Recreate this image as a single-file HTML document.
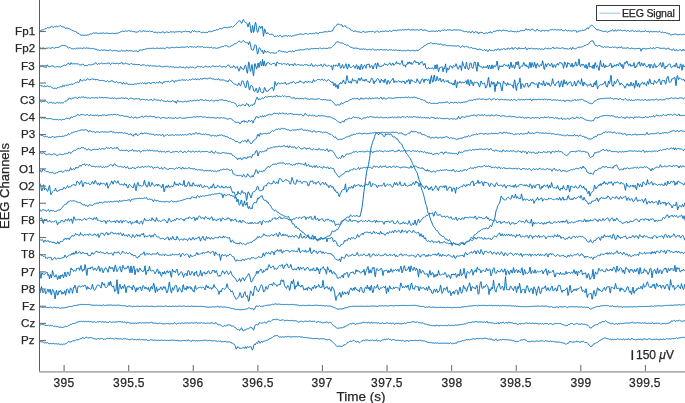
<!DOCTYPE html>
<html><head><meta charset="utf-8"><style>
html,body{margin:0;padding:0;background:#fff;}
body{width:685px;height:403px;overflow:hidden;position:relative;font-family:"Liberation Sans",sans-serif;color:#262626;}
div{will-change:transform;-webkit-text-stroke:0.25px #262626;}
svg{position:absolute;left:0;top:0;}
.yl{position:absolute;right:650.0px;font-size:11.6px;line-height:12px;margin-top:-6.3px;letter-spacing:0.05px;white-space:nowrap;text-align:right;}
.xl{position:absolute;top:376.5px;font-size:12px;line-height:12px;width:60px;margin-left:-30px;text-align:center;letter-spacing:0.35px;}
.xlab{position:absolute;left:311.3px;width:100px;text-align:center;top:390px;font-size:13.5px;line-height:14px;}
.ylab{position:absolute;left:-45px;top:179px;width:100px;text-align:center;font-size:13px;line-height:14px;transform:rotate(-90deg);}
.leg{position:absolute;left:596px;top:5px;width:84px;height:16px;border:1px solid #3a3a3a;background:#fff;box-sizing:border-box;}
.legt{position:absolute;left:622.4px;top:7.3px;font-size:10.6px;line-height:12px;letter-spacing:-0.22px;}
.sb{position:absolute;left:632px;top:350.2px;width:1.4px;height:9.8px;background:#262626;}
.sbt{position:absolute;left:636.3px;top:349px;font-size:12px;line-height:12px;}
</style></head><body>
<svg width="685" height="403" viewBox="0 0 685 403">
<g fill="none" stroke="#0a72bd" stroke-width="1.0" stroke-linejoin="round">
<path d="M39.5 31.3l.5-.2 .5-.4 .5-.3 .5-.2 .5-.3 .5-.1 .5 0 .5-.1 .5-.1 .5-.4 .5-.6 .5 0 .5 .4 .5-.5 .5-.7 .5-.3 .5 .1 .5 .2 .5 .2 .5 0 .5-.6 .5-.3 .5-.3 .5-.5 .5 .3 .5 .3 .5 .3 .5 .2 .5-.3 .5-.4 .5 0 .5 .1 .5-.4 .5-.2 .5 .3 .5 .3 .5-.2 .5-.5 .5 .2 .5-.2 .5-.6 .5 .2 .5 .3 .5 .5 .5 .4 .5 0 .5 0 .5-.1 .5 0 .5 .4 .5 .7 .5 .7 .5-.1 .5-.4 .5-.2 .5 .3 .5 .4 .5-.1 .5-.1 .5 .3 .5 .4 .5 .3 .5 .2 .5 .3 .5 .6 .5-.1 .5 0 .5 .2 .5 .4 .5 .5 .5 .1 .5-.1 .5 .1 .5 .4 .5 .8 .5 .5 .5 0 .5 0 .5 .2 .5 .6 .5 .6 .5 .2 .5 0 .5 .4 .5 .1 .5-.2 .5 0 .5 0 .5 0 .5 .1 .5-.1 .5-.1 .5 .2 .5 0 .5-.2 .5-.1 .5-.1 .5 0 .5-.2 .5-.4 .5-.1 .5-.2 .5 0 .5 .1 .5-.2 .5-.6 .5-.4 .5 0 .5 .2 .5 .1 .5-.2 .5 0 .5 0 .5 0 .5 .1 .5 .2 .5 .2 .5 0 .5-.2 .5-.1 .5 .4 .5-.3 .5-.2 .5 .1 .5 0 .5-.1 .5-.3 .5 .2 .5 .1 .5 .3 .5 .2 .5-.2 .5-.4 .5-.1 .5 .2 .5 .1 .5 .2 .5 .1 .5 0 .5 0 .5 0 .5 0 .5-.1 .5-.1 .5 0 .5-.1 .5-.1 .5 .4 .5 .2 .5-.3 .5-.1 .5 0 .5-.1 .5 .1 .5 .2 .5-.3 .5-.3 .5 0 .5-.1 .5-.3 .5-.3 .5-.3 .5-.2 .5-.5 .5-.1 .5 .1 .5 0 .5 .2 .5 .1 .5-.2 .5-.4 .5-.1 .5 .3 .5 .2 .5 0 .5-.2 .5-.3 .5-.2 .5 .1 .5 .2 .5 .4 .5-.1 .5-.1 .5-.1 .5 .2 .5 .4 .5 0 .5 .1 .5 0 .5-.1 .5 .2 .5 .3 .5 .1 .5 0 .5 .1 .5-.4 .5-.2 .5 0 .5-.4 .5-.7 .5 .1 .5 .4 .5 .4 .5 .3 .5-.3 .5-.4 .5-.2 .5 0 .5 .2 .5 .1 .5 0 .5-.2 .5 .2 .5 .5 .5 0 .5-.3 .5 .1 .5 0 .5-.6 .5-.1 .5 .5 .5 .4 .5-.1 .5-.2 .5-.3 .5 .2 .5 .5 .5 .5 .5 .1 .5 0 .5-.1 .5-.1 .5 0 .5 .1 .5 .3 .5 .3 .5-.4 .5-.5 .5-.2 .5 .6 .5 .7 .5-.4 .5-.3 .5-.1 .5-.4 .5 0 .5 .1 .5-.1 .5 .5 .5 .6 .5 .1 .5-.6 .5-.5 .5-.1 .5 0 .5 .2 .5 .1 .5 .3 .5 .2 .5-.5 .5-.4 .5 0 .5 .2 .5-.1 .5 0 .5 0 .5-.3 .5 .3 .5 .4 .5 0 .5-.2 .5-.3 .5 .1 .5 0 .5-.3 .5 0 .5 .2 .5 0 .5-.3 .5-.1 .5 .3 .5 .1 .5 .2 .5 .2 .5 0 .5-.3 .5-.2 .5-.2 .5 .2 .5 0 .5-.7 .5-.1 .5 .5 .5 .2 .5 0 .5 0 .5 .1 .5-.2 .5-.4 .5 .3 .5 .9 .5 .8 .5-.5 .5-1.1 .5-.5 .5-.4 .5 .3 .5 .6 .5-.3 .5-.2 .5 .3 .5 .1 .5 .2 .5 .2 .5 .1 .5 0 .5-.5 .5-.1 .5 .1 .5 .2 .5-.1 .5 .6 .5 .5 .5 0 .5-.2 .5-.1 .5 0 .5 0 .5 .1 .5 .1 .5 0 .5-.1 .5 .1 .5-.2 .5 0 .5 .2 .5-.2 .5-.6 .5-.7 .5 .1 .5 .4 .5 .2 .5-.1 .5 0 .5 0 .5-.3 .5-.3 .5-.3 .5-.2 .5 0 .5 0 .5-.1 .5-.7 .5 0 .5 .4 .5-.2 .5-.3 .5-.1 .5-.3 .5-.7 .5-.1 .5 .1 .5 .3 .5 .1 .5-.4 .5-.1 .5-.3 .5-.3 .5-.3 .5-.1 .5 0 .5 0 .5 0 .5 .2 .5 .2 .5-.1 .5-.2 .5-.2 .5-.2 .5 .1 .5 .1 .5-.1 .5-.3 .5-.4 .5 .3 .5 .5 .5-.3 .5-.5 .5-.5 .5-.4 .5-.4 .5-.5 .5-.6 .5-.6 .5-.6 .5-.7 .5-.6 .5-.4 .5-.3 .5-.1 .5 .1 .5 .3 .5 1 .5 1.1 .5-.3 .5-1.6 .5-1.5 .5-.3 .5 .8 .5 1.1 .5 .7 .5 .3 .5 .2 .5 .3 .5 .4 .5 2.2 .5 1.4 .5-1.8 .5-2 .5-.7 .5 2.2 .5 3.8 .5 3.4 .5 .9 .5-3.6 .5-3.7 .5 2.4 .5 4.6 .5-1 .5-3.5 .5-3.8 .5-1.8 .5 1.6 .5 3.4 .5 3.4 .5 1.6 .5-.9 .5-1.9 .5-2.1 .5-1.4 .5 .4 .5 1.7 .5 .1 .5-1.1 .5-1.1 .5 .6 .5 5.7 .5 3.9 .5-3.2 .5-4.1 .5 .4 .5 1.8 .5 1.9 .5 .9 .5-.6 .5-.7 .5 .3 .5 .6 .5 .5 .5 .2 .5 0 .5 .1 .5 .1 .5-.3 .5-.2 .5 .2 .5 .7 .5 .7 .5 .6 .5 .5 .5-.2 .5-.3 .5 .2 .5 0 .5-.5 .5-.5 .5 .6 .5 .5 .5-.4 .5-.4 .5-.3 .5 .1 .5 .3 .5 .7 .5 .8 .5-.7 .5-.6 .5 0 .5-.2 .5 .1 .5 .3 .5-.2 .5-.6 .5 0 .5 .8 .5 .2 .5-.6 .5-.3 .5 .5 .5 .2 .5-.3 .5-.2 .5 .3 .5 .4 .5-.3 .5-.3 .5 .2 .5 0 .5-.4 .5-.6 .5-.1 .5 .1 .5 0 .5-.1 .5-.1 .5-.1 .5 0 .5-.3 .5-.3 .5-.1 .5 0 .5 0 .5 .1 .5-.1 .5 .2 .5 .5 .5-.1 .5-.3 .5-.1 .5-.3 .5-.2 .5-.1 .5-.1 .5 0 .5 .2 .5 .5 .5 .3 .5-.2 .5-.5 .5-.5 .5-.1 .5 .3 .5 .2 .5 0 .5 .1 .5-.3 .5-.2 .5 0 .5 .2 .5 .1 .5-.4 .5-.4 .5 .2 .5-.1 .5 .1 .5 .3 .5 .5 .5-.3 .5-.7 .5-.3 .5-.1 .5 0 .5 .2 .5 0 .5-.3 .5 0 .5-.1 .5-.1 .5-.2 .5-.1 .5-.1 .5 0 .5-.1 .5 .1 .5 .3 .5 .1 .5-.6 .5-.3 .5 0 .5 .2 .5 .6 .5-.3 .5-.6 .5-.1 .5 .1 .5-.2 .5-1 .5-1.1 .5-.8 .5-.7 .5-.5 .5-.6 .5-.5 .5-.4 .5-.9 .5-.3 .5 .4 .5-.2 .5-.2 .5 .2 .5 .4 .5 .2 .5-.2 .5-.1 .5 .4 .5 1.3 .5 .3 .5-.2 .5 0 .5-.4 .5-.5 .5 .9 .5 .6 .5 .2 .5 .3 .5 .5 .5 0 .5-.1 .5 .5 .5 .3 .5 0 .5 .8 .5 .7 .5 .2 .5-.1 .5 .3 .5 .6 .5 .3 .5-.2 .5-.1 .5 .1 .5-.2 .5-.3 .5 .6 .5 .5 .5 0 .5-.1 .5-.1 .5 .1 .5 .2 .5 .1 .5 .2 .5 .1 .5 .1 .5-.6 .5-.2 .5 0 .5-.3 .5 0 .5 .8 .5 .5 .5-.6 .5-.4 .5 .2 .5 .2 .5-.1 .5-.2 .5-.2 .5 0 .5 0 .5-.2 .5 .2 .5 .3 .5-.2 .5-.2 .5-.2 .5-.1 .5 .4 .5 .5 .5 .2 .5-.1 .5-.2 .5-.3 .5-.5 .5-.3 .5 0 .5 .5 .5 .7 .5 .3 .5-.1 .5-.6 .5-.2 .5-.1 .5 0 .5-.1 .5-.2 .5 0 .5 .3 .5 .1 .5-.1 .5-.2 .5-.3 .5 0 .5 .2 .5 .1 .5 .1 .5 .2 .5 .1 .5-.5 .5-.5 .5 .1 .5 .3 .5 .2 .5 .2 .5-.1 .5-.6 .5-.4 .5-.1 .5 .1 .5 .1 .5 0 .5 .1 .5 .2 .5 .1 .5-.4 .5-.2 .5 0 .5-.1 .5 0 .5 0 .5-.3 .5 .1 .5 .3 .5-.1 .5-.4 .5-.2 .5 .2 .5 .3 .5-.1 .5-.1 .5-.2 .5 .1 .5 .1 .5 0 .5-.1 .5-.1 .5-.1 .5-.2 .5 0 .5 .3 .5 .6 .5 0 .5-.4 .5 0 .5-.1 .5 .2 .5 0 .5 0 .5 .1 .5 0 .5 0 .5 0 .5-.2 .5 0 .5-.1 .5 .1 .5 .2 .5 .2 .5 .1 .5-.3 .5-.3 .5 0 .5-.4 .5-.1 .5 .7 .5 .4 .5 0 .5-.1 .5 0 .5-.2 .5 0 .5 0 .5 0 .5 .4 .5 .1 .5 .3 .5 .2 .5 .4 .5 .2 .5 0 .5-.3 .5 0 .5 .1 .5-.2 .5-.2 .5 .3 .5 0 .5-.4 .5 .2 .5 .4 .5 .2 .5-.3 .5-.8 .5 .1 .5 .7 .5 .1 .5-.3 .5-.7 .5-.5 .5 .7 .5 .8 .5-.2 .5-.4 .5-.5 .5-.3 .5-.1 .5 .2 .5 .2 .5-.2 .5-.3 .5-.1 .5 .2 .5 .5 .5-.1 .5-.4 .5-.3 .5 .1 .5 .1 .5 .1 .5 0 .5 0 .5-.1 .5 .1 .5 .2 .5 .2 .5-.1 .5-.2 .5-.3 .5-.1 .5 .1 .5 .1 .5 .1 .5 0 .5 0 .5 .1 .5-.2 .5-.1 .5 .1 .5 .2 .5 .1 .5-.1 .5-.1 .5 0 .5 .4 .5 .4 .5 .1 .5 .2 .5 .2 .5 .2 .5 .2 .5 .1 .5-.3 .5-.4 .5 .3 .5 .5 .5 .2 .5 0 .5-.1 .5-.1 .5-.2 .5 .2 .5 .9 .5 .1 .5-1 .5-.6 .5 0 .5 .3 .5 .8 .5 .8 .5-.6 .5-.8 .5-.1 .5 .3 .5 .1 .5-.3 .5 .2 .5 1 .5 1 .5-.7 .5-.8 .5-.4 .5 .2 .5 .3 .5-.1 .5-.3 .5 .3 .5 .6 .5 .5 .5 .1 .5-.2 .5-.2 .5-.2 .5-.3 .5 0 .5 .4 .5 0 .5-.4 .5-.3 .5 .3 .5-.1 .5-1 .5 0 .5 .9 .5 .5 .5-.2 .5-.7 .5-.5 .5-.3 .5-.2 .5 .1 .5 .1 .5-.2 .5-.4 .5-.1 .5 0 .5-.1 .5 .2 .5 0 .5-.1 .5-.5 .5-.3 .5 .6 .5 .3 .5 .1 .5-.2 .5-.2 .5-.1 .5-.3 .5-.3 .5 .7 .5 .3 .5-.2 .5-.1 .5 .2 .5 .1 .5-.1 .5-.1 .5 .5 .5 .8 .5-.2 .5-.5 .5-.2 .5-.1 .5 .1 .5 .4 .5 .1 .5 .1 .5-.1 .5 0 .5 .1 .5-.1 .5 .1 .5 .4 .5 .2 .5-.7 .5-.2 .5 .4 .5 0 .5 0 .5-.3 .5-.7 .5 0 .5 0 .5 0 .5 0 .5-.1 .5 0 .5 0 .5 0 .5-.1 .5-.3 .5-.8 .5-.8 .5 .7 .5 .9 .5-.2 .5-.6 .5 .1 .5 .3 .5 .2 .5 .2 .5 .1 .5-.3 .5-.7 .5-.3 .5 .1 .5 .1 .5 .7 .5 .6 .5 .2 .5 .4 .5 .1 .5-.5 .5-.7 .5-.8 .5 .2 .5 .9 .5 .4 .5-.2 .5 0 .5 .3 .5 .4 .5 0 .5-.1 .5-.3 .5-.6 .5-.2 .5 .7 .5 .5 .5-.4 .5-.1 .5-.1 .5-.3 .5 .1 .5 .2 .5 .2 .5 0 .5 .1 .5-.3 .5-.5 .5-.3 .5-.2 .5 .2 .5 0 .5-.3 .5-.1 .5 .6 .5 .2 .5-.6 .5-.5 .5 .2 .5 .6 .5 .2 .5-.1 .5-.2 .5 .1 .5 .1 .5-.2 .5 .1 .5 .1 .5 0 .5-.2 .5-.4 .5 0 .5 .6 .5 .7 .5 .2 .5-.1 .5-.2 .5-.1 .5-.4 .5-.4 .5 .4 .5 .3 .5 .4 .5 .2 .5-.2 .5-.4 .5 .1 .5 .5 .5 0 .5-.2 .5 0 .5 .3 .5 0 .5-.2 .5-.2 .5-.1 .5 .4 .5 0 .5-.5 .5-.5 .5 .6 .5 1.2 .5 .7 .5-.5 .5-.8 .5-.2 .5 .1 .5-.1 .5-.2 .5 0 .5 .1 .5 .1 .5-.5 .5-.3 .5 .1 .5 .2 .5 0 .5-.3 .5-.4 .5-.1 .5-.2 .5-.9 .5-.8 .5 .1 .5 .7 .5 .2 .5-1.2 .5-.7 .5-.3 .5-.7 .5-.4 .5-.2 .5-.1 .5 .2 .5 .4 .5 .7 .5 .5 .5 .5 .5 .6 .5 .4 .5 .4 .5 .8 .5 .6 .5-.4 .5-.4 .5 .2 .5 .4 .5 .2 .5 .1 .5 .2 .5 .2 .5 0 .5 .1 .5 .2 .5 .2 .5 .2 .5-.1 .5 0 .5-.2 .5-.1 .5 .2 .5 .3 .5 .5 .5 .2 .5-.6 .5-.1 .5 .1 .5-.4 .5-.2 .5-.3 .5-.3 .5 .2 .5-.4 .5-.7 .5 .5 .5 .8 .5 .5 .5-.7 .5-.7 .5-.1 .5 .8 .5 .4 .5-.5 .5-.3 .5-.1 .5-.3 .5 0 .5 .5 .5-.1 .5-.2 .5 .2 .5 .1 .5 .3 .5 .1 .5-.2 .5-.1 .5 0 .5-.2 .5-.1 .5 .3 .5 .5 .5 .3 .5 0 .5-.7 .5-.6 .5 .5 .5 .7 .5 .3 .5-.2 .5-.4 .5-.1 .5 .1 .5-.4 .5-.2 .5 .5 .5 .4 .5 .2 .5 .2 .5-.4 .5-.4 .5 .1 .5 .6 .5 0 .5-.3 .5 0 .5 0 .5-.3 .5 0 .5 .3 .5 .5 .5 0 .5 0 .5-.2 .5-.1 .5 .1 .5-.1 .5 .3 .5-.3 .5-.7 .5 0 .5 .5 .5 .5 .5 .2 .5-.4 .5-.4 .5 .1 .5 .7 .5 .5 .5-1 .5-.2 .5 .6 .5-.1 .5-.1 .5 .2 .5 .2 .5-.3 .5-.2 .5 .1 .5 0 .5 0 .5-.1 .5 .1 .5 .1 .5 .3 .5 .1 .5-.3 .5-.3 .5-.3 .5 .2 .5 .6 .5 .6 .5-.1 .5-.4 .5-.1 .5 .2 .5 .4 .5 .2 .5-.3 .5-.2 .5 0 .5 .6 .5 .4 .5 0 .5-.1 .5 .3 .5 .2 .5-.1 .5 .2 .5 .3 .5 .7 .5 .5 .5-.5 .5-.4 .5 .1 .5 .1 .5-.1 .5-.3 .5-.1 .5-.2 .5 .2 .5-.1 .5 .3 .5 .4 .5 0 .5 0 .5 .1 .5-.3 .5 0 .5-.1 .5-.1 .5 .2 .5 .3 .5 .1 .5-.5 .5-.3 .5 0 .5 .1 .5 .3 .5 .2"/><path d="M39.5 48.3l.5-.5 .5 .3 .5 .4 .5-.3 .5-.1 .5 .1 .5-.3 .5-.1 .5 .1 .5 .4 .5 .7 .5-.3 .5-.5 .5-.1 .5-.1 .5 .2 .5 .1 .5-.5 .5-.2 .5 .4 .5 .5 .5-.3 .5-.4 .5 .2 .5-.2 .5-.3 .5-.1 .5 .5 .5 .6 .5-.3 .5-.4 .5-.2 .5-.2 .5 .1 .5-.1 .5-.1 .5 .1 .5 .1 .5-.2 .5-.4 .5-.3 .5-.4 .5-.4 .5-.1 .5-.1 .5-.2 .5 .1 .5 0 .5 0 .5 .1 .5 0 .5 .2 .5 .1 .5 .3 .5 .6 .5 .4 .5 .4 .5 .6 .5-.3 .5-.6 .5 .2 .5 .6 .5 .4 .5 .1 .5 .1 .5 .2 .5 .1 .5-.1 .5-.3 .5-.2 .5 .3 .5 .3 .5-.3 .5-.4 .5-.2 .5 0 .5 .1 .5 .1 .5-.1 .5 0 .5-.1 .5 0 .5 0 .5 .2 .5 .4 .5-.3 .5-.3 .5-.1 .5 0 .5-.1 .5 .3 .5 .2 .5-.2 .5-.4 .5 .3 .5 .1 .5-.3 .5 .3 .5 .3 .5-.2 .5-.1 .5 .2 .5 .2 .5 .2 .5 .1 .5-.4 .5-.3 .5 .1 .5 .6 .5 .2 .5 .1 .5 0 .5-.1 .5 .2 .5 .4 .5 .3 .5 0 .5-.1 .5 .3 .5 .2 .5 .2 .5-.3 .5-.4 .5-.1 .5 .2 .5 .2 .5 .2 .5-.3 .5-.3 .5 .1 .5 .2 .5 0 .5 .1 .5 .1 .5 .1 .5 .1 .5 .3 .5-.2 .5-.3 .5-.1 .5-.1 .5-.3 .5 .4 .5 .5 .5 .2 .5 0 .5-.3 .5 0 .5 0 .5-.2 .5 0 .5 .4 .5 .1 .5-.3 .5 .2 .5 .3 .5 .1 .5 .1 .5 0 .5-.2 .5-.1 .5 0 .5-.4 .5-.3 .5 .4 .5 .3 .5 .1 .5-.3 .5-.2 .5 .4 .5 .3 .5-.3 .5-.5 .5-.2 .5-.3 .5 .5 .5 .5 .5-.1 .5-.3 .5 .1 .5 .3 .5-.1 .5-.2 .5-.1 .5 .2 .5 .3 .5 .2 .5 .1 .5-.3 .5-.2 .5 .4 .5-.2 .5-.6 .5 .4 .5 .6 .5 .2 .5-.3 .5-.1 .5 0 .5-.8 .5-.9 .5 .5 .5 .3 .5-.3 .5-.1 .5-.2 .5-.2 .5-.1 .5 .1 .5-.1 .5-.3 .5-.3 .5-.2 .5 .2 .5 .2 .5-.3 .5-.5 .5 .1 .5 .2 .5 0 .5-.1 .5-.2 .5 0 .5 .1 .5 .1 .5-.2 .5-.3 .5 .1 .5 .3 .5 .5 .5 .1 .5-.5 .5-.4 .5 0 .5 0 .5 .1 .5 0 .5 .1 .5 .1 .5 0 .5-.1 .5-.2 .5-.1 .5 .3 .5 .1 .5-.2 .5-.1 .5 .2 .5 .3 .5 .2 .5 0 .5-.5 .5-.5 .5-.2 .5-.1 .5-.2 .5 .2 .5 .4 .5 .3 .5-.2 .5-.2 .5 .1 .5-.1 .5-.4 .5-.2 .5 .2 .5 .2 .5 0 .5 0 .5 .1 .5-.1 .5-.2 .5-.1 .5-.2 .5 0 .5 .4 .5 .2 .5-.1 .5-.1 .5-.1 .5 .1 .5 0 .5-.3 .5-.2 .5 0 .5 .1 .5 .1 .5 0 .5 .1 .5 0 .5-.1 .5-.1 .5-.1 .5-.3 .5-.1 .5 .1 .5 .5 .5 .3 .5-.3 .5-.5 .5-.1 .5 .1 .5-.2 .5 .4 .5 .3 .5-.5 .5 .1 .5 .6 .5-.3 .5-.5 .5 .1 .5 .6 .5 .3 .5-.4 .5-.4 .5-.3 .5 0 .5 .5 .5-.1 .5-.1 .5 .1 .5 .1 .5-.2 .5-.1 .5-.1 .5-.3 .5 .5 .5 .7 .5 0 .5-.5 .5 .2 .5 .5 .5-.3 .5-.3 .5-.1 .5 .4 .5 .1 .5-.2 .5 .1 .5 .4 .5 .2 .5-.5 .5-.4 .5 .1 .5 .4 .5 .6 .5-.1 .5-.3 .5 0 .5 .1 .5 0 .5 .1 .5 .1 .5 .3 .5-.1 .5-.4 .5-.1 .5 .2 .5-.4 .5-.1 .5 0 .5-.3 .5-.3 .5-.2 .5 0 .5-.3 .5 0 .5 .1 .5-.3 .5-.5 .5-.1 .5 .2 .5-.1 .5 0 .5 .2 .5 .4 .5 .3 .5 .3 .5 .1 .5 0 .5-.5 .5-.4 .5-.2 .5-.2 .5-.2 .5-.2 .5 .1 .5-.4 .5-.8 .5-.5 .5-.2 .5 .1 .5 0 .5-.2 .5-.5 .5-.5 .5-.5 .5-.4 .5-.2 .5-.1 .5 .4 .5 .6 .5 .3 .5-.2 .5-.6 .5-.6 .5-.5 .5 0 .5 .5 .5 .7 .5 .3 .5 .2 .5 .1 .5 0 .5 .1 .5 .2 .5 .5 .5 1.5 .5-1.9 .5-1.2 .5 1.3 .5 1.9 .5 2.6 .5 2.2 .5 .4 .5 .1 .5 .1 .5-.2 .5-2 .5-2.4 .5-.9 .5 .2 .5 .5 .5 1.7 .5 4.4 .5 2.6 .5-1.1 .5-2.4 .5-2.3 .5-.7 .5 .7 .5 1.1 .5 1.2 .5 .8 .5-.7 .5-.4 .5 2.5 .5 1.2 .5-1.8 .5-1.9 .5 .4 .5 1.3 .5 .5 .5-.4 .5-.5 .5 0 .5 .1 .5 .3 .5 .2 .5 .2 .5 .4 .5 .3 .5-.3 .5-.1 .5 0 .5 0 .5 .1 .5 .3 .5 .1 .5 0 .5 .1 .5-.1 .5-.1 .5-.2 .5-.4 .5-.5 .5-.5 .5-.4 .5-.4 .5-.2 .5 .3 .5 .3 .5-.1 .5 .1 .5 .5 .5 .2 .5-.2 .5 0 .5 .3 .5 .1 .5-.1 .5 0 .5 .1 .5 .2 .5 .2 .5 0 .5-.3 .5-.7 .5-.2 .5 .2 .5 0 .5-.1 .5 .3 .5 .1 .5-.4 .5-.4 .5 0 .5 .6 .5 .6 .5-.7 .5-.8 .5-.2 .5 0 .5 .1 .5 0 .5-.2 .5-.3 .5-.1 .5 .1 .5 .2 .5-.1 .5-.4 .5-.1 .5 .2 .5 .1 .5 0 .5-.1 .5-.1 .5-.1 .5-.1 .5-.2 .5-.1 .5 .2 .5-.4 .5-.6 .5 .4 .5 .6 .5 0 .5-.2 .5-.1 .5 .2 .5-.3 .5-.3 .5-.3 .5 .1 .5 .2 .5 .1 .5-.1 .5-.1 .5-.1 .5 .1 .5 0 .5 0 .5-.1 .5 0 .5 0 .5 .2 .5 .2 .5-.4 .5-.5 .5-.1 .5 .2 .5 .3 .5 .4 .5 .1 .5-.3 .5-.2 .5-.2 .5 .1 .5 0 .5 0 .5 .1 .5-.1 .5 .1 .5 .3 .5-.1 .5-.4 .5-.3 .5 0 .5 0 .5-.1 .5 .1 .5 0 .5-.3 .5-.5 .5-.5 .5-.5 .5-.6 .5-.6 .5-.2 .5-.4 .5-.8 .5-1 .5-.5 .5-.2 .5 .1 .5 0 .5 0 .5 .4 .5 .1 .5 .1 .5 .6 .5 .2 .5-.3 .5-.1 .5 .2 .5 .1 .5 .3 .5 .5 .5 .4 .5 0 .5-.1 .5 .6 .5 .5 .5-.1 .5-.4 .5 .2 .5 .4 .5 .4 .5 .6 .5 .6 .5 0 .5 .2 .5 0 .5 0 .5 .4 .5 .6 .5-.1 .5-.2 .5 .2 .5 0 .5-.2 .5 .1 .5 .2 .5 0 .5 0 .5 .1 .5 .1 .5 .3 .5 .3 .5 0 .5 .1 .5 .3 .5-.4 .5-.1 .5 .1 .5 0 .5-.2 .5 .1 .5 .3 .5 .1 .5-.3 .5 .1 .5 .3 .5 .3 .5 0 .5 0 .5-.2 .5-.3 .5-.1 .5 .1 .5 .4 .5 .3 .5-.1 .5-.4 .5-.8 .5 .2 .5 .4 .5 .5 .5 .3 .5-.1 .5-.1 .5-.1 .5 .2 .5 .1 .5-.4 .5-.3 .5 .3 .5 .3 .5 .1 .5-.1 .5-.5 .5-.4 .5 .4 .5 .4 .5 0 .5-.1 .5 .1 .5 .2 .5-.3 .5 0 .5 .2 .5-.2 .5-.4 .5 .2 .5 .7 .5 0 .5-.2 .5-.2 .5-.2 .5 .1 .5 .1 .5 0 .5-.2 .5 .2 .5 .5 .5-.1 .5-.3 .5 0 .5 .3 .5 0 .5-.3 .5-.1 .5 .1 .5 .1 .5 .4 .5 .2 .5-.2 .5-.3 .5 .4 .5 0 .5-.6 .5 .2 .5 .6 .5 .2 .5-.3 .5-.1 .5 .2 .5-.3 .5-.2 .5 .1 .5 .4 .5 .2 .5-.2 .5-.2 .5-.3 .5-.2 .5 .1 .5 .1 .5 .3 .5 .2 .5 .1 .5 0 .5-.3 .5 0 .5-.2 .5-.1 .5 .3 .5 .3 .5-.3 .5 .2 .5 0 .5-.3 .5-.2 .5 0 .5 .3 .5 .1 .5-.4 .5-.4 .5-.4 .5-.3 .5-.3 .5-.4 .5-.6 .5-.5 .5 0 .5-.1 .5-.8 .5-.8 .5 0 .5 0 .5-.4 .5-.5 .5-.4 .5-.4 .5-.2 .5-.2 .5-.2 .5-.1 .5 .2 .5-.3 .5-.4 .5-.2 .5 .3 .5 .5 .5 .3 .5-.2 .5-.1 .5-.2 .5 .3 .5 .2 .5-.5 .5 0 .5 .4 .5 .4 .5 .2 .5 0 .5-.1 .5 0 .5 .2 .5-.1 .5-.1 .5-.2 .5 .3 .5 .6 .5 .4 .5-.1 .5-.1 .5-.2 .5 0 .5 .3 .5-.1 .5 .1 .5 .4 .5 .4 .5-.1 .5-.1 .5 .1 .5-.2 .5-.2 .5 .2 .5 .1 .5 .1 .5-.2 .5 .1 .5 .2 .5 0 .5 0 .5-.1 .5 0 .5 .1 .5 .1 .5 .1 .5 .1 .5-.2 .5-.3 .5 .1 .5 .2 .5 .1 .5 .2 .5 1 .5 .4 .5-.5 .5-.7 .5-.5 .5-.2 .5 .3 .5 .6 .5 .4 .5-.1 .5-.1 .5 0 .5-.5 .5-.3 .5 .5 .5 .5 .5-.2 .5 .2 .5 .4 .5 .5 .5 .2 .5-.5 .5-.4 .5 .1 .5 .6 .5 .3 .5 0 .5 .1 .5-.1 .5 .1 .5 .1 .5 .1 .5 .3 .5 0 .5 .1 .5 .7 .5 .3 .5-.6 .5-.4 .5 0 .5 .2 .5 .2 .5 0 .5 .1 .5 .6 .5 .3 .5 .2 .5-.2 .5-.6 .5-.3 .5 .7 .5 .5 .5-.8 .5-.3 .5 .9 .5 .8 .5 .3 .5-.5 .5-1.1 .5-.7 .5 .6 .5 .6 .5 .1 .5-.2 .5-.2 .5 .3 .5 .3 .5 .1 .5-.5 .5-.4 .5-.2 .5-.1 .5 .1 .5 .3 .5-.2 .5-.8 .5-.2 .5 .1 .5 0 .5 .7 .5 .7 .5-.7 .5-.7 .5 .2 .5 0 .5 .1 .5 0 .5-.6 .5-.5 .5 1 .5 .5 .5-.1 .5-.8 .5 0 .5 .5 .5-.4 .5-.8 .5-.2 .5 .7 .5 .4 .5-.1 .5-.3 .5 .1 .5-.4 .5-.8 .5 .8 .5 1.2 .5-.3 .5-.7 .5-.6 .5-.4 .5 .1 .5 .4 .5 .5 .5 .4 .5 .3 .5-.3 .5-1.2 .5-.3 .5 .9 .5 .7 .5 0 .5-.6 .5 0 .5 .2 .5-.1 .5 0 .5 0 .5 0 .5-.1 .5-.7 .5-.3 .5 1 .5 1.1 .5 .3 .5-.6 .5-1 .5 0 .5 .5 .5-.1 .5-.1 .5 .1 .5-.1 .5-.3 .5 .3 .5 .3 .5 0 .5-.1 .5-.1 .5 0 .5 .2 .5 .1 .5 0 .5-.2 .5-.1 .5 .2 .5 .1 .5 .2 .5-.2 .5-.2 .5 .3 .5 .3 .5 0 .5-.2 .5-.3 .5 0 .5 .7 .5 0 .5-.6 .5-.1 .5-.3 .5-.6 .5 0 .5 .7 .5 .6 .5-.3 .5-.7 .5 0 .5 .3 .5 .3 .5-.1 .5 0 .5-.1 .5-.2 .5-.3 .5-.6 .5-.5 .5 1 .5 .7 .5-.4 .5-.2 .5 .2 .5-.1 .5-.4 .5-.1 .5 .3 .5 .1 .5 0 .5 0 .5 .2 .5-.2 .5 .3 .5 .1 .5-.4 .5-.3 .5-.1 .5 .4 .5 .1 .5-.1 .5 .7 .5 .2 .5-.4 .5-.2 .5 .2 .5 .2 .5 .1 .5 .4 .5-.1 .5-.5 .5-.1 .5-.4 .5-.5 .5 1 .5 .8 .5-.6 .5-1.3 .5-.2 .5 1 .5 .3 .5 0 .5 .2 .5 .1 .5-.1 .5-.5 .5-.6 .5-.5 .5-.4 .5 .3 .5-.1 .5 .1 .5 .4 .5-.3 .5-.4 .5 0 .5 .1 .5-.3 .5-.1 .5-.4 .5-.5 .5-.1 .5-.1 .5-.1 .5-.3 .5-.2 .5-.5 .5 0 .5 .1 .5-.4 .5-.6 .5-1.1 .5-.7 .5-.1 .5-.3 .5-.3 .5 .1 .5-.2 .5-.2 .5 1 .5 1.4 .5 .9 .5 .8 .5 .7 .5-.2 .5 .2 .5 .7 .5 .1 .5-.4 .5-.2 .5-.1 .5-.1 .5-.1 .5 .4 .5 .7 .5 .3 .5-.2 .5 .1 .5 .5 .5 .5 .5-.6 .5-.5 .5 .3 .5 .3 .5-.3 .5 0 .5 .2 .5-.2 .5-.2 .5 .2 .5 .2 .5 .5 .5-.1 .5-.2 .5 .3 .5-.1 .5-.5 .5-.2 .5 .5 .5 0 .5 0 .5-.2 .5-.2 .5 .1 .5 .6 .5 .1 .5-.1 .5 .4 .5 .1 .5-.7 .5-.1 .5 0 .5 .4 .5 0 .5-.8 .5-.3 .5 .8 .5 .8 .5 .4 .5-.4 .5-.1 .5 0 .5 .1 .5-.1 .5-.1 .5 .2 .5-.3 .5-.2 .5 0 .5 .2 .5 .4 .5 .5 .5 .3 .5-.1 .5-.8 .5-.2 .5 0 .5 .4 .5 .2 .5-.2 .5 .1 .5 .2 .5 .2 .5-.1 .5-.2 .5-.1 .5 0 .5 0 .5 0 .5 0 .5 0 .5-.2 .5-.1 .5 1.2 .5 1.8 .5-.8 .5-1.7 .5 .2 .5 0 .5-.7 .5 .2 .5 .1 .5 .1 .5 .3 .5 0 .5-.1 .5 0 .5-.1 .5 0 .5-.1 .5-.1 .5 0 .5-.2 .5-.4 .5-.1 .5 .5 .5 .5 .5-.3 .5-.8 .5-.1 .5 .7 .5 .6 .5-.4 .5-.4 .5-.2 .5-.4 .5 .3 .5-.1 .5-.5 .5 .4 .5 .5 .5 0 .5 0 .5 .2 .5 .2 .5-.1 .5-.1 .5-.1 .5 0 .5 .1 .5-.2 .5 .1 .5 .4 .5 .2 .5-.1 .5 .4 .5 0 .5-.8 .5-.5 .5 .7 .5 .8 .5-.2 .5-.2 .5 .5 .5 .4 .5 .1 .5 .4 .5 0 .5-.9 .5-.6 .5 .4 .5 1 .5 .7 .5-.7 .5-.6 .5 .2 .5 .1 .5 .4 .5 .6 .5-.2 .5-.5 .5-.4 .5-.5 .5 .4 .5 .6 .5 .6 .5 .1 .5-1.1 .5-.7 .5 .9 .5 .6 .5-.3 .5-.9"/><path d="M39.5 66.2l.5 .2 .5 .2 .5-.1 .5-.1 .5 0 .5-.3 .5 .1 .5 .4 .5 .3 .5 .1 .5-.3 .5 .3 .5 .6 .5-1 .5-1.5 .5-.1 .5 1.1 .5 .3 .5 0 .5 .3 .5 .3 .5-.5 .5-.7 .5 .1 .5 .3 .5-.2 .5 0 .5 .2 .5 .3 .5 .6 .5 .3 .5-.5 .5-.2 .5 0 .5-.2 .5 .1 .5 .4 .5-.1 .5-.2 .5 .1 .5 .1 .5 .3 .5-.2 .5-.4 .5-.3 .5-.2 .5 0 .5-.5 .5-.8 .5 .3 .5 .5 .5-.1 .5-.3 .5-.4 .5-.7 .5-.4 .5-.3 .5-.3 .5 .3 .5 .7 .5 .7 .5-.8 .5-1.4 .5 .7 .5 .8 .5-.2 .5-.2 .5-.1 .5-.1 .5 .4 .5 .1 .5-.2 .5-.2 .5 .2 .5 .3 .5-.2 .5 0 .5 .2 .5 .4 .5 .4 .5-.1 .5 0 .5 .1 .5 0 .5-.3 .5-.5 .5 .1 .5 .2 .5 .6 .5 .6 .5 0 .5-.1 .5-.1 .5 .1 .5 .4 .5-.3 .5-.5 .5-.5 .5-.1 .5 .5 .5 .3 .5-.4 .5-.2 .5 .2 .5-.2 .5-.3 .5-.2 .5 .1 .5 0 .5-.3 .5-.8 .5-.5 .5 .1 .5 .8 .5 .6 .5 .5 .5-.7 .5-.6 .5 .3 .5 .4 .5-.2 .5-.6 .5-.5 .5 .4 .5 .4 .5 .2 .5 .1 .5-.3 .5-.3 .5 .4 .5-.1 .5-.6 .5 .6 .5 .5 .5-.5 .5-.7 .5 0 .5 .2 .5 .2 .5 0 .5 .4 .5 .8 .5-.2 .5-.8 .5-.4 .5-.2 .5 .6 .5 .1 .5-.2 .5 0 .5 0 .5 .3 .5 .1 .5-.3 .5-.4 .5-.1 .5 .7 .5 .4 .5-.7 .5-.1 .5 .5 .5-.5 .5-.7 .5-.5 .5 .5 .5 1.4 .5 .2 .5-.4 .5 0 .5 0 .5-.3 .5-.4 .5 .2 .5 .5 .5-.2 .5 .2 .5 .3 .5 0 .5 .2 .5 .1 .5 0 .5-.5 .5-.6 .5 .2 .5 .5 .5 .3 .5 .4 .5-.3 .5-.6 .5 .6 .5 .6 .5-.5 .5-.2 .5 .2 .5 .1 .5-.1 .5-.1 .5 .1 .5 .1 .5-.1 .5 .1 .5 .6 .5 .7 .5-.6 .5-.5 .5 .1 .5 .2 .5-.2 .5-.3 .5 .2 .5 .6 .5 .3 .5 0 .5 0 .5-.3 .5-.3 .5 .1 .5 .4 .5 .3 .5 .2 .5-.4 .5-.5 .5 .3 .5 .5 .5 0 .5 0 .5 0 .5-.1 .5-.2 .5 .4 .5 .1 .5-.2 .5-.1 .5 .3 .5 .2 .5 0 .5 .2 .5-.4 .5-.5 .5 .3 .5 .2 .5 .1 .5-.1 .5 .5 .5 .5 .5-.4 .5-.2 .5 0 .5-.1 .5-.1 .5 0 .5 .1 .5 0 .5-.1 .5-.2 .5 .1 .5 .3 .5 .2 .5 .1 .5 .1 .5-.3 .5-.3 .5 .2 .5 .6 .5 0 .5-.3 .5-.2 .5 0 .5 .5 .5 .7 .5-.3 .5-.4 .5-.1 .5 0 .5 .2 .5 .2 .5 .2 .5 .2 .5-.6 .5-.7 .5 .2 .5 .1 .5 0 .5 .7 .5 .3 .5-.4 .5-.5 .5 .1 .5 .4 .5 .5 .5 .1 .5-.2 .5-.3 .5-.7 .5-.3 .5 .7 .5 .5 .5 .1 .5-.4 .5-.2 .5-.1 .5-.2 .5 .1 .5 .2 .5-.1 .5-.1 .5 0 .5 .2 .5 .4 .5 .5 .5-.4 .5 .1 .5 .1 .5-.6 .5-.9 .5-.3 .5 .4 .5 .1 .5-.4 .5 .1 .5 .5 .5 .1 .5-.3 .5-.3 .5 .1 .5 .8 .5 .5 .5-.4 .5-.3 .5-.1 .5-.6 .5-.3 .5-.1 .5 .4 .5 .4 .5 .1 .5 0 .5-.1 .5-.2 .5 0 .5 .2 .5 .5 .5-.1 .5-.5 .5-.4 .5-.3 .5 0 .5 .1 .5 .2 .5 .3 .5-.1 .5 .1 .5 0 .5-.6 .5 .1 .5 .4 .5 .1 .5-.1 .5-.5 .5-.1 .5 .2 .5 .2 .5 .4 .5 .2 .5-.2 .5 .2 .5-.2 .5-.3 .5-.1 .5 .2 .5 .8 .5-.2 .5-.3 .5-.3 .5-.3 .5-.8 .5-.6 .5 .2 .5 .5 .5 .6 .5 .8 .5 .5 .5-.1 .5-.2 .5 0 .5 .2 .5-.3 .5-1.1 .5-.1 .5 .5 .5 1 .5 .9 .5-.4 .5-.8 .5-.5 .5 .5 .5 1.6 .5 1.9 .5 .7 .5-1 .5-2.1 .5-1.6 .5 .5 .5 1.3 .5 .1 .5 .1 .5 .7 .5 .7 .5-.9 .5-2.2 .5-1.3 .5-.4 .5 1.6 .5 2.9 .5 2.6 .5 1.1 .5-4.9 .5-6.5 .5 .7 .5 3.2 .5 3.7 .5 1.9 .5-1.6 .5-3.7 .5-1.5 .5 3.5 .5 5 .5 2.7 .5-3.7 .5-7.2 .5-1.3 .5 1.4 .5 2 .5 1.9 .5-.3 .5-3.3 .5-2.4 .5 1.4 .5 3.3 .5-.9 .5-4.4 .5-.8 .5 2.1 .5 2.3 .5-1.2 .5-5.3 .5 4.4 .5 2.3 .5-4.7 .5-.2 .5 3.8 .5 1.1 .5-.9 .5-1.5 .5-.9 .5 .3 .5-.4 .5-.4 .5 .6 .5 1 .5 .4 .5-.1 .5 .1 .5 .2 .5-.4 .5-.5 .5-.2 .5 0 .5 0 .5-.2 .5 .6 .5 1.8 .5 .6 .5-2.3 .5-2 .5 .5 .5 .6 .5 .4 .5 .3 .5-.2 .5-.4 .5 .3 .5 .5 .5 .2 .5-.1 .5 .2 .5-.1 .5-.5 .5 .3 .5-.1 .5-.2 .5 .2 .5 .7 .5 .3 .5-.9 .5-.3 .5 .3 .5-.1 .5 .9 .5 1.1 .5-1.2 .5-.6 .5 .7 .5 .2 .5-.5 .5 .2 .5 1.1 .5 0 .5-1.6 .5-.9 .5 .5 .5 1.2 .5 .4 .5-.1 .5-.2 .5-.4 .5-.5 .5 .4 .5 .4 .5 .1 .5 .2 .5-.1 .5-.2 .5 .1 .5 .2 .5 0 .5 .1 .5 .1 .5-.2 .5-.6 .5-.1 .5 .5 .5-.3 .5-.5 .5 .6 .5 .4 .5 .2 .5 .1 .5-.3 .5 .1 .5 .5 .5-.2 .5-1 .5-1.1 .5 1 .5 1.5 .5 .5 .5-.7 .5-.2 .5 .4 .5-.4 .5-.7 .5-.2 .5 .5 .5 .7 .5 .4 .5-.6 .5-.5 .5-.1 .5 .3 .5 .3 .5-.7 .5-.8 .5 .9 .5 1.1 .5 .6 .5-.1 .5-1 .5-1.2 .5-.7 .5 .6 .5 1.2 .5 .4 .5-.2 .5 .1 .5 .2 .5-.4 .5-.4 .5-.1 .5 .4 .5 .5 .5 .2 .5-.4 .5-.2 .5 2 .5 2.4 .5-2.5 .5-2.8 .5 .6 .5 .4 .5 .5 .5-.3 .5-1.2 .5 .5 .5 .9 .5 .1 .5-.2 .5-1.3 .5-1.8 .5 1.1 .5 2.3 .5 1.8 .5 0 .5-1.3 .5-1.4 .5-1 .5 1.8 .5 1.9 .5 0 .5-.9 .5-.9 .5-1.9 .5-.8 .5 2.4 .5 2.3 .5 .7 .5-1.8 .5-3.1 .5-.1 .5 2.3 .5 1 .5-.1 .5 0 .5 0 .5-.2 .5-.5 .5-.5 .5-.7 .5 .8 .5 1.2 .5 1 .5-.9 .5-1.9 .5-.9 .5 1.2 .5 3.3 .5-.8 .5-2 .5 0 .5 1.7 .5 1.8 .5-1.7 .5-3.2 .5-.9 .5 2 .5 3.2 .5-1.5 .5-1.3 .5-.5 .5-.9 .5 .3 .5 2.3 .5 .7 .5-2.1 .5-2.2 .5 .2 .5 .5 .5-.7 .5-.3 .5 2.2 .5 1.7 .5-.9 .5-.9 .5-.3 .5 .1 .5 1.5 .5 1.9 .5-1.1 .5-2.4 .5-.8 .5-.6 .5-.9 .5 2.1 .5 3.4 .5-2.5 .5-3.6 .5 .6 .5 2.1 .5 1 .5-.5 .5 .2 .5 1 .5-.7 .5-.3 .5 .3 .5-.8 .5-.3 .5 .2 .5-.9 .5-1.1 .5 .2 .5 1 .5-.1 .5-.6 .5 .9 .5 .6 .5-.5 .5-.6 .5-.7 .5-.9 .5 .2 .5 1.4 .5 1 .5-.3 .5-.7 .5-1.1 .5-.4 .5 2.2 .5 .4 .5-.9 .5-.3 .5-.4 .5-1.2 .5-1.1 .5 1.7 .5 .8 .5-.5 .5-.6 .5 .2 .5 1 .5 .3 .5-.7 .5-.4 .5-.8 .5-2.3 .5 2.1 .5 2.8 .5 .4 .5 .2 .5-1 .5 .6 .5 1.8 .5-2.5 .5-.2 .5 .2 .5-1.9 .5-.8 .5 1.6 .5-.3 .5-1.5 .5 1.8 .5 .2 .5-1.4 .5 1.7 .5 .5 .5-.7 .5-.8 .5-.9 .5-.5 .5-1.1 .5 .1 .5 1.4 .5 .8 .5-.9 .5 .3 .5 .3 .5-.6 .5 1.2 .5 1.7 .5-.9 .5-1.2 .5 0 .5 .1 .5-.7 .5-.7 .5 1.2 .5 1 .5 1.5 .5-.1 .5-1.4 .5-.4 .5 2.7 .5 2.4 .5 .3 .5-.1 .5 .4 .5-.7 .5-.8 .5 .2 .5 .8 .5 .1 .5-.5 .5 .3 .5 0 .5-.4 .5-.3 .5 .6 .5 .9 .5-.2 .5-1.5 .5-2.6 .5 .7 .5 3.4 .5-2.3 .5-2.2 .5 2 .5 2.8 .5 2.3 .5-1.5 .5-2.4 .5-.4 .5 .1 .5 0 .5-.5 .5-.3 .5 2 .5 3.2 .5-1.7 .5-2.3 .5 1.1 .5-2.1 .5-2.9 .5 3.9 .5 4.8 .5-2.5 .5-2.2 .5 1.4 .5 .8 .5-1.2 .5-2 .5-1.1 .5 .1 .5 .3 .5 .1 .5 1.4 .5 .7 .5-2 .5-.9 .5 .2 .5 .5 .5 .3 .5-1.7 .5-1.1 .5 1.3 .5 1.7 .5 1.7 .5 .8 .5-1.2 .5-.5 .5-1.7 .5-.4 .5 .6 .5 2.4 .5 2.1 .5-4.2 .5-4.7 .5 1.6 .5 2.4 .5 .5 .5 1.1 .5 1.5 .5-.2 .5-4.1 .5-2.3 .5 3.6 .5 1.9 .5 1.3 .5 .9 .5-1.1 .5-2.3 .5-3 .5-.5 .5 .1 .5 2.5 .5 2.2 .5 .7 .5-.1 .5-2 .5-3 .5-1.3 .5 0 .5 1.2 .5 3 .5 3.4 .5 1.7 .5-5.2 .5-3.9 .5 3.2 .5 .8 .5-.6 .5 1.1 .5 .1 .5-.5 .5 .4 .5 1 .5 .3 .5 .2 .5-1.6 .5-.1 .5 .8 .5-.1 .5-.5 .5 1.2 .5-.4 .5-1.2 .5-1.1 .5 2.3 .5 1.6 .5-3 .5-1 .5 1.5 .5 1.7 .5 .7 .5-2 .5-2.2 .5 1.9 .5 1.9 .5-1.2 .5-1.9 .5 .2 .5 1.2 .5-.2 .5-.8 .5-2.2 .5-2.6 .5 1.9 .5 4.4 .5 2.8 .5-2.4 .5-2 .5-.1 .5 .7 .5 .4 .5-.8 .5-.2 .5 1.2 .5-.9 .5-1.3 .5-.5 .5 0 .5 .4 .5 .9 .5-.2 .5-.3 .5 .9 .5 .5 .5-.7 .5-1.4 .5 2 .5 2.6 .5-1.9 .5-2.9 .5-2.2 .5 3 .5 2.6 .5-.4 .5-1.8 .5-.4 .5 1.6 .5 2 .5-1.3 .5-2.7 .5-2.7 .5 1.3 .5 1.9 .5-.7 .5-3.1 .5 .5 .5 4.7 .5 2.5 .5-1.2 .5-.8 .5-.3 .5-.8 .5-.1 .5 .4 .5-1.3 .5-2.2 .5-.1 .5 1.6 .5 1.7 .5 .1 .5-1.4 .5 .8 .5 1.5 .5-1 .5 .7 .5 1.8 .5-1.6 .5-3.7 .5-.9 .5 2.8 .5 2.8 .5-2 .5-3.3 .5 .9 .5 2.2 .5 1.5 .5-1.9 .5-3 .5 1.7 .5 2.2 .5 2.2 .5-1.8 .5-2.9 .5-.3 .5 1.7 .5 .9 .5 .6 .5 .2 .5-1.2 .5-.7 .5 0 .5 1 .5-1.8 .5-3.3 .5 1.4 .5 3.5 .5 3.4 .5 .4 .5-3.1 .5-2.5 .5 1.3 .5 1.8 .5-1.7 .5-1.2 .5-.1 .5-.5 .5 .7 .5 1.3 .5 .4 .5 0 .5-1.2 .5-1.5 .5 .9 .5 2.9 .5 .7 .5-2.1 .5-1 .5 .4 .5 .9 .5 1.7 .5-1.7 .5-1 .5-1 .5-.3 .5 1.5 .5 0 .5-1.5 .5-1.1 .5 .2 .5 .1 .5-.3 .5 1.3 .5 .5 .5-.5 .5 1.9 .5 2.8 .5-2.3 .5-4.1 .5 .1 .5 1.8 .5 .7 .5 3 .5-.6 .5-4.2 .5-.2 .5 1.3 .5-.7 .5 .9 .5 .5 .5 1.2 .5 1.1 .5-2.2 .5-1.5 .5 1.7 .5 2.4 .5-1 .5-1.1 .5 .9 .5-1.6 .5-2.7 .5 .9 .5 3 .5 .4 .5-.7 .5-.3 .5-3.5 .5-2.7 .5 3.1 .5 4.1 .5 .4 .5-1 .5-1.2 .5-.2 .5 1 .5 .3 .5-1.1 .5 .7 .5 2 .5 .8 .5-.6 .5-2.8 .5 .7 .5 3.9 .5-1.5 .5-1.4 .5-1.6 .5-1.9 .5 2.8 .5 1.8 .5-.7 .5 0 .5 .2 .5 1.2 .5 .2 .5-3.2 .5 .2 .5 3.6 .5-2.5 .5-3.4 .5-.1 .5 3.1 .5 1.4 .5-1 .5-.6 .5 .9 .5 2.4 .5 1.6 .5-2.8 .5-4.8 .5-2.4 .5 3.5 .5 2 .5-.2 .5 1.2 .5-.7 .5-2.9 .5 1.8 .5 2.8 .5-.6 .5-2.1 .5 0 .5 1.4 .5 .4 .5-.6 .5-.5 .5-.1 .5 .3 .5-.5 .5-1.6 .5-1.1 .5 .7 .5 2.5 .5 1.7 .5-1 .5-1.3 .5 1 .5 0 .5-1.7 .5 0 .5 .8 .5 .6 .5-1.2 .5-1 .5 1 .5 .5 .5 0 .5-1.6 .5-1.3 .5 .6 .5 .1 .5 2.3 .5 1 .5-2.4 .5 1.1 .5 3.3 .5-.9 .5-3 .5-2 .5-.5 .5 1.1 .5-.4 .5-1.9 .5-.1 .5 1.9 .5 1.2 .5 1.2 .5 .4 .5-1.3 .5-.6 .5 1.2 .5 1.4 .5-.9 .5-.4 .5 .8 .5 .2 .5-1.4 .5-2.1 .5 2.9 .5 2.5 .5-1.3 .5-.1 .5 .5 .5-1.8 .5-2 .5 0 .5 0 .5-1.6 .5 .3 .5 3.6 .5 .7 .5-1.7 .5-1.8 .5 .8 .5 1.3 .5 1.1 .5-.4 .5-2.4 .5 .4 .5 1.3 .5 .5 .5 .7 .5 .9 .5 .3 .5-.8 .5 0 .5-1.1 .5-1.3 .5 2.1 .5 1.9 .5-1.8 .5-2.1 .5 .7 .5 .8 .5 .9 .5 1.6 .5-.5 .5-3.3 .5-.9 .5 1.3 .5 1.3 .5 1.5 .5-1.3 .5-.4 .5 .6 .5-.2 .5-.5 .5-.8 .5-1 .5-.7 .5-.7 .5 2.1 .5 2.4 .5-.3 .5-2.3 .5-2 .5 .9 .5 3.2 .5 2 .5 .5 .5-1.8 .5-1.3 .5 .8 .5 .1 .5-.9 .5-1.2 .5-.5 .5-.3 .5 0 .5 .1 .5 1.2 .5 2 .5 .5 .5-.3 .5-.9 .5-.4 .5 .1 .5-.8 .5-.6 .5 2.1 .5-.4 .5-3.2 .5-.5 .5 2.5 .5 2.4 .5-.4 .5-.3 .5 1.2 .5-.1 .5-2.5 .5-1.9 .5 .6 .5 2.8 .5 3.1 .5-2.4 .5-3.3 .5 1.2 .5 1 .5-.8 .5 1.1"/><path d="M39.5 84.5l.5 .3 .5 .5 .5 .5 .5 .2 .5 0 .5-.1 .5 .6 .5 .6 .5-.5 .5-.8 .5 0 .5 .6 .5 .3 .5-.6 .5-.4 .5 .3 .5 .3 .5 0 .5 .1 .5 .6 .5-.4 .5-.4 .5 .7 .5 .5 .5 .4 .5 .1 .5 .3 .5 .4 .5-.3 .5-.1 .5 .1 .5 0 .5 .3 .5 0 .5-.6 .5-.4 .5-.1 .5 .2 .5-.2 .5-.4 .5-.3 .5-.1 .5-.1 .5 .2 .5 .4 .5-.9 .5-.9 .5 .6 .5 .7 .5-.4 .5-1 .5-.5 .5 .5 .5 .1 .5-.4 .5 .1 .5-.3 .5 .3 .5-.2 .5-.3 .5 .1 .5-.1 .5-.3 .5-.3 .5 .1 .5 .3 .5 0 .5-.6 .5-.2 .5-.1 .5-.5 .5-.4 .5 .2 .5-.2 .5-.6 .5-.1 .5 .3 .5 .3 .5 .1 .5-.8 .5-1.8 .5-.9 .5 1.3 .5 .5 .5 0 .5-.1 .5-.4 .5-.5 .5-.1 .5 .2 .5 .1 .5 .2 .5 .1 .5-.4 .5-1 .5-.4 .5 .1 .5 .4 .5 .7 .5 .3 .5-.6 .5 0 .5 .1 .5-.6 .5-.4 .5 .4 .5 .2 .5 .2 .5 .3 .5-.5 .5-.2 .5 1 .5 .1 .5-.7 .5 0 .5 .2 .5 .2 .5 .1 .5 .2 .5 .6 .5 .1 .5-.3 .5-.1 .5 0 .5 .1 .5 .1 .5-.1 .5 .1 .5 .1 .5 .1 .5 .3 .5 .3 .5 0 .5 0 .5-.5 .5-.2 .5 .5 .5 .5 .5 .3 .5-.2 .5-.5 .5 0 .5 .1 .5-.4 .5-.7 .5 .8 .5 .6 .5-.1 .5 .2 .5 .4 .5 0 .5 .1 .5-.2 .5-.6 .5 .4 .5 .7 .5 .6 .5-.3 .5-.1 .5-.2 .5-.1 .5-.1 .5-.1 .5 .6 .5 1 .5 .2 .5-1.1 .5-.6 .5 .6 .5 .7 .5 .2 .5-.1 .5-.4 .5-.4 .5 .1 .5 .9 .5 .5 .5-.1 .5-.2 .5 0 .5 .1 .5 .1 .5-.1 .5 .1 .5 .1 .5-.2 .5 0 .5 .2 .5-.2 .5-.3 .5 0 .5-.1 .5 .2 .5 .1 .5-.4 .5-.4 .5 .2 .5 .2 .5-.3 .5-.1 .5-.2 .5-.3 .5 .5 .5 .2 .5-.5 .5-.4 .5 .4 .5 .4 .5-.2 .5-.2 .5 .1 .5 .4 .5 .6 .5-.9 .5-.6 .5 .4 .5 .2 .5-.5 .5-.6 .5 .4 .5 .9 .5 0 .5-.2 .5-.1 .5 0 .5-.5 .5-.6 .5 .5 .5 .1 .5-.4 .5 .7 .5 .3 .5-.5 .5-.4 .5-.1 .5 .5 .5 .4 .5-.1 .5-.9 .5-.9 .5 .6 .5 .9 .5-.1 .5 0 .5 .9 .5 .2 .5-.9 .5-1 .5-.4 .5 .4 .5 .1 .5-.4 .5-.4 .5 .4 .5 .2 .5-.2 .5-.1 .5-.2 .5 .3 .5 .7 .5-.4 .5-.4 .5 0 .5-.6 .5-.8 .5 0 .5 .5 .5 .7 .5 .9 .5 .1 .5-1.2 .5-.6 .5 .3 .5 .3 .5-.3 .5-.1 .5-.1 .5-.3 .5-.2 .5 .2 .5 .2 .5-.3 .5 0 .5-.1 .5-.5 .5 .2 .5 .3 .5 .1 .5-.2 .5-.1 .5 .3 .5 .3 .5-.5 .5-.5 .5 .2 .5 .5 .5 .5 .5-.4 .5-.5 .5-.4 .5 .3 .5 .3 .5-.4 .5-.1 .5-.3 .5-.3 .5 0 .5 .3 .5 .2 .5-.1 .5-.1 .5-.2 .5 0 .5 .7 .5 0 .5-.8 .5-.4 .5 .4 .5 .8 .5 .1 .5-.6 .5-.7 .5-.1 .5 .6 .5 .5 .5-.5 .5-.9 .5 .4 .5 .2 .5-.4 .5 .1 .5 .2 .5 .1 .5 0 .5 .2 .5 0 .5-.4 .5-.2 .5 0 .5-.1 .5 0 .5-.1 .5-.3 .5 .6 .5 .7 .5-.1 .5-.1 .5 0 .5 .1 .5 .4 .5 .4 .5-.2 .5-.4 .5-.1 .5 .5 .5 .2 .5-.7 .5-.4 .5 .4 .5 .9 .5 .4 .5-.3 .5-.3 .5 .1 .5 .2 .5-.1 .5-.2 .5 .2 .5 .3 .5 0 .5 .3 .5 .4 .5-.1 .5 0 .5 0 .5 .3 .5 .9 .5-.8 .5-1.2 .5-.5 .5 .3 .5 .8 .5 .3 .5 .2 .5 .4 .5 .7 .5 .7 .5 .3 .5 .3 .5 .4 .5 .3 .5 0 .5 .2 .5 .5 .5 .1 .5 .6 .5-.7 .5-1.8 .5 0 .5 1.2 .5 1.1 .5 .3 .5-1 .5-1.9 .5-1.6 .5-.7 .5 .5 .5 1.1 .5 1.7 .5 1.4 .5 1.4 .5 1.2 .5-.7 .5-2.8 .5-3.1 .5-.7 .5 1.5 .5 3.2 .5 3.1 .5 1.7 .5-1.3 .5-2.7 .5-.8 .5 .4 .5 .3 .5 .3 .5 1.5 .5 2.2 .5 1.2 .5 .2 .5-.1 .5-1.2 .5-1.8 .5 .3 .5 2.3 .5 2 .5-.6 .5-1.5 .5-1.9 .5-1.6 .5 1.3 .5 2.2 .5 1 .5 .5 .5 .5 .5 .1 .5 0 .5-.9 .5-2.4 .5-2.2 .5 .6 .5 1.9 .5 1 .5 .2 .5 0 .5 .6 .5-.5 .5-1.2 .5-.2 .5-.2 .5-.6 .5-.8 .5-.3 .5-.1 .5-.4 .5 .1 .5 1.3 .5 1.8 .5-.7 .5-5.4 .5-3 .5 1.2 .5 2.1 .5 .8 .5-1.1 .5-1.3 .5-.3 .5-.1 .5 .3 .5 .7 .5 .1 .5-.1 .5-.4 .5-.3 .5 .3 .5 0 .5-.3 .5 .2 .5 .3 .5-.4 .5-.9 .5 .2 .5 1.5 .5 .5 .5 0 .5-.7 .5-.5 .5 .6 .5 0 .5-.9 .5-.3 .5 .1 .5 .2 .5-.1 .5-.8 .5 .2 .5-.2 .5-.7 .5 .4 .5 .7 .5 .8 .5 .3 .5-.9 .5-.4 .5 .5 .5-.4 .5-.5 .5 .4 .5 .2 .5-1 .5-.8 .5 1 .5 .3 .5-.2 .5 .1 .5 .1 .5 .5 .5 .7 .5 .2 .5-1.2 .5-.5 .5-.5 .5 0 .5 1 .5 .3 .5-.3 .5-.4 .5-.3 .5 0 .5 .6 .5-.1 .5-.3 .5 .6 .5 .2 .5 .1 .5-.2 .5-1.5 .5-1.4 .5 .8 .5 1 .5 .2 .5-.6 .5-.4 .5-.1 .5-.5 .5-.5 .5-.3 .5 .5 .5 .3 .5-.4 .5 .4 .5 .3 .5-.6 .5-.3 .5 0 .5-.1 .5 1 .5 .5 .5-.6 .5-.6 .5 .2 .5 .5 .5 .7 .5 .5 .5-.6 .5-.4 .5-.8 .5 0 .5 .4 .5 .7 .5 .3 .5 .4 .5 0 .5 .5 .5 1 .5-1.1 .5 .5 .5 3.1 .5 .5 .5-1.2 .5-1.4 .5 2.1 .5 1.9 .5-1.7 .5-.9 .5 2.4 .5 1.7 .5-1.7 .5-3.1 .5-.5 .5 .3 .5-1.2 .5 .1 .5 1.2 .5-.9 .5-.9 .5-1.4 .5-.8 .5 2.1 .5 .4 .5 1 .5 .7 .5-2.4 .5-4.2 .5-1.9 .5 3.1 .5 1.5 .5 1.1 .5 1.6 .5-.5 .5-1 .5 .1 .5 1.9 .5-.4 .5-2.4 .5-2 .5 1.5 .5 1 .5-.7 .5-.1 .5 .2 .5-.5 .5 .8 .5 2.1 .5 .6 .5-1.5 .5-1.8 .5-1.7 .5-.4 .5 1.9 .5 .7 .5-.8 .5-1.7 .5-.7 .5 1.8 .5 1.1 .5 .5 .5-.4 .5-.9 .5 1.4 .5 .2 .5-1.7 .5-.6 .5 1.4 .5 .2 .5 .7 .5 .6 .5-.7 .5 .7 .5 1.1 .5-1.1 .5-1.1 .5-1 .5-1.8 .5 .6 .5 .9 .5 .3 .5 3.2 .5 1 .5-2.2 .5-.8 .5 .8 .5-.5 .5-1.5 .5-.8 .5-.4 .5 .7 .5 0 .5 1 .5 1.5 .5 1.3 .5-.7 .5-2.5 .5-.6 .5 1.5 .5 .4 .5-.9 .5 .9 .5 1.6 .5-1.9 .5-1.9 .5 1.3 .5 1.3 .5 2.1 .5 .9 .5-3 .5-1.3 .5 .4 .5 1.3 .5 1.7 .5-.9 .5-1.3 .5-.6 .5-.3 .5-.5 .5-1.4 .5-.4 .5 1.7 .5 2.8 .5-1 .5-1 .5 1 .5 .6 .5-.8 .5 0 .5 .4 .5-.5 .5-.8 .5 .5 .5 .2 .5 .8 .5-.8 .5 .5 .5 1 .5-1.2 .5-.8 .5 .6 .5 .5 .5-.9 .5 .7 .5 2.1 .5-.4 .5-1.2 .5-1.3 .5-.5 .5 1.4 .5-.4 .5-1.8 .5 0 .5 3.1 .5 1.5 .5-2.4 .5-2.3 .5 1.2 .5 .6 .5-.9 .5 .3 .5 .5 .5 .5 .5 .3 .5-.1 .5 .5 .5 .3 .5-1.3 .5-2.6 .5 .9 .5 1.5 .5-.1 .5 .7 .5 1.5 .5 .6 .5-1.1 .5-1.8 .5-1.1 .5-.8 .5-.3 .5 .4 .5 1.7 .5 1.5 .5-2.5 .5-.9 .5 1.3 .5-.7 .5-.2 .5 .8 .5 .4 .5-.8 .5-.7 .5 .4 .5 2.4 .5 2.1 .5-3 .5-4.1 .5-1.4 .5 4.1 .5 2.4 .5 .1 .5-2.2 .5-4.8 .5 .2 .5 4.7 .5 1.1 .5-.2 .5-1 .5-3.5 .5 1 .5 2.1 .5 1.4 .5-.8 .5-1.3 .5-.8 .5 .6 .5 2.7 .5 .8 .5-1.6 .5-.2 .5-1 .5 .4 .5 2 .5 .3 .5-.3 .5-.5 .5-.5 .5 .9 .5 .3 .5-1.1 .5-.5 .5 1.6 .5 1.3 .5-.4 .5 .3 .5 0 .5-.4 .5 .2 .5 1.1 .5 .7 .5-1.4 .5 0 .5 1.9 .5-1.4 .5-3.6 .5-.2 .5 4.6 .5 3.3 .5-2.6 .5-3.1 .5 .2 .5 .7 .5 .1 .5-1.1 .5-.9 .5 1 .5 .9 .5-.2 .5-.4 .5-.5 .5-.1 .5 .9 .5 .1 .5-.5 .5-.2 .5-.9 .5-.7 .5 2.7 .5 .9 .5-2.6 .5-2.1 .5 2.8 .5 2.7 .5 .7 .5-3 .5-2.9 .5 .6 .5 3 .5-.7 .5-.3 .5 2.7 .5 .9 .5-3.1 .5-.9 .5 .3 .5 .4 .5-.2 .5-.4 .5 .6 .5 .2 .5-.1 .5 1 .5 2 .5 1.3 .5-1.4 .5-3.3 .5-1.4 .5 .9 .5 1.1 .5 .9 .5-.2 .5 .1 .5-.5 .5-.4 .5 1.9 .5 3.2 .5-.1 .5-1.4 .5-.3 .5-2.5 .5-4 .5-2.3 .5 2.9 .5 5.6 .5 1.4 .5-.6 .5-2.6 .5-2.5 .5 .9 .5 1.5 .5 .4 .5-1.8 .5-.5 .5 5.3 .5 4.2 .5-4.5 .5-3.3 .5 2.3 .5-1.5 .5-3.3 .5 .8 .5 1.4 .5 .1 .5-.7 .5-.3 .5 2.3 .5 2.1 .5 2.8 .5 1.2 .5-3 .5-4.3 .5-2.7 .5 1.1 .5 1.2 .5-.4 .5 .4 .5 1 .5 1.4 .5-.8 .5-2.2 .5 .3 .5 1.5 .5 .5 .5-.6 .5 .2 .5-.3 .5 .4 .5 .5 .5 .3 .5-.6 .5 2.2 .5 1.1 .5-5.3 .5-3.1 .5 1.4 .5 3.4 .5 4.3 .5 1.7 .5-4.3 .5-2.5 .5 .3 .5-.9 .5-.4 .5-1.9 .5-3 .5 5.9 .5 5 .5-2.9 .5-2.3 .5 .6 .5 .1 .5 1.4 .5 1.6 .5-.1 .5-.9 .5-2.4 .5-.7 .5 .7 .5-.5 .5 .1 .5 2.6 .5 1.2 .5-1.6 .5-.3 .5 .7 .5-1.9 .5-1.2 .5 .1 .5-1 .5 .3 .5 1.1 .5-.7 .5 .2 .5 .9 .5 .6 .5-.5 .5-.4 .5 .2 .5 .2 .5 2.1 .5 2 .5-3.8 .5-2.1 .5 1.4 .5 0 .5 .1 .5 .7 .5-1.1 .5 .5 .5 1.5 .5-1.5 .5-3 .5 1.9 .5 3 .5 .3 .5-.5 .5-2.1 .5-.8 .5 0 .5 1.2 .5 1.2 .5-1.7 .5-.4 .5 2 .5 1.2 .5 .1 .5-.8 .5-.8 .5-2.7 .5-3.2 .5 1.8 .5 3 .5 .4 .5 .8 .5 1.3 .5-1.5 .5-1.3 .5-.3 .5-.1 .5-.7 .5-.7 .5-.4 .5 2.3 .5 3.9 .5-1 .5-1.8 .5-2.1 .5-1.5 .5 1.8 .5 4.5 .5-1.1 .5-4.1 .5-2.2 .5 1.6 .5 2.8 .5-.4 .5-1.9 .5 0 .5 2.3 .5 1.1 .5-1.5 .5-.8 .5 .1 .5-.9 .5-.3 .5-.1 .5 1 .5 1.9 .5 1.6 .5-.1 .5-1.1 .5-.5 .5-.6 .5-2.6 .5 1.4 .5 3.2 .5 .1 .5-1.1 .5-1.7 .5-1.3 .5-1.4 .5 .2 .5 1.6 .5 .7 .5 .3 .5 1 .5-1.8 .5-3.9 .5 2.6 .5 3 .5 1.9 .5-1.1 .5-2.9 .5 1.2 .5 1.1 .5-.6 .5-.1 .5 .6 .5 .9 .5 1.2 .5-.8 .5-.8 .5-.1 .5 .3 .5 .3 .5-1.5 .5 .4 .5 2 .5 .4 .5-.6 .5 1.1 .5-.4 .5-3.6 .5-.4 .5 2.5 .5-.3 .5-3.9 .5-.5 .5 5.3 .5 3 .5-1.4 .5-.9 .5-.5 .5-.6 .5-.4 .5-.4 .5 .3 .5-.1 .5 .2 .5-.8 .5-.2 .5-.1 .5-.2 .5-.6 .5-1.8 .5 1.6 .5 2.2 .5 1.4 .5 .5 .5 0 .5-3 .5-3 .5 1.7 .5 .8 .5-1.8 .5-3.4 .5-3.1 .5 4.2 .5 5 .5 1.8 .5 .2 .5-.3 .5-2.9 .5-1.9 .5 1.6 .5 .8 .5-.8 .5-1.2 .5-1.2 .5-1.4 .5 1.4 .5 1 .5 .8 .5 1.5 .5 1.3 .5-.6 .5-1.6 .5 .7 .5 .4 .5 .3 .5 .9 .5 .3 .5 .4 .5 1.2 .5 1.1 .5-1.1 .5-1.3 .5-.8 .5-1.5 .5 .2 .5 1.8 .5 .1 .5-1.3 .5 1 .5 .9 .5-1.5 .5-2.5 .5 1.4 .5 2.1 .5 0 .5-1.1 .5-1.6 .5 2.3 .5 3 .5-1.7 .5-4.4 .5-1.8 .5 2 .5 3 .5 .9 .5-2.1 .5-1.1 .5 2.3 .5 1.9 .5-2.4 .5-1.1 .5 .5 .5-.5 .5-1.3 .5-.1 .5 .3 .5 1.5 .5-.3 .5-1.3 .5 1.4 .5 .9 .5 .5 .5 .3 .5-2.3 .5-2 .5 .7 .5 2.2 .5-1.7 .5-3.7 .5 .8 .5 2.4 .5 1.6 .5-.3 .5 .4 .5-.3 .5 .5 .5 .7 .5-2.4 .5-1.8 .5 .3 .5 .7 .5 1.3 .5 .6 .5-1.2 .5-.6 .5 .1 .5-1.4 .5-1.4 .5 .3 .5 2.4 .5 2.1 .5 1.1 .5-1.2 .5-2.9 .5-.4 .5 .6 .5-.2 .5-.6 .5 .4 .5 2 .5 1.6 .5-.4 .5-3.8 .5-1.8 .5-1.3 .5-.5 .5 1.7 .5 3.2 .5 1.3 .5 0 .5-.4 .5-.5 .5-1.6 .5-1.4 .5 .2 .5-.3 .5-.2 .5 0 .5-1 .5 .3 .5 4.4 .5 3.7 .5-3.9 .5-5.5 .5-.7 .5 2.4 .5 1.6 .5-.6 .5-1 .5-.2 .5 .6 .5 .6 .5 .4 .5 .5 .5 0 .5-.4 .5-.1 .5-.1 .5 1.9 .5-.7"/><path d="M39.5 99.5l.5 1.1 .5 .8 .5 .3 .5 .2 .5-.1 .5-.4 .5 0 .5 .2 .5 .2 .5-.1 .5-.6 .5-.3 .5 .4 .5 .5 .5 .6 .5 0 .5 .4 .5 .6 .5-.3 .5-.4 .5-.1 .5-.2 .5-.3 .5 .2 .5 .7 .5 .2 .5-.2 .5-.1 .5 .1 .5 .1 .5 .4 .5 0 .5-.3 .5-.3 .5-.3 .5-.1 .5 .6 .5 .1 .5-.4 .5 0 .5 .1 .5 .1 .5 0 .5 0 .5 .1 .5-.1 .5-.1 .5-.1 .5-.3 .5-.6 .5-.5 .5-.2 .5-.1 .5-.1 .5-.3 .5-.4 .5-.2 .5-1.1 .5-1.1 .5 .3 .5 .5 .5 .2 .5 .3 .5 .1 .5-.6 .5-.6 .5 0 .5 .1 .5 .1 .5-.2 .5-.6 .5-.5 .5 .6 .5 .6 .5 .4 .5 0 .5-.4 .5-.7 .5-.3 .5 .1 .5 .4 .5 .4 .5-.5 .5-.4 .5 .1 .5 0 .5-.2 .5-.1 .5 .1 .5 .7 .5 .1 .5-.6 .5 .1 .5 .4 .5 .5 .5-.1 .5-.1 .5-.2 .5-.2 .5 .2 .5 .6 .5-.1 .5-.2 .5-.4 .5-.2 .5 .2 .5 0 .5 .2 .5 .1 .5 0 .5-.2 .5-.1 .5-.2 .5 .2 .5 .1 .5 .3 .5 .3 .5-.5 .5-.5 .5-.2 .5 .2 .5 .4 .5-.1 .5-.3 .5-.4 .5 .4 .5 .6 .5-.2 .5-.1 .5-.1 .5 0 .5 0 .5 .1 .5 .1 .5-.1 .5-.1 .5 0 .5 .5 .5 .1 .5 0 .5 0 .5 .1 .5 .1 .5-.2 .5-.3 .5 0 .5 .3 .5 .3 .5-.3 .5-.2 .5 .1 .5 .1 .5 .6 .5 .1 .5-.2 .5-.3 .5-.1 .5 0 .5-.1 .5 .1 .5 .2 .5-.2 .5-.2 .5-.2 .5 .3 .5-.1 .5-.2 .5 .2 .5 .3 .5 .1 .5-.2 .5-.2 .5-.1 .5 .3 .5 .3 .5-.2 .5 .6 .5 .5 .5-.5 .5-.4 .5-.2 .5-.2 .5-.1 .5 .1 .5 .1 .5 .2 .5 .3 .5 .2 .5 .1 .5-.1 .5-.2 .5 0 .5-.2 .5 .1 .5 .3 .5-.1 .5-.2 .5-.1 .5-.2 .5 .3 .5 .8 .5 .7 .5-.1 .5-.6 .5-.2 .5 .1 .5 .2 .5-.1 .5-.2 .5 .1 .5 .3 .5 .3 .5-.1 .5-.5 .5 0 .5 .4 .5 .4 .5 .3 .5-.2 .5-.4 .5-.2 .5-.1 .5-.3 .5 .1 .5 .9 .5 .5 .5-.2 .5-.3 .5-.7 .5-.7 .5 .4 .5 .5 .5 .1 .5 .1 .5 .1 .5 0 .5-.1 .5 0 .5 .3 .5 .1 .5 .1 .5 .3 .5-.4 .5-.7 .5 .1 .5 .5 .5 .6 .5 .2 .5 .1 .5-.1 .5 .2 .5 .2 .5 .2 .5-.3 .5-.6 .5 .1 .5 .3 .5 .3 .5-.1 .5 0 .5 .4 .5 0 .5 .1 .5-.3 .5-.6 .5-.2 .5-.2 .5 .5 .5 .8 .5 0 .5-.7 .5 .5 .5 1.4 .5 .1 .5-1.6 .5-1.2 .5 .1 .5 .8 .5 .3 .5 .2 .5-.1 .5-.3 .5 .3 .5-.2 .5 0 .5 .4 .5 .1 .5-.2 .5 .2 .5-.2 .5-.6 .5-.1 .5 .6 .5 .1 .5-.2 .5-.3 .5-.1 .5 0 .5 0 .5-.1 .5-.2 .5-.4 .5 .3 .5 .3 .5-.2 .5-.1 .5 0 .5-.2 .5-.4 .5 .1 .5 .4 .5 .1 .5 .1 .5-.6 .5-.6 .5 .2 .5 .7 .5 .1 .5-.4 .5 0 .5-.2 .5-.7 .5 0 .5 .8 .5 0 .5-.3 .5 0 .5 .5 .5 .5 .5-.4 .5-.6 .5-.1 .5 .2 .5 .3 .5 .3 .5-.1 .5-.1 .5 .1 .5 .4 .5 .3 .5-.3 .5-.3 .5-.4 .5-.2 .5 .4 .5 .5 .5-.2 .5 .1 .5 .4 .5-.3 .5-.4 .5-.1 .5 0 .5 0 .5-.3 .5 .7 .5 .2 .5-.5 .5-.5 .5-.2 .5-.1 .5 .2 .5 .1 .5-.2 .5 0 .5 .1 .5 .2 .5 .2 .5 .2 .5 0 .5-.1 .5-.2 .5 .1 .5 .2 .5 .1 .5 .3 .5 .4 .5 .3 .5-.1 .5-.5 .5 .2 .5 .5 .5 .3 .5 .4 .5 .3 .5-.3 .5-.2 .5 .2 .5 .5 .5 .3 .5-.1 .5 .4 .5 .9 .5 1 .5 1 .5 .3 .5-.6 .5-.7 .5-.2 .5 0 .5 .4 .5 .2 .5-.3 .5 0 .5-.7 .5-.6 .5 .4 .5 .2 .5 .3 .5 .5 .5 .5 .5-.6 .5-1.2 .5-.8 .5 .5 .5 .2 .5-.2 .5 1 .5 1.5 .5 .1 .5-.5 .5-.6 .5-.7 .5 .1 .5 .5 .5-.1 .5-.9 .5-.2 .5-.1 .5 .1 .5-1.4 .5-2 .5-1.3 .5-1.5 .5-.8 .5 .2 .5 1.5 .5 1.2 .5-.7 .5-.4 .5 .4 .5-.1 .5-.4 .5-.3 .5-.3 .5-.2 .5 .4 .5 0 .5-.7 .5-.3 .5-.3 .5-.6 .5 .2 .5 .4 .5 .1 .5-.3 .5-.2 .5-.3 .5-.1 .5 .1 .5 .1 .5-.1 .5-.2 .5 .1 .5 .4 .5 .2 .5-.4 .5-.2 .5 0 .5-.1 .5 .3 .5 .1 .5-.7 .5-.9 .5 .5 .5 .8 .5 .2 .5 0 .5-.1 .5-.5 .5 .3 .5 .5 .5 .1 .5-.6 .5-.5 .5-.1 .5 .5 .5 .4 .5-.3 .5-.4 .5 0 .5 .2 .5 .5 .5 .3 .5-.1 .5-.3 .5-.2 .5 .1 .5 .1 .5 0 .5 .1 .5 .5 .5 .4 .5 .7 .5 .1 .5-.4 .5-.3 .5 .2 .5 .1 .5-.1 .5 .4 .5 .7 .5 .1 .5-.7 .5-.3 .5 .1 .5 0 .5 .6 .5 .4 .5-.4 .5-.3 .5 .1 .5 .1 .5 .1 .5-.1 .5-.1 .5 .3 .5 .2 .5-.2 .5-.6 .5-.5 .5 .4 .5 .4 .5 .2 .5 .1 .5 .2 .5 0 .5 .2 .5 .2 .5 0 .5-.4 .5-.1 .5 .1 .5-.1 .5-.1 .5 .2 .5 .1 .5-.1 .5 .1 .5 .1 .5 .2 .5 0 .5-.1 .5-.1 .5-.2 .5 0 .5 .2 .5-.5 .5-.3 .5 .5 .5 .3 .5 .3 .5 0 .5 0 .5 .2 .5 .2 .5-.2 .5-.2 .5 .2 .5 0 .5-.4 .5 0 .5 .4 .5 .3 .5-.1 .5 .2 .5 .2 .5-.2 .5 0 .5 .2 .5 0 .5-.2 .5 .2 .5 .5 .5 .6 .5 .3 .5 .4 .5 .5 .5 .6 .5 .6 .5 .7 .5 .7 .5 .4 .5-.4 .5-.2 .5-.3 .5-.3 .5 .4 .5 .3 .5-.1 .5-.1 .5-.7 .5-1.1 .5-.4 .5 .4 .5 .4 .5 .1 .5-.3 .5-.5 .5-.5 .5-.3 .5-.2 .5-.3 .5 0 .5 .2 .5-.2 .5-.6 .5-.2 .5-.1 .5-.4 .5-.6 .5 0 .5 .3 .5-.5 .5-.6 .5-.2 .5 .4 .5-.1 .5-.3 .5-.2 .5 0 .5 .5 .5 .3 .5-.4 .5-.6 .5 .1 .5 .4 .5 .1 .5 .5 .5 .5 .5-.1 .5-1.1 .5-1 .5 .4 .5 .9 .5-.1 .5 .1 .5 0 .5-.1 .5-.1 .5-.4 .5-.1 .5 .1 .5 0 .5-.1 .5 .4 .5 .6 .5-.2 .5-.6 .5-.5 .5-.2 .5 .9 .5 .6 .5-.6 .5-.5 .5 0 .5 .3 .5 .1 .5 0 .5-.3 .5-.2 .5 0 .5 0 .5 .1 .5 0 .5-.2 .5 .3 .5 .5 .5 0 .5-.1 .5-.3 .5-.9 .5-.4 .5 1 .5 .9 .5 .2 .5 0 .5-.8 .5-.8 .5 .5 .5 .8 .5 .3 .5-.1 .5 0 .5-.3 .5-.4 .5-.3 .5-.2 .5 0 .5 .2 .5-.1 .5 .2 .5 .1 .5-.1 .5 .1 .5 .2 .5 .2 .5-.3 .5-.1 .5-.1 .5-.3 .5-.1 .5 .1 .5-.1 .5 .1 .5 0 .5-.1 .5-.1 .5-.1 .5 0 .5 .1 .5 .2 .5 0 .5-.2 .5-.2 .5 0 .5 0 .5 .2 .5 0 .5-.2 .5-.2 .5 0 .5 .2 .5 0 .5 .1 .5 .1 .5-.3 .5-.4 .5 0 .5 .5 .5 .2 .5 .3 .5-.1 .5-.5 .5 0 .5 .4 .5-.1 .5-.4 .5-.2 .5 .2 .5 .3 .5 0 .5-.2 .5 .3 .5 .7 .5 0 .5-.2 .5 .3 .5 .3 .5-.1 .5 .5 .5 .2 .5 .2 .5 .1 .5 .1 .5 0 .5 .2 .5 .5 .5 .1 .5-.4 .5 .6 .5 .7 .5 .5 .5 .3 .5 0 .5 .3 .5 .3 .5 .3 .5-.3 .5-.4 .5 .4 .5 .5 .5 .1 .5 0 .5 0 .5-.1 .5 .1 .5 0 .5 .1 .5-.2 .5 .1 .5 .1 .5-.1 .5 0 .5 .1 .5-.1 .5-.3 .5-.1 .5-.3 .5-.3 .5 .3 .5 .1 .5-.2 .5 0 .5 .2 .5 .1 .5-.1 .5-.3 .5 .1 .5-.1 .5-.3 .5 0 .5 .2 .5-.3 .5-.3 .5 .2 .5 .2 .5 .5 .5 .7 .5 .1 .5-.8 .5-.4 .5 0 .5 .1 .5 0 .5 .1 .5 .3 .5 .3 .5-.2 .5-.5 .5-.1 .5 0 .5-.2 .5 .4 .5 .5 .5 .1 .5-.4 .5-.4 .5 0 .5 .3 .5 .3 .5-.1 .5-.2 .5-.1 .5-.1 .5 .1 .5 0 .5-.4 .5-.1 .5 0 .5-.1 .5 0 .5 0 .5 0 .5-.1 .5-.6 .5-.1 .5 0 .5-.7 .5-.6 .5 .5 .5 .1 .5-.3 .5 .1 .5 .3 .5 0 .5-.1 .5-.8 .5-.4 .5 .3 .5 .3 .5 0 .5-.3 .5-.6 .5 0 .5 .2 .5 .1 .5 0 .5 0 .5-.4 .5 .1 .5 .3 .5 .1 .5 .1 .5 .1 .5-.3 .5-.2 .5-.2 .5 .6 .5 .5 .5-.5 .5 0 .5 .2 .5 0 .5-.1 .5-.2 .5-.3 .5 .1 .5-.3 .5-.2 .5 .5 .5 .3 .5 .4 .5 .4 .5-.5 .5-.7 .5-.4 .5 .3 .5 0 .5-.1 .5 .5 .5 .4 .5-.2 .5 0 .5-.2 .5-.6 .5 .3 .5 .5 .5 .5 .5-.1 .5-.3 .5 0 .5-.1 .5-.2 .5 .1 .5 0 .5-.2 .5 .5 .5 .6 .5-.4 .5-.7 .5 .1 .5 .4 .5 .1 .5 0 .5 0 .5 0 .5 0 .5 0 .5 .3 .5 .3 .5-.2 .5-.5 .5-.2 .5 .4 .5 .5 .5-.2 .5-.5 .5-.3 .5 0 .5 0 .5 .6 .5 .7 .5 0 .5-.5 .5-.5 .5-.5 .5-.3 .5 .5 .5 .7 .5-.1 .5-.2 .5-.2 .5-.3 .5 .2 .5 .2 .5 0 .5-.1 .5 .1 .5 .2 .5-.1 .5-.3 .5-.2 .5-.1 .5 .2 .5 .2 .5 .1 .5-.1 .5 .1 .5-.2 .5-.4 .5-.2 .5 .9 .5 .8 .5 .1 .5-.9 .5-.8 .5 .3 .5 .5 .5-.1 .5-.3 .5 .1 .5 .3 .5-.2 .5-.1 .5 0 .5-.1 .5-.1 .5-.1 .5 .2 .5 0 .5 .2 .5 .1 .5-.1 .5-.4 .5-.2 .5 .6 .5 .2 .5-.4 .5-.5 .5 0 .5 .8 .5-.2 .5-.4 .5 .5 .5 .3 .5-.3 .5-.1 .5 .3 .5-.1 .5-.3 .5-.1 .5 .2 .5 .5 .5 .7 .5-.5 .5-.7 .5 .3 .5 .4 .5-.2 .5-.4 .5 .2 .5 .3 .5 .2 .5-.2 .5-.2 .5 .4 .5 .1 .5 0 .5 .1 .5 0 .5-.3 .5 .4 .5 .5 .5-.2 .5-.3 .5 0 .5-.3 .5 .1 .5 .9 .5 .3 .5-.9 .5-.3 .5 .3 .5-.1 .5-.3 .5 0 .5 0 .5 .2 .5 .3 .5 0 .5 .1 .5 .2 .5-.2 .5-.4 .5-.2 .5 0 .5 0 .5 0 .5-.5 .5-.5 .5 .9 .5 .6 .5-.5 .5-.5 .5 .1 .5 .1 .5 0 .5-.2 .5-.1 .5 .1 .5 .1 .5-.2 .5-.5 .5-.1 .5 .6 .5 .5 .5 0 .5 .3 .5 .4 .5 .1 .5 .1 .5 .1 .5 .3 .5 .3 .5 .3 .5 0 .5 .6 .5 .7 .5-.1 .5-.2 .5 .2 .5 .3 .5 .1 .5 0 .5-.2 .5-.4 .5-.7 .5-.7 .5-.7 .5-.1 .5 0 .5-.1 .5-.6 .5-.6 .5-.1 .5-.1 .5-.3 .5-.2 .5 .1 .5 .1 .5-.3 .5-.2 .5-.1 .5 0 .5 .1 .5 .1 .5-.1 .5-.1 .5-.2 .5-.1 .5 .2 .5 .1 .5-.3 .5-.1 .5 .2 .5-.1 .5 .1 .5 0 .5-.1 .5 0 .5-.2 .5-.2 .5 .5 .5 .2 .5-.1 .5 .5 .5 .4 .5-.3 .5-.2 .5 0 .5-.2 .5-.1 .5 .2 .5 .1 .5 0 .5 .7 .5-.1 .5-.3 .5-.2 .5-.2 .5-.2 .5 .3 .5 .8 .5 .3 .5-.3 .5-.1 .5 .4 .5-.3 .5-.6 .5-.5 .5 0 .5 .7 .5 .6 .5 .3 .5 0 .5-.1 .5-.1 .5-.4 .5-.2 .5 .9 .5 .6 .5-.8 .5-.3 .5 .4 .5 .5 .5-.1 .5-.3 .5 0 .5 .1 .5-.3 .5-.4 .5 .3 .5 .3 .5-.2 .5-.4 .5-.3 .5 .6 .5 .1 .5-.2 .5 .3 .5 .2 .5 0 .5-.4 .5-.2 .5 .1 .5 .3 .5 .2 .5-.3 .5-.4 .5-.1 .5 0 .5 .1 .5 .7 .5 .5 .5-.8 .5-.5 .5 .4 .5 .4 .5-.2 .5-.3 .5 0 .5 .1 .5 0 .5-.1 .5-.1 .5 .2 .5 0 .5 .1 .5 0 .5-.2 .5-.3 .5-.2 .5-.2 .5 .2 .5 .4 .5 .4 .5 .1 .5-.3 .5-.1 .5-.2 .5-.5 .5 .3 .5 .7 .5 0 .5-.2 .5-.2 .5-.1 .5 .1 .5 .1 .5-.2 .5-.3 .5-.8 .5-.1 .5 .2 .5 .2 .5 0 .5 .1 .5-.1 .5-.3 .5-.3 .5 0 .5-.2 .5-.3 .5 0 .5 .4 .5 .6 .5 0 .5-.4 .5-.3 .5 .1 .5-.1 .5-.2 .5 .4 .5 .6 .5-.2 .5-.1 .5-.1 .5-.4 .5 0 .5 .1 .5-.2 .5 0 .5 0 .5-.1 .5 .3 .5 .4 .5 .3 .5-.2 .5-.7 .5-.6"/><path d="M39.5 117.0l.5 .6 .5 0 .5 .2 .5 .5 .5 .1 .5-.6 .5-.1 .5 .2 .5 .2 .5 .2 .5-.2 .5-.1 .5 .2 .5 .3 .5 .4 .5-.2 .5-.3 .5 .3 .5 .2 .5-.5 .5-.2 .5 .6 .5 .2 .5-.3 .5 .4 .5 .2 .5 0 .5 .1 .5 0 .5 .3 .5-.1 .5-.2 .5 0 .5 .2 .5 0 .5-.2 .5 .2 .5 .5 .5 0 .5-.6 .5-.2 .5 .3 .5 .3 .5 .2 .5-.2 .5-.4 .5-.2 .5 .1 .5 .2 .5-.2 .5-.3 .5-.2 .5-.6 .5-.2 .5 .3 .5 .1 .5-.3 .5 0 .5 .5 .5 .4 .5-.5 .5-1.1 .5-.6 .5 .1 .5 .3 .5 .2 .5-.4 .5-.5 .5-.1 .5 0 .5-.1 .5-.2 .5-.3 .5-.2 .5-.5 .5-.9 .5-.1 .5 .6 .5 .7 .5-.1 .5-.5 .5-.1 .5-.1 .5-.3 .5-.1 .5 .5 .5 .4 .5-.4 .5-.4 .5 .4 .5 .5 .5 0 .5-.3 .5-.2 .5-.1 .5-.1 .5 .2 .5 .5 .5 .4 .5-.1 .5-.1 .5-.7 .5-.2 .5 .5 .5 .3 .5 .1 .5 .1 .5-.2 .5 .1 .5 .1 .5-.3 .5-.1 .5 .1 .5 .3 .5-.2 .5-.6 .5 .4 .5 1 .5-.3 .5-.4 .5 .1 .5-.1 .5 .1 .5 0 .5-.3 .5-.3 .5 0 .5 .2 .5-.1 .5-.2 .5 .3 .5 .3 .5-.1 .5 .2 .5 .1 .5-.8 .5-.1 .5 0 .5-.1 .5 .2 .5 .3 .5-.2 .5-.5 .5 0 .5 .2 .5 .3 .5-.1 .5-.5 .5-.1 .5 .1 .5 .1 .5 0 .5 .1 .5 .5 .5-.2 .5-.4 .5 .1 .5 .2 .5 .2 .5 .3 .5 .6 .5 .2 .5-.5 .5-.5 .5 0 .5 .4 .5 .3 .5 .3 .5 .2 .5 .1 .5 0 .5-.2 .5-.3 .5 .1 .5 .7 .5 0 .5-.2 .5 .4 .5 .3 .5 .2 .5 .4 .5-.2 .5-.5 .5-.3 .5-.1 .5 .5 .5 .7 .5 .3 .5-.3 .5-.4 .5-.7 .5 .3 .5 .7 .5 .2 .5-.1 .5 .1 .5-.3 .5-.2 .5-.1 .5-.2 .5-.1 .5 0 .5-.5 .5-.1 .5-.2 .5-.3 .5 .8 .5 .6 .5-.5 .5-.4 .5-.1 .5-.1 .5-.1 .5-.1 .5-.1 .5 .6 .5 .6 .5-.5 .5-.5 .5 .1 .5-.1 .5-.1 .5 0 .5 .3 .5 .3 .5 0 .5 0 .5-.1 .5-.3 .5 0 .5 .7 .5 .8 .5 0 .5-.1 .5 0 .5-.6 .5-.4 .5 .5 .5 .2 .5-.1 .5 .5 .5 .8 .5-.3 .5-.3 .5-.3 .5-.2 .5 0 .5 0 .5 .2 .5 .1 .5 .2 .5-.1 .5 .1 .5 .3 .5 .1 .5-.2 .5-.5 .5-.1 .5 0 .5 .5 .5 .2 .5-.4 .5 0 .5 .1 .5 .2 .5 .2 .5-.1 .5-.1 .5 0 .5 0 .5-.3 .5-.5 .5 .3 .5 .6 .5 .2 .5-.5 .5-.1 .5 .1 .5-.2 .5-.1 .5 .1 .5-.1 .5 .3 .5 .2 .5 0 .5 .1 .5-.2 .5 .1 .5 .1 .5-.1 .5-.1 .5-.1 .5-.1 .5 .2 .5-.2 .5-.7 .5 .1 .5 .2 .5 .2 .5-.1 .5-.2 .5-.1 .5 .1 .5 0 .5 0 .5-.2 .5-.3 .5 0 .5-.1 .5-.1 .5 .2 .5 .3 .5-.3 .5-.2 .5 0 .5-.1 .5 0 .5 .3 .5 .2 .5-.4 .5-.2 .5-.1 .5 0 .5 .2 .5 .4 .5 .3 .5 0 .5-.2 .5-.2 .5 0 .5-.1 .5 .1 .5 .5 .5 .2 .5-.2 .5 0 .5-.1 .5 0 .5 .1 .5 .3 .5 0 .5-.1 .5 0 .5 .1 .5 .1 .5-.1 .5-.1 .5 0 .5 .2 .5 .1 .5-.1 .5 .2 .5 0 .5 0 .5-.3 .5-.3 .5 .2 .5 .3 .5 .2 .5 0 .5 0 .5-.1 .5-.2 .5-.2 .5 0 .5 .5 .5 .1 .5-.4 .5 0 .5 .2 .5 .1 .5 .1 .5 .4 .5 .2 .5 .2 .5 .1 .5 .1 .5-.3 .5-.3 .5 .1 .5 .1 .5-.4 .5 0 .5 .9 .5 .5 .5 .1 .5 .3 .5 .5 .5 .3 .5 .6 .5 .7 .5-.2 .5-.1 .5 .4 .5 .1 .5-.2 .5 0 .5-.3 .5 .6 .5 1.1 .5 .4 .5-.8 .5-.4 .5-.8 .5-1 .5 0 .5 .7 .5-.8 .5-.5 .5 1.4 .5 .2 .5-.6 .5 .2 .5 .2 .5-.1 .5 .6 .5-.5 .5-1.4 .5-.3 .5 .8 .5 .3 .5 .2 .5-.2 .5-.8 .5 0 .5 1.1 .5 1.6 .5-.8 .5-2.1 .5-.8 .5 0 .5-1.3 .5-1.5 .5-.1 .5 .6 .5-.1 .5-.1 .5 .6 .5-.1 .5-.6 .5-.3 .5-.3 .5 .2 .5 .5 .5-.3 .5-1 .5 .2 .5 .9 .5-.2 .5-.9 .5 0 .5 .7 .5-.5 .5-.7 .5 0 .5-.1 .5-.3 .5-.1 .5-.3 .5-.3 .5 0 .5 .4 .5 .4 .5-.1 .5-.1 .5-.3 .5-.7 .5-.2 .5-.1 .5-.2 .5 .2 .5 .1 .5-.3 .5 .1 .5 .2 .5-.1 .5 .3 .5 .4 .5-.4 .5-.9 .5 .3 .5 .7 .5-.1 .5-.5 .5-.1 .5 0 .5 .3 .5 0 .5 0 .5 .5 .5 0 .5-.1 .5-.3 .5-.2 .5 .4 .5 .6 .5 0 .5-.6 .5-.1 .5 .1 .5-.4 .5 .2 .5 .5 .5-.2 .5-.1 .5 .1 .5 .3 .5 .7 .5 .1 .5-.6 .5-.2 .5 .2 .5 .2 .5-.2 .5 0 .5 .1 .5 0 .5 .3 .5 0 .5 .1 .5-.1 .5-.5 .5-.3 .5 .6 .5 .7 .5 .2 .5 .1 .5 .2 .5-.1 .5-.8 .5-1.4 .5 .2 .5 .8 .5 .5 .5 .4 .5 .2 .5 .2 .5 .3 .5-.3 .5-.6 .5-.3 .5 .5 .5 .5 .5 0 .5-.5 .5-.2 .5 .4 .5 .4 .5-.3 .5-.4 .5 .6 .5 .5 .5-.1 .5 0 .5 0 .5 0 .5-.5 .5-.2 .5 .1 .5 .2 .5 .1 .5-.1 .5-.1 .5-.1 .5-.2 .5 .4 .5 .3 .5-.3 .5-.1 .5 .3 .5 .3 .5 0 .5 0 .5 .2 .5 .3 .5 0 .5-.1 .5 .1 .5 0 .5 0 .5 0 .5 .1 .5 .4 .5 .4 .5 .4 .5-.1 .5 .1 .5 .4 .5 .4 .5 .2 .5 .1 .5 .3 .5 .5 .5 .4 .5 .3 .5 .4 .5 .5 .5 .5 .5 0 .5 .4 .5 .5 .5-.1 .5-.2 .5-.7 .5-.7 .5 0 .5 .1 .5 .3 .5 .3 .5-1 .5-1.1 .5-.3 .5 .2 .5-.1 .5-.4 .5-.4 .5-.2 .5 0 .5-.1 .5-.4 .5-.3 .5 .5 .5 .1 .5-.1 .5-.3 .5-.6 .5-.3 .5-.3 .5 .2 .5 .3 .5 0 .5 0 .5 0 .5 .2 .5 .3 .5 0 .5-.4 .5-.2 .5 .6 .5 .4 .5 .1 .5 0 .5 .4 .5 .5 .5 0 .5-.6 .5-.5 .5-.2 .5-.1 .5 0 .5-.2 .5 .1 .5 .1 .5-.6 .5-.5 .5 .2 .5 .4 .5 0 .5-.3 .5-.2 .5-.1 .5-.2 .5-.2 .5 .3 .5 .2 .5 .2 .5 0 .5-.1 .5-.1 .5 .4 .5 .6 .5-.1 .5-.5 .5-.1 .5-.1 .5 0 .5 .3 .5 .3 .5 0 .5 0 .5-.1 .5-.4 .5-.3 .5 .4 .5 .2 .5 .2 .5 .1 .5 0 .5-.2 .5 0 .5 .2 .5-.1 .5-.1 .5-.1 .5 .1 .5 .5 .5 0 .5-.4 .5-.1 .5-.2 .5-.1 .5 .1 .5 0 .5-.1 .5-.1 .5-.2 .5 .4 .5 .3 .5-.4 .5-.2 .5 .2 .5 .6 .5 .3 .5-.4 .5-.6 .5-.2 .5 0 .5 0 .5-.2 .5 .3 .5 .3 .5 .3 .5 .2 .5-.6 .5-.8 .5 .2 .5 .3 .5-.2 .5-.2 .5 .3 .5 .5 .5 .2 .5-.2 .5-.6 .5-.6 .5 .2 .5 .8 .5 .2 .5-.6 .5 0 .5 .4 .5 0 .5-.2 .5 0 .5 .1 .5 .1 .5-.2 .5-.3 .5-.1 .5 .1 .5 .1 .5-.1 .5 .2 .5 .3 .5 0 .5-.2 .5-.1 .5 .4 .5 .2 .5 .1 .5-.4 .5-.2 .5 .4 .5 .3 .5 0 .5-.1 .5 .3 .5 .1 .5-.5 .5-.1 .5 .7 .5-.2 .5-.3 .5 .2 .5 .1 .5-.1 .5 0 .5-.1 .5 .2 .5 .7 .5-.1 .5-.7 .5-.5 .5-.1 .5 .1 .5 .1 .5 .5 .5 .1 .5-.5 .5 .6 .5 .7 .5-.1 .5-.7 .5-.1 .5 .1 .5 .1 .5 .3 .5 .2 .5-.3 .5-.5 .5 0 .5 .3 .5 .5 .5 0 .5 0 .5 0 .5-.1 .5 .1 .5 .2 .5-.2 .5-.2 .5 .3 .5 0 .5-.5 .5-.2 .5 .4 .5 .2 .5 .2 .5 .1 .5 .3 .5 0 .5-.5 .5-.4 .5 .2 .5 .3 .5 .2 .5 0 .5-.1 .5-.1 .5-.1 .5 .3 .5 .3 .5-.1 .5-.2 .5-.2 .5 0 .5-1.1 .5-1.3 .5 .8 .5 1.2 .5 .2 .5 0 .5-.8 .5-1 .5 .1 .5 0 .5-.2 .5 .2 .5 0 .5 .4 .5 .2 .5-.3 .5-.4 .5-.7 .5-.1 .5 .1 .5 .1 .5 .1 .5-.1 .5-.1 .5-.2 .5-.1 .5-.1 .5-.4 .5-.2 .5 .2 .5 0 .5-.2 .5 0 .5 0 .5 0 .5 .5 .5 .6 .5 .1 .5-.9 .5-.5 .5-.2 .5 .1 .5 .2 .5 .2 .5 0 .5 0 .5 0 .5-.1 .5 .1 .5-.2 .5-.1 .5 .5 .5-.1 .5-.8 .5 .3 .5 .5 .5 .3 .5 .2 .5 .1 .5-.1 .5-.6 .5-.3 .5 .5 .5 .7 .5 .1 .5-.4 .5-.8 .5-.2 .5 .3 .5 .1 .5 .3 .5 .5 .5 .1 .5-.3 .5-.3 .5-.3 .5-.3 .5 0 .5 .4 .5 .2 .5-.1 .5 0 .5 0 .5 .2 .5 .4 .5 .3 .5 .2 .5-.6 .5-.1 .5 0 .5-.2 .5 .1 .5 .2 .5 .2 .5-.1 .5 0 .5 .4 .5 .5 .5 0 .5-.3 .5-.4 .5 .1 .5 .2 .5-.4 .5-.2 .5 .4 .5 .3 .5 .3 .5 0 .5-.3 .5 0 .5 .1 .5 .1 .5-.1 .5 0 .5 .2 .5 .3 .5 0 .5 .2 .5 .2 .5-.2 .5-.1 .5-.1 .5-.3 .5 0 .5 .4 .5 .4 .5 .1 .5-.6 .5-.5 .5 .6 .5 .6 .5 .4 .5-.2 .5-.4 .5-.1 .5-.1 .5 .4 .5 .4 .5-.7 .5-.3 .5 .2 .5 .2 .5 0 .5 .4 .5 .3 .5-.2 .5-.2 .5-.4 .5-.2 .5 0 .5 .6 .5 .1 .5-.1 .5-.1 .5-.4 .5-.1 .5 .4 .5-.3 .5 .1 .5 .3 .5-.1 .5 .5 .5 .2 .5-.5 .5-.3 .5-.3 .5 .1 .5 0 .5 .1 .5 .4 .5 0 .5-.6 .5-.4 .5 .3 .5 .2 .5 .3 .5-.1 .5-.2 .5-.1 .5-.6 .5 0 .5 .6 .5 .4 .5-.2 .5-.1 .5 0 .5 0 .5 0 .5 0 .5 .2 .5 .2 .5 .3 .5 .2 .5-.5 .5-.3 .5 .4 .5 .2 .5-.3 .5-.3 .5 .8 .5 .6 .5-.1 .5-.2 .5 0 .5-.4 .5-.6 .5 .4 .5 .9 .5 .4 .5-.1 .5-.5 .5-.2 .5 .3 .5 .2 .5-.1 .5 .1 .5-.1 .5-.5 .5-.2 .5 .2 .5 .3 .5 .3 .5 .1 .5-.3 .5-.4 .5-.4 .5-.1 .5-.2 .5-.4 .5 .4 .5 .3 .5 .2 .5 .2 .5 .1 .5-.3 .5-.8 .5-.3 .5 .3 .5 .1 .5 0 .5 .2 .5 .3 .5 .2 .5-.6 .5-.3 .5 .2 .5 .2 .5 .1 .5 .2 .5 .4 .5 .1 .5 .2 .5 .4 .5 .3 .5 .3 .5 .2 .5 .2 .5 .1 .5 0 .5 0 .5 .5 .5 .4 .5-.3 .5-.4 .5-.1 .5 .4 .5 .3 .5-.1 .5-.4 .5-.1 .5 .1 .5-1 .5-.9 .5-.8 .5-.4 .5 .1 .5 .1 .5-.1 .5 .2 .5 .4 .5-.7 .5-.6 .5 .1 .5-.1 .5-.5 .5-.2 .5 0 .5-.2 .5-.2 .5-.2 .5 .3 .5 .1 .5-.6 .5-.4 .5 .4 .5 .4 .5-.1 .5-.3 .5-.1 .5 .2 .5 .1 .5 0 .5 .1 .5 .1 .5 .2 .5 0 .5-.3 .5-.1 .5 .3 .5 .2 .5 0 .5 .3 .5 .3 .5 0 .5 .3 .5 .2 .5-.2 .5-.2 .5 0 .5 .3 .5 .6 .5 .1 .5-.2 .5 0 .5-.2 .5-.5 .5-.3 .5 .7 .5 .4 .5 0 .5 0 .5-.3 .5 .4 .5 .8 .5-.7 .5-.8 .5-.1 .5 .1 .5 0 .5 0 .5 .6 .5 .5 .5-.3 .5-.4 .5-.2 .5-.2 .5 .2 .5 .3 .5 0 .5 .5 .5 .3 .5-.8 .5-.7 .5 .1 .5 .3 .5 .1 .5-.3 .5 .2 .5 0 .5-.1 .5-.2 .5-.2 .5 .2 .5 .2 .5 .1 .5 .1 .5 .2 .5 .2 .5 0 .5-.3 .5-.1 .5 .1 .5-.1 .5-.5 .5-.4 .5 .3 .5 .4 .5-.1 .5 .2 .5 .5 .5-.5 .5-.6 .5-.2 .5 0 .5 .5 .5-.2 .5-.2 .5 .2 .5-.1 .5-.6 .5-.5 .5 .6 .5 .9 .5-.4 .5-.8 .5-.6 .5-.4 .5 .8 .5 0 .5-.4 .5 .5 .5 .3 .5-.1 .5-.4 .5 0 .5 .3 .5 .1 .5-.4 .5-.4 .5-.4 .5-.2 .5 .2 .5 .5 .5 .2 .5-.2 .5 .3 .5 .1 .5-.8 .5-.5 .5 .1 .5 .1 .5 .1 .5 .1 .5-.1 .5-.3 .5-.1 .5 .5 .5 .3 .5 .3 .5-.2 .5-.5 .5-.3 .5-.5 .5 .2 .5 .6 .5 .2 .5 .2 .5 .4 .5 0 .5-.4 .5-.8 .5-.4 .5 .9 .5 1.2 .5-.1 .5-.5 .5 0 .5 .2 .5-.2 .5 .2 .5-.1 .5-.1 .5-.1 .5 .2"/><path d="M39.5 134.5l.5 .3 .5 .1 .5 .2 .5 .4 .5 0 .5 .1 .5 .2 .5 .4 .5 .3 .5 .4 .5-.1 .5-.4 .5 .3 .5 0 .5-.4 .5 .4 .5 .7 .5 .2 .5 0 .5-.4 .5 .1 .5 .2 .5-.1 .5-.3 .5-.3 .5-.3 .5 0 .5 .4 .5 .5 .5-.2 .5 0 .5 0 .5-.2 .5-.2 .5 0 .5 0 .5-.1 .5-.1 .5-.1 .5-.2 .5-.1 .5 .4 .5 .1 .5-.2 .5-.3 .5-.1 .5 .1 .5 .1 .5-.2 .5-.3 .5-.4 .5-.2 .5 0 .5 .2 .5-.1 .5-.3 .5-.7 .5-.7 .5 .4 .5 .7 .5-.4 .5-.5 .5-.6 .5-.4 .5 .1 .5-.2 .5-.4 .5 0 .5 0 .5-.3 .5-.3 .5-.1 .5 .1 .5-.1 .5-.3 .5-.2 .5-.3 .5-.5 .5 .5 .5 .1 .5-.6 .5-.1 .5 .1 .5-.4 .5-.3 .5 .3 .5 .4 .5-.1 .5-.1 .5-.1 .5-.1 .5-.2 .5-.3 .5 .4 .5 .6 .5 0 .5 .7 .5 1 .5-.8 .5-.7 .5 0 .5 .4 .5 .3 .5 .2 .5 .4 .5 0 .5-.3 .5 0 .5 .1 .5 .3 .5 .3 .5 .3 .5-.3 .5-.4 .5 0 .5 0 .5 0 .5-.1 .5 .3 .5 .5 .5-.4 .5-.2 .5-.1 .5-.1 .5-.1 .5 .1 .5 .3 .5 0 .5-.1 .5-.1 .5-.1 .5 0 .5 .3 .5 .1 .5-.2 .5 .1 .5-.2 .5 .1 .5 .3 .5-.2 .5-.5 .5-.6 .5-.2 .5 .4 .5 .7 .5 .3 .5-.1 .5-.1 .5 0 .5 .4 .5 .2 .5 .2 .5 .1 .5-.4 .5 0 .5 .1 .5 .1 .5 .2 .5 .2 .5-.6 .5-.2 .5 .8 .5-.1 .5-.6 .5 .2 .5 .2 .5 .4 .5 .2 .5-.4 .5-.2 .5 .1 .5 .2 .5 .3 .5 .1 .5-.2 .5 0 .5 .7 .5 .6 .5 0 .5-.2 .5-.2 .5-.4 .5 .2 .5 .9 .5 .2 .5 .5 .5 .7 .5-.3 .5-1.3 .5-.7 .5 .7 .5-.1 .5-1.2 .5 .7 .5 1 .5 .3 .5 .1 .5-.6 .5-.3 .5-.3 .5-.6 .5-.2 .5 .2 .5-.6 .5-.3 .5 1.1 .5 .3 .5-.8 .5-.5 .5 .1 .5 .3 .5 .1 .5-.1 .5-.2 .5 .3 .5 .2 .5 .1 .5 0 .5 .3 .5 0 .5-.2 .5 .2 .5 .2 .5 .1 .5 .1 .5 0 .5-.2 .5 0 .5 .6 .5 .5 .5-.2 .5-.1 .5-.2 .5-.3 .5 .3 .5 .2 .5 0 .5 0 .5-.2 .5-.2 .5 .2 .5 .4 .5 .3 .5-.2 .5-.4 .5-.5 .5 0 .5 1.4 .5 .8 .5-.7 .5-.5 .5-.2 .5 .2 .5-.3 .5-.5 .5 0 .5 .5 .5 .4 .5 0 .5-.3 .5-.3 .5 .2 .5 .1 .5-.2 .5 0 .5-.1 .5 0 .5 .3 .5 .4 .5-.2 .5-.6 .5-.2 .5 .2 .5 .2 .5 0 .5-.1 .5 .1 .5 .1 .5-.2 .5 .2 .5-.3 .5-.1 .5 .2 .5 .3 .5-.2 .5-.4 .5 0 .5 .4 .5 .2 .5-.3 .5-.5 .5 .1 .5 .5 .5 .2 .5-.3 .5-.2 .5-.3 .5-.2 .5-.3 .5-.1 .5 .2 .5 .1 .5 .2 .5 .3 .5-.2 .5-.7 .5-.2 .5 .4 .5 .4 .5-.2 .5-.4 .5-.7 .5-.6 .5 .7 .5 .6 .5 .2 .5 .4 .5-.4 .5-.9 .5 .2 .5 .4 .5 .3 .5 .3 .5 .1 .5 0 .5 .1 .5 .1 .5-.4 .5 .1 .5 .4 .5-.3 .5-.5 .5 0 .5 .6 .5 .3 .5 0 .5-.1 .5 0 .5 .2 .5-.1 .5 .3 .5 .9 .5 .5 .5-.3 .5-.6 .5-.5 .5-.2 .5 .4 .5 .6 .5 .2 .5-.4 .5 0 .5 .6 .5 .1 .5-.7 .5-.2 .5 .3 .5-.1 .5-.4 .5-.1 .5 .1 .5 .1 .5-.1 .5-.3 .5 .2 .5 .3 .5 .2 .5 .3 .5 .1 .5-.2 .5 .2 .5 .8 .5 0 .5-.1 .5 .2 .5 .1 .5 0 .5 .3 .5 .7 .5 .5 .5 0 .5-.3 .5 .3 .5 .6 .5 .2 .5 .3 .5 .1 .5-.2 .5 .3 .5 .9 .5 .6 .5 .1 .5-.2 .5 .3 .5 .1 .5 0 .5 .4 .5 .5 .5 .5 .5-.1 .5 .1 .5 0 .5-1.1 .5-.4 .5-.3 .5-.4 .5 .2 .5 .3 .5-.4 .5-.2 .5 .4 .5-.4 .5 .3 .5 1.1 .5-.3 .5-1.8 .5-.7 .5 1.1 .5 1.1 .5 .5 .5 .3 .5 .7 .5 .9 .5-.6 .5-.4 .5-.5 .5-1.5 .5-.2 .5 0 .5-.6 .5-.8 .5-.5 .5-.3 .5-.2 .5-1.7 .5-2 .5-.6 .5 .8 .5 1.5 .5-.2 .5-2.1 .5-1.1 .5 .9 .5 .5 .5-.1 .5-.3 .5-.2 .5 0 .5-.1 .5-.2 .5-.2 .5 .4 .5 .4 .5 0 .5 0 .5-.4 .5-.6 .5 0 .5 .2 .5 0 .5-.2 .5-.5 .5-.7 .5-.5 .5-.4 .5-.4 .5 .5 .5 .4 .5-.2 .5-.8 .5-.2 .5-.2 .5-.6 .5-.4 .5 .6 .5-.1 .5-.5 .5-.3 .5 .2 .5 .4 .5 .2 .5-.4 .5-.4 .5-.4 .5 0 .5 .5 .5 .3 .5-.4 .5-.4 .5 0 .5 .5 .5 .3 .5 .1 .5 .2 .5 .2 .5 .2 .5 0 .5 0 .5 .1 .5 .3 .5 .2 .5 .4 .5-.1 .5-.3 .5-.2 .5-.5 .5-.1 .5 .4 .5 .4 .5-.4 .5-.3 .5 .2 .5 .4 .5-.3 .5-.6 .5-.1 .5 .4 .5 0 .5-.3 .5-.1 .5 .2 .5-.3 .5-.3 .5 0 .5 0 .5 .3 .5 .7 .5 .5 .5 .1 .5-.4 .5-.3 .5 .3 .5 .3 .5 0 .5-.3 .5-.3 .5 .6 .5 .6 .5-.1 .5 0 .5 .1 .5 0 .5 .2 .5 .6 .5 .6 .5-.4 .5-.7 .5-.6 .5 0 .5 .1 .5 .8 .5 .4 .5-.1 .5 0 .5 .1 .5-.2 .5-.2 .5-.1 .5-.1 .5 .2 .5 .4 .5 0 .5-.1 .5 .2 .5 .4 .5 .4 .5-.4 .5-.5 .5 .2 .5 .1 .5-.1 .5 0 .5 .1 .5 .1 .5 .3 .5 .1 .5 .6 .5 .5 .5-.3 .5 .2 .5 .4 .5 0 .5 .1 .5 .5 .5 .5 .5 .1 .5 .5 .5 .6 .5 .7 .5 .2 .5-.4 .5-.2 .5 1.1 .5 .7 .5 .3 .5 .4 .5 .3 .5 .1 .5 0 .5-.4 .5-.4 .5 .2 .5 .4 .5 .1 .5-.3 .5-.2 .5-.3 .5-.3 .5-.1 .5-.2 .5-.4 .5-.3 .5-.5 .5-.2 .5 .2 .5-.2 .5-.4 .5-.2 .5-.3 .5 .2 .5 .2 .5-.7 .5-.7 .5 .1 .5 .4 .5-.2 .5-.5 .5-.6 .5-.2 .5 .5 .5 .4 .5-.3 .5-.6 .5-.5 .5 .2 .5 .3 .5-.5 .5-.1 .5-.1 .5 0 .5 .3 .5-.1 .5-.2 .5 .4 .5 .8 .5-.4 .5-.5 .5-.1 .5 .1 .5-.3 .5-.3 .5 .3 .5 .5 .5 .1 .5-.1 .5-.1 .5-.1 .5 .1 .5-.1 .5-.1 .5-.1 .5-.1 .5 0 .5 0 .5-.3 .5-.1 .5 .2 .5 0 .5-.1 .5-.2 .5-.5 .5-.1 .5 .6 .5 .5 .5-.4 .5-.1 .5-.3 .5 .1 .5-.1 .5 .1 .5 .7 .5-.2 .5-.6 .5-.1 .5-.2 .5 .2 .5 .3 .5 0 .5-.1 .5 0 .5 .1 .5 .3 .5-.3 .5-.3 .5 .3 .5 0 .5 0 .5 .2 .5-.3 .5-.4 .5 .5 .5 .5 .5-.4 .5-.4 .5-.2 .5 .1 .5 0 .5 .1 .5 .1 .5 .1 .5-.1 .5-.2 .5-.1 .5 .2 .5 .2 .5 .2 .5 .3 .5 .5 .5-.1 .5-.3 .5 .1 .5 0 .5-.6 .5 .2 .5 .9 .5 .1 .5 0 .5 .4 .5 .5 .5 .1 .5 0 .5 .2 .5-.1 .5-.2 .5-.4 .5-.5 .5-.4 .5-.3 .5 0 .5 .1 .5 0 .5-.9 .5-.9 .5-.3 .5 .1 .5 .4 .5 .2 .5-.1 .5 0 .5 .1 .5-.1 .5-.1 .5 0 .5 .1 .5 .5 .5 .4 .5 .2 .5 .1 .5 .1 .5 0 .5-.3 .5-.2 .5 .9 .5 .9 .5 .2 .5 .1 .5 .1 .5-.3 .5 0 .5 .4 .5 .2 .5 .4 .5 .3 .5 .2 .5 .5 .5 .3 .5 0 .5 .1 .5-.1 .5 .1 .5 .9 .5 .5 .5-.3 .5-.2 .5-.2 .5-.1 .5 .4 .5-.1 .5 0 .5 .1 .5 .1 .5-.4 .5-.8 .5 .4 .5 .6 .5 .3 .5 .1 .5-.2 .5-.1 .5-.2 .5-.4 .5-.1 .5 .6 .5 .4 .5-.3 .5-.2 .5-.3 .5-.1 .5 0 .5 .2 .5-.1 .5-.4 .5-.1 .5-.1 .5 .3 .5 .1 .5-.1 .5 .4 .5 .7 .5 .5 .5-.5 .5-.5 .5 .2 .5 .2 .5 .2 .5 .1 .5-.1 .5 0 .5 .3 .5 .1 .5 .2 .5 .2 .5 .4 .5 .3 .5-.4 .5-.3 .5-.1 .5 .1 .5-.1 .5-.3 .5-.3 .5-.1 .5 0 .5 0 .5 0 .5-.1 .5-.1 .5-.6 .5-.5 .5 .1 .5 .1 .5-.1 .5-.2 .5 0 .5 .3 .5-.3 .5-1 .5-.2 .5 .2 .5 .5 .5 .3 .5-.3 .5-.7 .5-.3 .5-.1 .5-.2 .5-.1 .5 0 .5-.1 .5-.4 .5 .3 .5 .1 .5-.5 .5-.4 .5 0 .5 .6 .5 0 .5-.5 .5-.5 .5 .3 .5-.1 .5-.3 .5 .1 .5 0 .5 .1 .5 .1 .5 .4 .5 0 .5-.3 .5 .1 .5 0 .5-.4 .5 .1 .5 .5 .5 .1 .5-.2 .5-.1 .5 0 .5-.3 .5 .2 .5 .2 .5-.1 .5-.5 .5-.4 .5 .3 .5 .3 .5-.1 .5-.1 .5 0 .5 .1 .5 0 .5-.1 .5-.1 .5 .1 .5 .2 .5 .3 .5-.2 .5-.5 .5-.1 .5-.2 .5-.7 .5 .1 .5 .6 .5 .3 .5-.1 .5 .3 .5 .1 .5-1.2 .5-.5 .5 .5 .5 .7 .5 .2 .5-.7 .5-.3 .5 .4 .5 .4 .5 .2 .5 .1 .5 0 .5-.3 .5 .1 .5 .6 .5 0 .5-.1 .5 .2 .5 0 .5 .1 .5 .4 .5 .5 .5 .1 .5-.7 .5-.4 .5 .1 .5 .2 .5 .3 .5-.4 .5-.5 .5 .3 .5 .5 .5 .2 .5-.5 .5-.7 .5 0 .5 .2 .5 .4 .5 .3 .5-.4 .5 .1 .5 .4 .5-.5 .5-.3 .5-.1 .5 .1 .5 .1 .5-.1 .5 .2 .5-.7 .5-1.4 .5 .8 .5 .8 .5-.2 .5 .3 .5 .4 .5-.3 .5-.3 .5-.2 .5 .2 .5 .4 .5 .2 .5-.5 .5-.2 .5-.2 .5-.2 .5-.1 .5-.2 .5-.2 .5 .2 .5 .3 .5 .3 .5 .1 .5-.1 .5-.1 .5 0 .5 .4 .5 .3 .5-.4 .5-.1 .5 0 .5 .1 .5 .3 .5-.2 .5-.3 .5 .2 .5 .1 .5 .1 .5 .2 .5 0 .5-.2 .5-.1 .5 .2 .5-.2 .5-.1 .5 .5 .5 .4 .5 0 .5-.3 .5-.2 .5 .2 .5 .3 .5 0 .5 .1 .5 .5 .5-.1 .5-.2 .5-.1 .5-.1 .5 .3 .5 .5 .5 0 .5-.1 .5-.1 .5 .1 .5 0 .5 .3 .5 .4 .5-.1 .5-.3 .5-.1 .5 .4 .5 .4 .5 .2 .5-.3 .5-.3 .5-.3 .5-.1 .5-.1 .5 .4 .5 .3 .5-.1 .5 .1 .5 .1 .5-.1 .5-.1 .5 .1 .5 0 .5 .1 .5 .3 .5-.2 .5-.9 .5-.3 .5 .8 .5 .3 .5 0 .5-.1 .5-.6 .5 .3 .5 .8 .5 .3 .5-.4 .5-.6 .5-.3 .5 .1 .5 .1 .5 .6 .5 .6 .5 0 .5-.5 .5 .1 .5 .5 .5 .7 .5 .2 .5-.4 .5 0 .5 .8 .5 .1 .5-.1 .5 .8 .5 .5 .5-.3 .5-.1 .5 .2 .5 .1 .5 .1 .5-.3 .5-.1 .5-.2 .5-.5 .5-.9 .5-.3 .5 0 .5-.2 .5-.3 .5 0 .5 .2 .5-.6 .5-1.2 .5-.2 .5 0 .5 0 .5 .1 .5-.1 .5-.2 .5-.3 .5-.2 .5-.2 .5-.3 .5-.7 .5-.3 .5 .1 .5 .2 .5-.4 .5-.6 .5-.1 .5 .6 .5 .4 .5-.3 .5-.3 .5-.2 .5 .2 .5 .2 .5-.1 .5-.1 .5 0 .5 .1 .5 .6 .5 .2 .5-.3 .5-.3 .5-.2 .5 0 .5 .3 .5 .5 .5 .4 .5 .1 .5-.1 .5-.5 .5 .1 .5 .4 .5 .1 .5-.3 .5-.2 .5 .1 .5 .5 .5 .2 .5 .2 .5 .2 .5 0 .5 0 .5-.1 .5-.3 .5-.3 .5 .5 .5 .9 .5 .6 .5-.2 .5-.4 .5-.2 .5 0 .5-.2 .5 .1 .5 0 .5 .1 .5 .2 .5 .4 .5-.5 .5 0 .5 .2 .5-.2 .5-.4 .5 .1 .5-.4 .5 0 .5 .8 .5 .1 .5-.2 .5 .1 .5 0 .5-.2 .5 0 .5 0 .5-.1 .5 0 .5 0 .5 .1 .5-.1 .5 0 .5 0 .5 0 .5-.1 .5 .4 .5 .4 .5-.4 .5-.6 .5-1.1 .5-.7 .5 1.2 .5 .9 .5-.1 .5-.2 .5 0 .5 0 .5-.3 .5-.1 .5-.1 .5-.1 .5 .2 .5 0 .5-.2 .5-.1 .5 .3 .5 0 .5-.3 .5-.3 .5 .1 .5 0 .5-.5 .5-.4 .5 .5 .5 .7 .5 .2 .5-.3 .5-.1 .5 .2 .5-.1 .5-.4 .5-.2 .5 0 .5 .1 .5-.1 .5-.3 .5 0 .5 .1 .5 0 .5-.1 .5 .1 .5 .5 .5-.3 .5-.6 .5-.1 .5 0 .5-.4 .5-.2 .5 0 .5-.3 .5-.3 .5-.1 .5 0 .5-.3 .5-.1 .5 .4 .5 .4 .5 .1 .5-.2 .5-.1 .5-.3 .5-.3 .5 .7 .5 .5 .5-.4 .5-.1 .5-.2 .5-.2 .5-.2 .5 0 .5 .2 .5 .4 .5 .2 .5-.3 .5-.4 .5 .4 .5 .7"/><path d="M39.5 151.8l.5 .9 .5 .2 .5-.1 .5 .4 .5 .4 .5-.3 .5-.3 .5-.2 .5 0 .5 .7 .5 .4 .5 .2 .5 .3 .5 .5 .5-.2 .5-.6 .5-.2 .5 .2 .5 0 .5 .1 .5 .2 .5 0 .5 0 .5 .3 .5 .3 .5-.4 .5-.6 .5-.2 .5 .2 .5 0 .5-.1 .5 .3 .5 .6 .5 .7 .5 .4 .5-.6 .5-.3 .5-.2 .5-.4 .5-.3 .5-.2 .5 .3 .5 .1 .5 .2 .5 .3 .5-.3 .5-.2 .5 .2 .5-.3 .5-.4 .5 .1 .5-.1 .5-.4 .5 0 .5 .3 .5 .1 .5-.5 .5-1.1 .5-.4 .5 .3 .5 .6 .5 .4 .5 .2 .5-.5 .5-.9 .5-.4 .5 0 .5-.4 .5-.6 .5-.5 .5 0 .5 .4 .5-.1 .5-.6 .5-.5 .5-.4 .5-.3 .5-.1 .5 .1 .5 .5 .5-.1 .5-.4 .5-.7 .5-.4 .5 0 .5 .2 .5 .1 .5-.2 .5 .7 .5 .6 .5-.4 .5 .2 .5 .8 .5 .4 .5-.2 .5 0 .5-.4 .5-.4 .5 .3 .5 .7 .5 .1 .5 .1 .5 .2 .5 .1 .5 0 .5-.8 .5-.3 .5 .2 .5-.2 .5 .1 .5 .3 .5 .1 .5-.2 .5-.2 .5 0 .5 .2 .5 .3 .5-.6 .5-.7 .5-.2 .5 .5 .5 .6 .5-.1 .5-.4 .5-.1 .5-.2 .5 0 .5 .3 .5 .3 .5-.2 .5-.3 .5-.3 .5-.5 .5-.6 .5 .4 .5 .4 .5 0 .5-.1 .5 .2 .5 .3 .5-.5 .5-.6 .5 0 .5 .2 .5 .3 .5 .7 .5 .5 .5-.7 .5-.5 .5 0 .5 0 .5 .1 .5 .5 .5-.4 .5-1 .5 .5 .5 .7 .5 .9 .5 .6 .5 .5 .5 .4 .5-.2 .5-.2 .5-.1 .5 .1 .5 .2 .5 .1 .5-.2 .5 .1 .5 .1 .5 0 .5 0 .5-.2 .5-.2 .5-.1 .5 .4 .5 .8 .5 .3 .5-.8 .5-.1 .5 0 .5-.2 .5-.2 .5-.1 .5-.1 .5-.6 .5 .5 .5 1.1 .5 .1 .5-.4 .5-.1 .5 .1 .5 .1 .5 .2 .5 0 .5 0 .5-.2 .5-.4 .5 0 .5 .2 .5 .7 .5 .8 .5-.2 .5-.6 .5-.3 .5-.5 .5-.4 .5 .6 .5 .4 .5-.5 .5-.1 .5 .2 .5-.1 .5-.4 .5-.5 .5 .2 .5 .7 .5 .2 .5-.6 .5-.4 .5 .3 .5 .4 .5 0 .5-.1 .5-.1 .5-.1 .5 .2 .5 .6 .5 .2 .5-.5 .5-.2 .5 .5 .5-.1 .5-.1 .5 .1 .5-.1 .5-.2 .5 .6 .5 .6 .5-.1 .5-.3 .5-.4 .5 .1 .5 .7 .5 .3 .5-.5 .5-.4 .5 .5 .5 .1 .5-.2 .5 .3 .5 .3 .5-.4 .5-.3 .5 .2 .5-.2 .5-.4 .5-.1 .5 .2 .5 .5 .5 .4 .5 .2 .5 .5 .5-.5 .5-.3 .5-.2 .5-.2 .5 .1 .5 0 .5 0 .5-.2 .5-.2 .5 .3 .5-.2 .5-.2 .5 .3 .5 .5 .5 .4 .5-.5 .5-.7 .5-.5 .5 .3 .5 .2 .5 .1 .5 .5 .5 .6 .5 .1 .5 0 .5-.9 .5-.6 .5 .1 .5 .7 .5 .7 .5-.3 .5-.5 .5-.3 .5-.2 .5-.3 .5-.4 .5 .6 .5 .7 .5 0 .5 .1 .5 0 .5-.4 .5-.4 .5-.3 .5 .4 .5 .7 .5 .3 .5-.4 .5-.6 .5-.4 .5 .4 .5 .3 .5 .3 .5 .1 .5-.5 .5-.6 .5 .2 .5 .4 .5 .7 .5-.1 .5-.5 .5-.3 .5 .3 .5 .2 .5-.2 .5-.1 .5 .1 .5-.4 .5 .2 .5 .5 .5-.4 .5-.5 .5 .4 .5 .3 .5 .3 .5 .5 .5-.2 .5-.2 .5 .1 .5-.4 .5-1 .5 .4 .5 1.2 .5 .5 .5 .1 .5 .2 .5 0 .5-1 .5-.9 .5 .3 .5 .6 .5 .6 .5 .2 .5 .1 .5-.1 .5-.1 .5 .1 .5 .3 .5 .2 .5-.3 .5-.1 .5-.2 .5-.2 .5-.1 .5-.1 .5 0 .5 .4 .5 .4 .5-.2 .5-.1 .5 0 .5 .3 .5 .1 .5 0 .5-.1 .5 .1 .5 .3 .5 0 .5-.1 .5-.1 .5 .2 .5 1 .5 .8 .5 0 .5 .1 .5 .5 .5 .5 .5 .3 .5 .7 .5 .2 .5 .1 .5 .8 .5 1.1 .5-.7 .5-.8 .5 .3 .5 .2 .5-1 .5 .1 .5 1 .5 .8 .5 .1 .5-1.1 .5-1 .5 .3 .5-.4 .5-.2 .5 .9 .5-.5 .5 .3 .5 .8 .5-.7 .5-1.4 .5 .2 .5 .2 .5 .4 .5-.6 .5-.8 .5 .8 .5 .5 .5 .3 .5-1.3 .5-1.8 .5-.3 .5 .7 .5-.5 .5-.7 .5-.7 .5-1.2 .5-1 .5-.7 .5 .7 .5 2.4 .5 2.6 .5-1.4 .5-1.7 .5-.7 .5-.6 .5-.6 .5 .8 .5 .6 .5-.6 .5-.5 .5 .3 .5 .1 .5-.2 .5-.4 .5-.2 .5-.1 .5 .3 .5-.2 .5-1.3 .5-1.2 .5 0 .5 .2 .5 0 .5-.4 .5-.3 .5 0 .5 0 .5-.1 .5 .2 .5-.2 .5-.5 .5-.4 .5 .1 .5 0 .5 0 .5-.1 .5-.1 .5-.1 .5 .1 .5 .1 .5-.1 .5-.4 .5-.2 .5-.1 .5 .3 .5 .5 .5 .2 .5-.8 .5-.2 .5 .3 .5-.2 .5-.4 .5 .1 .5-.1 .5 .4 .5 .8 .5 0 .5-.6 .5-.7 .5 .3 .5 1 .5 .9 .5-.6 .5-1.2 .5-.4 .5 1 .5 .6 .5-.1 .5 0 .5-.3 .5-.2 .5 .4 .5 .2 .5-.6 .5 .3 .5 .9 .5 .8 .5-.1 .5-.7 .5-.5 .5-.3 .5-.4 .5 .3 .5 .4 .5 .7 .5 .4 .5-.3 .5 .5 .5 .7 .5-.7 .5-.6 .5 0 .5 .1 .5-.4 .5-.2 .5 .8 .5 1 .5-.3 .5-.8 .5 0 .5 .3 .5 0 .5-.2 .5-.4 .5 .4 .5 .4 .5 .3 .5 .3 .5 .3 .5 .1 .5-.4 .5-.6 .5-.1 .5 .5 .5 .5 .5-.2 .5-.2 .5 .1 .5 .2 .5 .2 .5 .2 .5-.7 .5-.9 .5 .5 .5 .8 .5 .2 .5 0 .5-.3 .5 .1 .5 .1 .5-.3 .5 .2 .5 .4 .5 .2 .5 0 .5 .2 .5-.3 .5-1.1 .5-.5 .5 .9 .5 1.4 .5 .9 .5-.7 .5-1 .5-.1 .5 .2 .5 .1 .5 .3 .5 .4 .5 .1 .5 .4 .5 .6 .5 .9 .5 .7 .5 1 .5 1 .5 .9 .5 .4 .5 .3 .5 .7 .5 .5 .5-.1 .5-.5 .5-.2 .5 .4 .5 .4 .5-.6 .5-.9 .5-1.4 .5-.6 .5 1.2 .5 .9 .5 .1 .5-.6 .5-.5 .5-.6 .5-.9 .5-.6 .5-.1 .5 0 .5 .1 .5 .1 .5-.1 .5-.2 .5-.3 .5-.1 .5 0 .5-.3 .5-.3 .5-.3 .5-.7 .5 .1 .5 .3 .5-.1 .5-.2 .5-.6 .5-.1 .5 .5 .5 .2 .5 .4 .5 0 .5-.5 .5-.3 .5 0 .5 0 .5 .1 .5 .1 .5 0 .5-.4 .5-.3 .5 .5 .5 .4 .5 0 .5-.1 .5-.2 .5 .1 .5 .2 .5-.3 .5-.6 .5 0 .5 0 .5 .2 .5 .6 .5 .1 .5-.2 .5-.4 .5-.2 .5 0 .5 .4 .5 1 .5 .3 .5-1.1 .5-.5 .5 .5 .5 .1 .5-.5 .5-.4 .5 .1 .5 .2 .5 0 .5 0 .5 0 .5-.3 .5-.3 .5 .3 .5 .3 .5-.2 .5 .1 .5 .1 .5 .3 .5 .2 .5 .1 .5-.2 .5-.7 .5-.5 .5 .5 .5 .6 .5 .1 .5-.3 .5-.1 .5 .1 .5 0 .5-.2 .5-.1 .5 .1 .5 0 .5-.4 .5-.1 .5 0 .5-.1 .5 .1 .5 .2 .5 .4 .5 .4 .5 .2 .5-.2 .5-.2 .5-.2 .5-.4 .5 .2 .5 .1 .5-1.1 .5-.4 .5 .9 .5 .8 .5 .3 .5-.5 .5-.3 .5 .3 .5 .1 .5-.1 .5-.3 .5-.4 .5 .6 .5 .1 .5-.3 .5 0 .5 .2 .5 0 .5-.1 .5 0 .5-.2 .5-.2 .5 .2 .5 .2 .5 .3 .5 .5 .5-.1 .5-.5 .5-.4 .5-.4 .5 .1 .5 .6 .5 .3 .5-.1 .5-.2 .5 .4 .5 .1 .5-.7 .5-.1 .5 .2 .5 .4 .5 .5 .5 .2 .5-.3 .5-.5 .5 .3 .5 .1 .5 0 .5 .2 .5 .4 .5 .1 .5-.3 .5-.3 .5 .1 .5 .6 .5 .6 .5 .3 .5-.8 .5-.5 .5 .8 .5 .6 .5-.1 .5-.1 .5 .3 .5 .2 .5-.4 .5 0 .5 .3 .5 .8 .5 .5 .5-.4 .5-.3 .5-.4 .5-.1 .5 .1 .5-.1 .5-.4 .5-.3 .5 .5 .5 .7 .5 .2 .5-.7 .5-.5 .5-.5 .5-.3 .5 .2 .5-.3 .5-.3 .5 .3 .5 1.1 .5 .9 .5-1 .5-.8 .5 .5 .5-.6 .5-.7 .5 .6 .5 .3 .5 .5 .5 .1 .5-.2 .5-.1 .5 0 .5 .4 .5 0 .5-.2 .5 0 .5 .4 .5 .1 .5 0 .5-.1 .5-.1 .5 .1 .5 .1 .5 .1 .5-.2 .5 0 .5 .7 .5 .3 .5-.5 .5-.9 .5-1.4 .5 0 .5 .7 .5 .2 .5-.2 .5-.3 .5 .1 .5 .2 .5-.3 .5-.5 .5-.2 .5-.4 .5-.4 .5 .1 .5 .2 .5 0 .5 0 .5-.1 .5-.4 .5-.1 .5-.3 .5-.2 .5 .1 .5 .1 .5 .5 .5 0 .5-.6 .5-.4 .5 .1 .5 .2 .5 .2 .5-.2 .5-.3 .5 0 .5-.3 .5 .2 .5 .6 .5-.4 .5-.2 .5 0 .5-.2 .5-.1 .5 0 .5 .1 .5-.1 .5-.1 .5 .3 .5 .3 .5 .2 .5-.1 .5-.4 .5-.1 .5 0 .5 .1 .5 0 .5-.5 .5-.3 .5 .4 .5 .6 .5 .3 .5-.1 .5-.2 .5-.2 .5-.6 .5-.3 .5 .9 .5 .8 .5 .4 .5 .1 .5-.2 .5 .5 .5 .4 .5-.8 .5-.6 .5 0 .5 .4 .5 .4 .5 0 .5-.3 .5 .5 .5 .7 .5-.2 .5-.3 .5 0 .5 .3 .5 .4 .5 .1 .5-1.2 .5-1 .5 .3 .5 .6 .5 .6 .5 .5 .5-.1 .5-.7 .5-.2 .5 .4 .5-.1 .5-.4 .5 .3 .5 .6 .5 .3 .5-.6 .5-.4 .5 .1 .5 .1 .5 .2 .5-.1 .5-.2 .5-.2 .5-.1 .5 .7 .5 .5 .5-.2 .5 .4 .5 .2 .5-.6 .5-.7 .5 0 .5 .1 .5-.1 .5 .5 .5 .1 .5-.1 .5 .9 .5 .7 .5-1.1 .5-.7 .5 0 .5 .1 .5 .4 .5 .4 .5-.2 .5-.6 .5 .4 .5 1.6 .5 .6 .5-1.2 .5-.7 .5-.5 .5 .3 .5 .6 .5-.2 .5-.2 .5 .6 .5 .3 .5-.2 .5-.5 .5-.3 .5 .3 .5 .5 .5 .3 .5 .1 .5 .3 .5-.2 .5-.2 .5 .3 .5 .1 .5-.3 .5-1.2 .5-.4 .5 .6 .5 .5 .5 0 .5-.2 .5 .1 .5 .3 .5-.1 .5-.8 .5-.4 .5 .4 .5 .1 .5 0 .5 0 .5 .5 .5 .6 .5-.6 .5-.9 .5-.2 .5 .6 .5 .1 .5-.4 .5-.1 .5 .8 .5 1.1 .5-1.1 .5-1.1 .5 .2 .5 .2 .5 0 .5 .4 .5 .2 .5-.7 .5-.7 .5 .3 .5 .3 .5 .3 .5-.2 .5-.6 .5-.3 .5 .6 .5 .8 .5-.1 .5-.5 .5 .1 .5 .1 .5 .4 .5 .7 .5 .4 .5 .5 .5 .5 .5 .2 .5 .2 .5 .4 .5 .3 .5 .3 .5 0 .5-.4 .5-.7 .5-.5 .5-.3 .5-.9 .5-.7 .5-.4 .5-.3 .5 .1 .5 0 .5 0 .5 .5 .5-.4 .5-.5 .5 .5 .5 .6 .5-.3 .5-.6 .5 0 .5 .2 .5-.6 .5-.4 .5 .2 .5 .2 .5 .2 .5-.1 .5-.2 .5 .5 .5 .6 .5 .2 .5-.6 .5-.2 .5 0 .5-.1 .5 .1 .5 .6 .5 .2 .5-.2 .5 .2 .5 .2 .5 0 .5 .4 .5 1.1 .5 1.3 .5 1.4 .5 .8 .5 .2 .5 0 .5-.4 .5-.7 .5 .1 .5 0 .5-1.4 .5-1.1 .5-.7 .5-1 .5 .5 .5 .4 .5-.8 .5-.5 .5 .1 .5 .3 .5-.2 .5-.2 .5-.2 .5-.3 .5-.4 .5-.2 .5-.3 .5-.4 .5-.4 .5-.5 .5 .3 .5 .7 .5 .3 .5-.1 .5 0 .5-.5 .5-.6 .5 .6 .5 1.1 .5 .2 .5-.2 .5-.4 .5-.2 .5 .1 .5 .1 .5 .4 .5 .7 .5 .4 .5-.7 .5-.4 .5 .3 .5 .3 .5 .1 .5-.2 .5-.1 .5 .2 .5 0 .5 .2 .5 .2 .5 0 .5 .2 .5 0 .5-.5 .5-.3 .5 .6 .5 0 .5 .1 .5-.2 .5-.4 .5 .3 .5 .2 .5-.1 .5-.2 .5-.2 .5 0 .5 .1 .5 0 .5-.1 .5-.2 .5-.1 .5-.1 .5 .1 .5-.4 .5-.4 .5 .4 .5 .4 .5-.2 .5-.1 .5 .2 .5 .2 .5 0 .5-.2 .5-.4 .5-.1 .5 .6 .5 0 .5 .1 .5 .3 .5-.2 .5-.3 .5 0 .5-.1 .5 .1 .5 .3 .5-.1 .5 .2 .5 .2 .5-.3 .5-.7 .5-.5 .5 0 .5 .9 .5 1.3 .5-.2 .5-.4 .5 0 .5-.3 .5-.1 .5 .4 .5 .1 .5-.5 .5-.2 .5 0 .5-.2 .5 .5 .5 .6 .5-.1 .5-.6 .5-.6 .5 .1 .5 .4 .5-.2 .5-.1 .5 0 .5 .1 .5-.1 .5-.1 .5 .5 .5 .1 .5-.4 .5-.3 .5-.4 .5 0 .5 0 .5-.6 .5 .2 .5 .5 .5-.2 .5-.5 .5 .1 .5-.2 .5-.3 .5 0 .5 .1 .5 .3 .5-.3 .5-.8 .5-.4 .5 .2 .5 .5 .5 .3 .5 0 .5-.2 .5-.4 .5-.3 .5-.3 .5-.3 .5 .6 .5 .8 .5-.5 .5-1 .5 .8 .5 1.4 .5-.9 .5-1.2 .5 .9 .5 .9 .5-.4 .5-.6 .5-.3 .5 .2 .5 .3 .5 .2 .5 0 .5-.1 .5-.1 .5 .2 .5 .3 .5 .4 .5 .6 .5 .3 .5-.8 .5-.7 .5 .1"/><path d="M39.5 169.3l.5 .5 .5 .6 .5 1.4 .5 .4 .5-1 .5-1.4 .5-.8 .5 .6 .5 .5 .5 .1 .5 .2 .5 .6 .5 .6 .5 .1 .5 .2 .5-.3 .5-.2 .5 .3 .5 .7 .5 .4 .5-.1 .5-.2 .5 .1 .5 .1 .5-.3 .5-.2 .5 .4 .5 .4 .5 .4 .5 .3 .5-.6 .5 .1 .5 .2 .5-.7 .5-.4 .5 .3 .5-.4 .5-.4 .5-.4 .5 0 .5 .5 .5-.4 .5-.7 .5 .2 .5 .7 .5 .7 .5-.2 .5-.4 .5-.5 .5-.5 .5-.4 .5-.4 .5 .7 .5 .5 .5-.4 .5-.4 .5 .1 .5 .4 .5 .1 .5-.4 .5-1.4 .5-1.6 .5 .7 .5 1.4 .5 .1 .5-.3 .5-.6 .5-.4 .5 .9 .5 0 .5-.2 .5-1 .5-1.2 .5 .5 .5 .8 .5-.7 .5-.6 .5 0 .5-.4 .5-.9 .5-.6 .5 .8 .5 .5 .5-.9 .5-.6 .5-.3 .5-.1 .5 0 .5-.4 .5-.3 .5 1.1 .5 .6 .5-.7 .5-.4 .5 .3 .5 0 .5 .5 .5 .3 .5-.9 .5-.2 .5 .8 .5 .6 .5 .5 .5-.1 .5-.2 .5 .5 .5 .3 .5-.4 .5-.4 .5 .4 .5 .6 .5 0 .5-.2 .5-.5 .5 .2 .5 .5 .5 0 .5-.3 .5 .1 .5 .3 .5-.5 .5-.7 .5 .7 .5 .5 .5 .6 .5 0 .5-.8 .5-.2 .5 .5 .5 .2 .5-.4 .5-.4 .5 0 .5 .3 .5-.1 .5-.2 .5-.3 .5-.2 .5-.4 .5-.4 .5-.3 .5-.5 .5 0 .5 .2 .5 .5 .5 .9 .5 .2 .5-1.2 .5-.9 .5-.6 .5 .5 .5 1.1 .5 .3 .5 0 .5 .3 .5 .3 .5 .3 .5 .2 .5 .1 .5 0 .5-.3 .5 0 .5 .3 .5 .3 .5 .2 .5-.4 .5 .2 .5 .4 .5-.4 .5-.7 .5 .4 .5 1.1 .5 .4 .5-.4 .5-.9 .5-.4 .5 .9 .5 1.1 .5 .4 .5-.2 .5-.2 .5-.2 .5-.2 .5 .2 .5-.2 .5-.6 .5-.3 .5 .7 .5 .6 .5-.3 .5 0 .5 .4 .5-.3 .5-.7 .5 0 .5-.1 .5-.7 .5-.2 .5 .8 .5 .2 .5-.4 .5 0 .5 0 .5-.3 .5-.4 .5-.1 .5 .5 .5 .4 .5 0 .5-.4 .5-.4 .5-.2 .5 .3 .5 .5 .5 .2 .5-.4 .5-.7 .5-.4 .5 .5 .5 .4 .5 .3 .5 .3 .5-.3 .5-.4 .5-.1 .5 1 .5 .9 .5-.2 .5-.1 .5-.7 .5-.1 .5 .5 .5 .2 .5-.5 .5-.4 .5-.1 .5-.2 .5 .8 .5 .8 .5 .2 .5-.1 .5-.2 .5-.5 .5-.2 .5 1.1 .5 .6 .5-.9 .5-.5 .5-.3 .5 0 .5 .3 .5 .2 .5 .2 .5 .6 .5 .3 .5 .1 .5-.2 .5 .1 .5-.1 .5-.6 .5-.3 .5 .5 .5 .2 .5-.5 .5-.3 .5 .6 .5 .2 .5-.1 .5 .5 .5 0 .5-.4 .5-.2 .5-.6 .5-.3 .5 .3 .5 .3 .5-.2 .5-.7 .5-.2 .5 .3 .5 .3 .5 .1 .5 .8 .5 .5 .5-1.2 .5-.9 .5 .1 .5 1.1 .5 .7 .5-.4 .5-.6 .5-.1 .5 .4 .5 .6 .5-.1 .5-.5 .5-.5 .5-.1 .5 .4 .5-.2 .5-.2 .5 .8 .5 .3 .5-.3 .5-.1 .5 .2 .5 .1 .5 0 .5-.4 .5-.1 .5 .9 .5 .7 .5-.4 .5-.1 .5 .4 .5 .3 .5-.2 .5-.3 .5-.1 .5 .2 .5 .2 .5 .1 .5-.1 .5 .1 .5 0 .5-.1 .5 .4 .5 .5 .5-.2 .5 .2 .5 .1 .5-.5 .5 .2 .5 .3 .5-.1 .5-.4 .5 0 .5 .3 .5 .5 .5-.8 .5-.4 .5 .1 .5 .7 .5 .7 .5-.5 .5-.3 .5 .2 .5 .4 .5 .1 .5-.3 .5 0 .5-.1 .5 .4 .5 .4 .5-.6 .5-.5 .5-.4 .5 .5 .5 .6 .5-.7 .5-.7 .5-.3 .5-.1 .5 .3 .5 .2 .5-.3 .5-.6 .5-.1 .5 0 .5 .3 .5 .1 .5 0 .5 0 .5-.4 .5-.1 .5 .1 .5-.1 .5 .5 .5 .8 .5-.1 .5 0 .5 .1 .5-.5 .5-.2 .5 .5 .5 1.6 .5 1.7 .5 .7 .5 0 .5 .1 .5 .2 .5 .4 .5 .6 .5 .2 .5 .1 .5-.2 .5-.1 .5 .6 .5-.2 .5-.7 .5 .3 .5 0 .5 0 .5 .4 .5 .8 .5 .3 .5-1.2 .5-1.3 .5 .4 .5 .8 .5 1 .5 .6 .5 0 .5-.4 .5-1.3 .5-1.6 .5 .3 .5 1.3 .5 .6 .5-.1 .5 .6 .5 .7 .5-.3 .5-.3 .5-1.2 .5 .4 .5 1 .5-1.5 .5-.9 .5-.3 .5-1.4 .5-2.6 .5-.7 .5 .5 .5 .9 .5 2 .5 .7 .5-.8 .5-1.3 .5-.4 .5-.2 .5 .3 .5 .5 .5-.4 .5 .3 .5 .6 .5-.9 .5-.9 .5 0 .5 .4 .5-.8 .5-.7 .5-.7 .5-.7 .5 0 .5-.6 .5-1 .5 .4 .5 .4 .5 .1 .5-.3 .5-.6 .5-.4 .5-.6 .5-.5 .5-.2 .5 .2 .5-.4 .5-.3 .5 .1 .5-.3 .5 .1 .5 .4 .5-.1 .5-.1 .5-.8 .5-.3 .5 .1 .5 .1 .5-.3 .5-.2 .5 .2 .5 0 .5-.1 .5 .6 .5-.4 .5-.6 .5 .5 .5 .2 .5 .2 .5 .6 .5 .6 .5-.7 .5-.5 .5 .4 .5 .2 .5-.1 .5-.1 .5-.2 .5-.1 .5 .7 .5 .4 .5-.2 .5 .2 .5 .7 .5 .3 .5-.5 .5-.5 .5-.1 .5 .3 .5 .1 .5-.4 .5-1 .5-.5 .5 .6 .5 .7 .5-.3 .5-.9 .5-.2 .5 .5 .5 .3 .5 0 .5-.1 .5 .3 .5 .3 .5 0 .5 .1 .5 .3 .5 .4 .5 .2 .5-1 .5-1.5 .5 1.7 .5 1.7 .5-.1 .5-.3 .5-.6 .5-.7 .5 .8 .5 .9 .5 .7 .5-.4 .5-.7 .5 .5 .5 .9 .5 .3 .5-.4 .5-.6 .5-.8 .5 .7 .5 1.3 .5-.9 .5-1.2 .5 .2 .5 1.2 .5 .3 .5 0 .5 .1 .5-.5 .5-.3 .5 .2 .5 .6 .5 0 .5-.1 .5 .7 .5 .5 .5-1 .5-1 .5 .3 .5 .4 .5 .2 .5 .3 .5 .4 .5-.2 .5-.4 .5-.5 .5 .2 .5 1.4 .5 .5 .5-.3 .5-.9 .5 0 .5 .4 .5 0 .5-.1 .5 .4 .5 .1 .5 0 .5 1 .5 1.5 .5 1 .5 .7 .5 .4 .5 .6 .5 1 .5 .7 .5 .5 .5 .8 .5 .2 .5 0 .5-.4 .5-.9 .5-.4 .5-.1 .5-.4 .5-.6 .5-.1 .5-.2 .5-.2 .5-.7 .5-.7 .5-.8 .5-.4 .5 .6 .5-.1 .5-.6 .5 .4 .5 .7 .5-.9 .5-1.1 .5-.2 .5 .3 .5-.4 .5-.5 .5 .5 .5 .3 .5-.6 .5-.9 .5-.2 .5 .5 .5 .4 .5 .1 .5 0 .5 .2 .5-.4 .5-.6 .5-.6 .5-.6 .5 1 .5 1.1 .5-.4 .5-1 .5-.4 .5 .5 .5 .1 .5-.3 .5-.2 .5-.2 .5-.4 .5 0 .5 .6 .5 .3 .5-.5 .5-.2 .5 .2 .5 .3 .5-.2 .5-.7 .5 .1 .5 .2 .5-.1 .5 0 .5 .5 .5 .6 .5 .2 .5-.1 .5-1 .5-1.2 .5-.4 .5 .1 .5 .7 .5 .3 .5-.3 .5-.2 .5 0 .5 .2 .5 .6 .5 .7 .5-.5 .5-.8 .5-.3 .5-.2 .5 .3 .5 .8 .5 .4 .5-.7 .5-.7 .5 .1 .5 .3 .5-.1 .5-.7 .5 0 .5 1 .5 .6 .5-.2 .5 .1 .5 .2 .5-.3 .5-.3 .5-.6 .5-.2 .5 .7 .5 .9 .5-.1 .5-.5 .5-.5 .5-.2 .5-.1 .5 .1 .5 .4 .5 .7 .5-.2 .5-.8 .5-.1 .5 .1 .5 .2 .5 .2 .5 0 .5 .2 .5 .3 .5 .1 .5 .4 .5 .1 .5-.9 .5-.1 .5 .2 .5-.1 .5 0 .5 .1 .5-.2 .5-.1 .5 .3 .5 .1 .5 0 .5 .1 .5 .2 .5 .3 .5 .1 .5-.2 .5 .1 .5-.1 .5-1 .5-1 .5 1.1 .5 1.2 .5-.5 .5-1 .5-.4 .5 0 .5 .1 .5-.1 .5-.2 .5 0 .5 .3 .5 .6 .5 .8 .5 .3 .5-.3 .5-.3 .5 .6 .5 .3 .5 .1 .5 .3 .5-.4 .5-.7 .5 .7 .5 .2 .5-.2 .5 .9 .5 .9 .5 0 .5 0 .5 .9 .5 0 .5-1.1 .5-.3 .5 1.4 .5 .2 .5-.6 .5 0 .5 .4 .5 .8 .5 .1 .5 0 .5 0 .5-.1 .5-.5 .5-.5 .5 .4 .5 .5 .5 .2 .5 0 .5-.3 .5-.4 .5-.6 .5 .1 .5 .4 .5-.3 .5 .1 .5-.1 .5-.5 .5-.5 .5 .3 .5 .7 .5-.1 .5-.7 .5-.2 .5 .3 .5 0 .5-.1 .5 .2 .5-.1 .5-.4 .5-.3 .5 .3 .5 .7 .5 .1 .5-.2 .5 .1 .5 .3 .5 0 .5-.5 .5-.1 .5 .8 .5 .3 .5-.7 .5-1.3 .5 .2 .5 1.3 .5 .3 .5 .3 .5 .5 .5-.4 .5-.7 .5 .1 .5 .5 .5 .3 .5-.1 .5-.5 .5 .4 .5 0 .5-1.1 .5 .2 .5 .7 .5-.1 .5-.3 .5-.4 .5-.3 .5 .1 .5-.2 .5-.3 .5-.5 .5 .6 .5 .9 .5-.6 .5-.6 .5-.2 .5-.5 .5-.3 .5 .1 .5-.2 .5-.7 .5-.1 .5 .7 .5 0 .5-.2 .5 .3 .5 .1 .5-1 .5-.4 .5 .6 .5 0 .5-.3 .5-.1 .5-.1 .5-.2 .5-.2 .5-.3 .5-.2 .5 .1 .5 .4 .5 0 .5-.4 .5 .3 .5 .3 .5-.3 .5-.3 .5-.5 .5-.3 .5-.1 .5 .6 .5 .5 .5-.2 .5-.1 .5 .1 .5 .1 .5-.3 .5-.2 .5 .3 .5 .3 .5-.1 .5-.2 .5 .5 .5 1.1 .5-.1 .5-.7 .5 0 .5 0 .5 .5 .5 .3 .5-.7 .5-.4 .5 .5 .5 .3 .5 .6 .5 .1 .5-.9 .5-.3 .5 .2 .5 0 .5 .2 .5 1.2 .5-.3 .5-.7 .5 .5 .5 .3 .5-.1 .5-.6 .5-.5 .5 1 .5 .3 .5-.2 .5 .3 .5 0 .5-.4 .5 .3 .5 .1 .5-.3 .5-.3 .5 0 .5 .3 .5-.1 .5-.3 .5 .5 .5 .2 .5 0 .5-.1 .5-.2 .5 .4 .5 0 .5-.8 .5 .1 .5 .5 .5 .1 .5 .1 .5 .1 .5-.4 .5-.5 .5 .2 .5 .3 .5 .5 .5 .7 .5 .3 .5-.4 .5-.7 .5-.3 .5-.1 .5 .2 .5 0 .5 0 .5 .3 .5 .2 .5-.4 .5-.1 .5 .7 .5 .1 .5-.3 .5-.2 .5-.4 .5 0 .5 .2 .5 .5 .5 .9 .5 .3 .5-.1 .5-.9 .5-.7 .5 0 .5 .2 .5 .3 .5 .1 .5-.1 .5-.3 .5-.2 .5 .3 .5 .4 .5-.1 .5-.1 .5-.3 .5-.9 .5 .3 .5 .5 .5 .1 .5 .2 .5 .1 .5-.1 .5-.3 .5 0 .5 .3 .5 .4 .5 .3 .5-.2 .5-.5 .5-.3 .5-.3 .5-.2 .5 .5 .5 .4 .5 0 .5-.2 .5-.4 .5 .3 .5 .6 .5 .9 .5 .8 .5-1.5 .5-.5 .5-.1 .5-.9 .5 .1 .5 1.2 .5 .8 .5-.4 .5-.3 .5 .8 .5 .2 .5-.4 .5-.1 .5-.1 .5-.4 .5-.2 .5 .9 .5 1.1 .5-.1 .5-.1 .5-.3 .5-.9 .5 .4 .5 .4 .5-.1 .5-.1 .5 .3 .5 .4 .5 .4 .5-.3 .5-.1 .5-.1 .5-.4 .5 .1 .5-.2 .5-.5 .5-.5 .5-.2 .5 .1 .5 .1 .5-.1 .5-.4 .5-.2 .5 .4 .5-.1 .5-.5 .5-.2 .5 0 .5-.3 .5-.5 .5 .6 .5 .5 .5-.2 .5-.4 .5-.5 .5-.2 .5-.1 .5-.2 .5 1.3 .5-.4 .5-1.4 .5-.8 .5 1.1 .5 .9 .5-.4 .5 .2 .5 .9 .5 .4 .5 1.2 .5 1.7 .5 0 .5 .1 .5 .6 .5 .4 .5 .7 .5 .2 .5-1 .5-.4 .5 .6 .5 .2 .5 .5 .5 .5 .5-.7 .5-1.5 .5-1.1 .5-.5 .5-.5 .5 .1 .5 .3 .5-.1 .5-.6 .5-.8 .5-.4 .5-.1 .5-.3 .5 .2 .5 .1 .5-.3 .5-1 .5-.6 .5 .2 .5 0 .5-.2 .5 .1 .5 .6 .5 0 .5-.8 .5-.3 .5 .2 .5 .6 .5 .7 .5 .1 .5-.5 .5-.1 .5 .2 .5 0 .5-.1 .5 .4 .5 .3 .5-.6 .5 .1 .5 .7 .5-1.2 .5-1.2 .5-.1 .5 .2 .5-.3 .5-.7 .5-.2 .5 .9 .5 1.1 .5 .9 .5 1 .5 .9 .5 .3 .5 0 .5-.4 .5-.5 .5-.1 .5 .5 .5 .5 .5 .1 .5-.9 .5-1 .5-.1 .5 .5 .5 .5 .5 .2 .5-.6 .5-.9 .5 .1 .5 .5 .5 .3 .5 .2 .5 0 .5-.3 .5-.2 .5-.4 .5 .2 .5 .3 .5-.3 .5-.3 .5 .1 .5 0 .5-.5 .5-.2 .5 0 .5 .5 .5 .2 .5-.3 .5-.3 .5 .4 .5 .6 .5-.2 .5-.5 .5 0 .5-.4 .5-.3 .5 .2 .5 .5 .5 0 .5 .1 .5 .1 .5-.9 .5-.5 .5 .4 .5 .4 .5-.1 .5-.2 .5 .3 .5 .4 .5 .4 .5 .3 .5 .4 .5 .1 .5 .2 .5 1.1 .5 .8 .5-1.2 .5-1.4 .5 .3 .5 1.2 .5-.5 .5-.8 .5-.3 .5-.2 .5-.3 .5-.3 .5-.2 .5 0 .5-.1 .5 .2 .5 .4 .5 0 .5-.9 .5-1.6 .5-.5 .5 1.1 .5 1.1 .5 .1 .5-.2 .5 .3 .5-.2 .5-.5 .5-.4 .5 0 .5 .3 .5 .4 .5 .1 .5-.3 .5-.2 .5-.1 .5-.2 .5-.1 .5-.2 .5 .1 .5 .2 .5 .2 .5 .3 .5 .4 .5-.2 .5-1.1 .5-.4 .5 .6 .5 .6 .5-.2 .5-.5 .5-.1 .5-.1 .5 .2 .5 .3 .5 0 .5 .7 .5 1.3 .5-.9 .5-1.1 .5-.3 .5 .7 .5 .9 .5-.7 .5-.7 .5 0 .5 .2 .5 .3 .5 0 .5-.4"/><path d="M39.5 182.8l.5 1.4 .5 .4 .5 2.7 .5 3.2 .5 .3 .5-1 .5-2.4 .5-2.7 .5 2.3 .5 2.9 .5-1.5 .5 .3 .5 0 .5 .2 .5 1.6 .5 .9 .5-.9 .5-1.4 .5-2.1 .5-1.5 .5 3.1 .5 4.3 .5 1.9 .5-1.2 .5-.8 .5-1 .5-.4 .5-.5 .5-.5 .5 .5 .5-1.3 .5-1.5 .5 1.4 .5 1.6 .5 0 .5 .2 .5 0 .5-.7 .5 .2 .5-1 .5-.6 .5 .6 .5 .1 .5-.6 .5 .1 .5 .5 .5-.9 .5-1.1 .5-.9 .5 .6 .5 .9 .5 .3 .5-.7 .5-.5 .5-.9 .5-1.1 .5 .8 .5 1.2 .5-.5 .5-.5 .5 0 .5 .3 .5-.2 .5-1.4 .5-.4 .5 .3 .5-.2 .5-.5 .5 0 .5 .2 .5 1.1 .5-.1 .5-.6 .5-1.6 .5-2.5 .5 .3 .5 .9 .5 .2 .5 .5 .5 1.7 .5-1.3 .5-1.3 .5-.6 .5-.8 .5 1.8 .5 4 .5 .5 .5-2.2 .5-1.6 .5-.5 .5-.6 .5 .6 .5 1 .5-.4 .5 .1 .5 0 .5-.5 .5 .2 .5 .9 .5 .5 .5 .1 .5-.1 .5 0 .5-.9 .5-1.7 .5-.4 .5 1 .5 1.5 .5 .1 .5-1.6 .5-1.7 .5-.1 .5 1.6 .5 1 .5 .7 .5 .7 .5-.9 .5-.9 .5 1.2 .5 1.4 .5-.5 .5-2 .5-.1 .5 .7 .5 .3 .5 .1 .5-.1 .5-.4 .5-.2 .5 .5 .5 .8 .5 1.1 .5-.4 .5-2.4 .5-.2 .5 3.5 .5 2.2 .5-1.6 .5-1.2 .5-.4 .5-.8 .5-.6 .5-.9 .5-1.8 .5 .2 .5 1.9 .5 1.1 .5-1.8 .5-1.2 .5-.3 .5-.2 .5 1 .5 .8 .5 .5 .5 .1 .5-1.4 .5-1 .5 1.6 .5 1.4 .5 .1 .5 .7 .5 .6 .5-.6 .5-.3 .5 .2 .5 .2 .5 .6 .5 .1 .5-1.2 .5-.8 .5 1.3 .5 .6 .5-1.2 .5 1 .5 1.5 .5 1.2 .5 .3 .5-1.9 .5-1.3 .5-.3 .5 .3 .5 .7 .5 .7 .5 .4 .5 .3 .5 .7 .5 .4 .5-1.1 .5-2.2 .5-1.3 .5 2 .5 3.2 .5 2 .5-2.2 .5-3.6 .5-1.9 .5-.6 .5 1.3 .5 2.4 .5 0 .5-.7 .5 .3 .5 .7 .5-.2 .5 .3 .5-.4 .5-.5 .5-.8 .5-3 .5-1.5 .5 2.7 .5 2.2 .5 .1 .5 .2 .5 1.8 .5-.5 .5-1.6 .5-2.5 .5-.9 .5 2.7 .5 2 .5-.1 .5-.6 .5-2.1 .5-1.2 .5 .8 .5 1.5 .5 .5 .5 .3 .5 .9 .5-.4 .5-.8 .5-.5 .5-.7 .5 .8 .5 1.4 .5-1.3 .5-.9 .5 1.2 .5 .6 .5 .1 .5-.1 .5 .6 .5 1.6 .5-.7 .5-2.2 .5-1.1 .5 3.4 .5 4.5 .5-.5 .5-3 .5-1.4 .5-1.2 .5 .4 .5 1.5 .5-.5 .5-1.8 .5-.4 .5 2.3 .5-.3 .5-.2 .5 .2 .5-.4 .5-.7 .5 0 .5 1.2 .5-.9 .5-.4 .5-1.3 .5-2.8 .5 1.4 .5 1.4 .5 .8 .5-.3 .5-1.2 .5 .5 .5 1.2 .5 0 .5-1.5 .5-1.2 .5 .7 .5 1.1 .5 0 .5-.5 .5 .6 .5 .7 .5-.3 .5-2.6 .5-2.2 .5 3.6 .5 2.6 .5-.8 .5 .1 .5 .9 .5-.8 .5-1.4 .5-1.6 .5-1.1 .5 .3 .5 2.7 .5 1.5 .5-.6 .5-1 .5 .6 .5 1.1 .5-1.9 .5-1.9 .5 .3 .5 1.7 .5 .8 .5 0 .5 .3 .5-.3 .5-.6 .5 1 .5 .8 .5-1 .5-.8 .5 .8 .5 1.1 .5-1.8 .5-.6 .5 .5 .5 .8 .5 1.4 .5 .9 .5-.5 .5-.2 .5-.9 .5-.9 .5 .7 .5 .9 .5-.3 .5-.6 .5-.1 .5 .5 .5 .7 .5 .8 .5 .7 .5-.5 .5 .1 .5-1.2 .5-.8 .5 1.3 .5 .2 .5-1.3 .5-2.2 .5-.4 .5 1.8 .5 2.1 .5 .5 .5-.7 .5-.6 .5 .6 .5-.7 .5-1.7 .5 .1 .5 .5 .5 1.1 .5 .3 .5 .2 .5 .5 .5-.4 .5-1.5 .5-.1 .5 1.7 .5 .5 .5-.4 .5-.3 .5 .4 .5-.2 .5-1.3 .5-.2 .5 1 .5 .7 .5-.1 .5-.4 .5-.2 .5 .1 .5 .1 .5 .1 .5-.9 .5 1.5 .5 2.2 .5 .6 .5 1.8 .5 .2 .5-.8 .5-.1 .5 .8 .5 2.1 .5 1.7 .5-1.4 .5-.6 .5 .5 .5-1.9 .5-1.7 .5 1.4 .5 1.2 .5-.4 .5 .2 .5 .7 .5-1.3 .5-2 .5-.7 .5 1 .5 1.6 .5 .2 .5-.6 .5 .2 .5 0 .5 .1 .5 3.2 .5 4.3 .5-1.8 .5-3.5 .5-3.4 .5 .2 .5 1.8 .5 .1 .5 1.2 .5 2.5 .5 .4 .5-1.4 .5-2 .5-1.9 .5-.5 .5-.4 .5-.4 .5 0 .5-.4 .5-.3 .5-.4 .5-1.5 .5-1.7 .5-.8 .5 .1 .5 1.7 .5 2 .5 .6 .5 .1 .5-.1 .5-.2 .5-.1 .5-.6 .5 .1 .5 .2 .5-2.1 .5-1.6 .5-.5 .5-.1 .5-.2 .5 .3 .5 .1 .5-1.4 .5-1.3 .5-.2 .5-.2 .5 .3 .5 0 .5-.1 .5 .7 .5 .5 .5-.7 .5-.4 .5 .6 .5-1.2 .5-1.7 .5 .4 .5 1.1 .5 .3 .5 1 .5-.3 .5-1.2 .5-.4 .5 1 .5 .8 .5-1.6 .5-2.5 .5-1.1 .5 .1 .5 .2 .5 .2 .5 .7 .5 1.1 .5 .9 .5-.1 .5 .1 .5-.3 .5-.9 .5-.6 .5 0 .5 .4 .5-.2 .5-.1 .5 .6 .5 .4 .5 .2 .5 .1 .5 1.1 .5 1.6 .5 .2 .5-1.4 .5-3.1 .5-2.1 .5 1.8 .5 .9 .5 1.5 .5 1.8 .5 .5 .5 .2 .5 .2 .5-1.2 .5-2.2 .5-1.3 .5 .7 .5 1.1 .5 .6 .5-.6 .5-.2 .5-.2 .5 0 .5 1.1 .5 .7 .5 .7 .5-1.1 .5-.8 .5-.1 .5-.2 .5 .3 .5 .4 .5-.3 .5-.3 .5 .6 .5 .2 .5 .8 .5 2.5 .5 .6 .5-1.1 .5-1.4 .5-1.6 .5-1.1 .5-.2 .5 .6 .5-.1 .5-.4 .5 1.4 .5 1 .5 .2 .5-.5 .5-.7 .5 .8 .5 1.2 .5-1 .5-.9 .5 0 .5-.9 .5-.1 .5 1.2 .5 .6 .5 .8 .5 1.1 .5-.4 .5-1 .5-.7 .5-.5 .5-.4 .5 1.5 .5 .9 .5-.2 .5-.7 .5-1.2 .5 1.4 .5 1.3 .5 0 .5-.3 .5 .9 .5 1.7 .5 .4 .5-1.3 .5-1.2 .5 0 .5 .7 .5 1.2 .5 .3 .5-.8 .5-.1 .5 1.2 .5 1.7 .5 1 .5-.9 .5 .7 .5 1.7 .5 .5 .5-.7 .5 .3 .5 1.1 .5 1.5 .5 1.6 .5 .1 .5-1.9 .5-1.4 .5-.6 .5-1.5 .5-.2 .5-.7 .5-.8 .5 .3 .5 .3 .5-.7 .5-2.9 .5-2.5 .5 4.1 .5 4.2 .5-.4 .5-1.3 .5-.3 .5-1.6 .5-1.4 .5 .2 .5 1.1 .5-.2 .5-.9 .5-1.2 .5 .6 .5 1.3 .5 .4 .5-1.2 .5-2.2 .5-.4 .5 1 .5 1.1 .5-.4 .5-.8 .5-.4 .5-.1 .5-.2 .5 0 .5-.3 .5 1 .5 1.1 .5-.3 .5-1.2 .5 .2 .5 1.3 .5 .1 .5-.5 .5-.5 .5 .7 .5-.1 .5-1.4 .5-.9 .5-.2 .5 .4 .5 .7 .5-.1 .5 0 .5 0 .5-1.7 .5-1.8 .5 .5 .5 2.7 .5 2.3 .5-.1 .5-1 .5-1.9 .5-.3 .5 .6 .5 .4 .5 .1 .5 .2 .5 .1 .5 0 .5 1.1 .5 1.2 .5 .6 .5-1.1 .5-1.7 .5 .6 .5 .5 .5-.2 .5-.3 .5-.1 .5 .4 .5 0 .5-.7 .5-.5 .5-1 .5-.9 .5 1.6 .5 2.3 .5-.1 .5-1.2 .5-.5 .5-.4 .5-.3 .5 .4 .5 .7 .5-.3 .5-.4 .5 .1 .5-.1 .5 .9 .5 .8 .5 .9 .5 .1 .5-.8 .5-.9 .5-1.7 .5-1.5 .5 1.2 .5 1.3 .5-1 .5-1.4 .5 .9 .5 1.9 .5 .2 .5-.6 .5-.5 .5-1.6 .5-1.1 .5 1.9 .5 1.9 .5 .2 .5-.3 .5 0 .5 .1 .5 .1 .5-.7 .5-2 .5 .6 .5 2.1 .5 0 .5-.2 .5 .6 .5 .3 .5-.3 .5-.3 .5 .1 .5-.3 .5-1 .5 .2 .5 1 .5-.4 .5-.9 .5-1.1 .5-.8 .5 0 .5 1.4 .5 .9 .5-1 .5-1.9 .5-.9 .5 1.1 .5 .9 .5-.4 .5-.2 .5 2.2 .5 2 .5-1.1 .5-2 .5-.6 .5 .7 .5 1.1 .5 .8 .5 1 .5 .3 .5 0 .5 .9 .5 1.2 .5-.7 .5-1.7 .5-.8 .5 1 .5 .5 .5-.4 .5 1.3 .5 1.8 .5-.9 .5-.7 .5 1.3 .5-1.3 .5-1.6 .5 .1 .5 1.5 .5 2 .5 .3 .5-1.3 .5-.7 .5-.1 .5-1 .5-1.6 .5-.2 .5 .8 .5 1.3 .5 1.5 .5 1.1 .5-.1 .5-2 .5-1.6 .5-.5 .5 .1 .5 .3 .5 .1 .5-.1 .5 .4 .5 .4 .5-.8 .5-.9 .5 1.7 .5 .2 .5-1.7 .5-.4 .5 1.9 .5 3.2 .5-.5 .5-1 .5-.9 .5-.1 .5-1.1 .5-.4 .5 .7 .5-.1 .5 1.4 .5 3 .5-.9 .5-2.4 .5-.3 .5 .4 .5-.3 .5 2.3 .5 2.9 .5-3.1 .5-2.8 .5 .2 .5 .6 .5 .2 .5-.1 .5-.2 .5-.6 .5-.1 .5-.3 .5-.5 .5-.2 .5 .4 .5-.1 .5-1.3 .5-.8 .5 .6 .5 0 .5 .2 .5 1.3 .5-.1 .5-1.6 .5-.6 .5 1 .5-.4 .5-.5 .5 .1 .5 .6 .5 .2 .5-2 .5-1.2 .5-.1 .5-.1 .5-1 .5 0 .5 3.1 .5 1.9 .5-1.6 .5-.9 .5-.1 .5 .1 .5-.3 .5-.2 .5-1 .5-1.9 .5 1.6 .5 1.9 .5-1.1 .5 .3 .5 .3 .5-.7 .5-.8 .5 0 .5 1.2 .5 2.4 .5 .8 .5-3.2 .5-1.1 .5 1.2 .5-.4 .5 0 .5 .1 .5-.1 .5 .6 .5-.1 .5 .9 .5 1.5 .5 1.3 .5-.6 .5-2 .5-.8 .5 .3 .5 .6 .5 .1 .5 .2 .5 .5 .5 1 .5 1.1 .5-.8 .5-1.7 .5-1.1 .5-.9 .5 .5 .5 1.8 .5 .2 .5 .4 .5 .3 .5-.4 .5 0 .5-.3 .5-.3 .5 .4 .5 .8 .5 .8 .5-.3 .5-1.4 .5-.6 .5 .2 .5 1.3 .5 1.4 .5 .8 .5-1.2 .5-1.2 .5-.3 .5 .5 .5 0 .5-.5 .5 0 .5 .7 .5-.1 .5-.4 .5 .8 .5 .4 .5-.3 .5-1.2 .5 .4 .5 1.7 .5-.8 .5-1.9 .5-.4 .5 1.9 .5 1.1 .5-1.1 .5-.3 .5 .5 .5-.5 .5-.8 .5-.6 .5-.2 .5 0 .5-.2 .5 .3 .5 .2 .5 .1 .5 .6 .5 0 .5-.6 .5 .1 .5 1 .5-.3 .5-1 .5 .3 .5 1 .5 0 .5-.3 .5 .6 .5 .9 .5-1.4 .5-1.9 .5 .4 .5 .9 .5 1.5 .5 1.9 .5-1.2 .5-1.8 .5-.4 .5 .6 .5 1.8 .5 .5 .5-1.4 .5-1.8 .5 .3 .5 0 .5-.6 .5 .3 .5-.2 .5-.4 .5 1.9 .5 2.5 .5 .6 .5 0 .5-2.4 .5-.7 .5 1.8 .5-.9 .5-1.5 .5-.7 .5 .4 .5 .7 .5 .5 .5 .1 .5-.5 .5-1.2 .5 0 .5 2.1 .5 1.4 .5-1.5 .5-1.6 .5 1.5 .5 1 .5-2.3 .5-2.9 .5 1.6 .5 2.4 .5 .9 .5 .4 .5 .2 .5-.3 .5-.3 .5 .4 .5 .6 .5-.2 .5-1.3 .5-1.5 .5 1.2 .5 2.4 .5-.2 .5 .7 .5 1.1 .5-1.4 .5-1.3 .5 .4 .5 1 .5-.3 .5-2.4 .5-1 .5 2 .5 1.2 .5 .5 .5 .4 .5 .3 .5-.1 .5-1.2 .5-2.7 .5-1 .5 1.1 .5 2.4 .5 3.4 .5-1.2 .5-3.7 .5-1.1 .5 .4 .5 .3 .5 .2 .5 .1 .5 .3 .5 .6 .5-.1 .5-1.1 .5-.9 .5 .8 .5 1.2 .5 .2 .5 .4 .5-.7 .5 .1 .5 0 .5-1.8 .5-.8 .5 0 .5 .4 .5 1.5 .5 .2 .5 .6 .5 .3 .5-2.1 .5 1.1 .5 1.6 .5 1 .5-.3 .5-1 .5 1.4 .5 1.9 .5 .8 .5 1.2 .5-1.2 .5-1.5 .5 3.1 .5 2.1 .5-1.9 .5-1.5 .5-.5 .5-.3 .5-.4 .5-.2 .5-.6 .5-2.6 .5-3.2 .5 1.5 .5 2 .5 .5 .5-.7 .5-1.3 .5-.1 .5-.8 .5-1.2 .5 .7 .5-.3 .5-1.3 .5-.2 .5 1.9 .5-.3 .5-2 .5 0 .5 .6 .5-1.1 .5-1.3 .5 0 .5 1.6 .5 1 .5-1 .5-.3 .5 .9 .5 .8 .5-.8 .5-1.3 .5-.7 .5 .6 .5 .9 .5-.5 .5-1.3 .5 .3 .5 1.4 .5 1.2 .5 1.1 .5-1.3 .5-1.5 .5-.3 .5 .4 .5 .1 .5 0 .5-.9 .5-.2 .5 .2 .5-.1 .5 .6 .5 .7 .5 .5 .5 .5 .5-1.2 .5-.8 .5 .2 .5 .9 .5 .6 .5-.3 .5 .1 .5 .6 .5 1.3 .5 2.9 .5 1.8 .5-3.5 .5-3.7 .5 1.3 .5 1.8 .5 .2 .5-.3 .5 .2 .5 .8 .5 0 .5-1.6 .5-.1 .5 .6 .5 .6 .5-.4 .5-1.3 .5 1.4 .5 1 .5-1 .5-1 .5 1.4 .5 1.7 .5 1.3 .5-2.8 .5-3.4 .5-.2 .5 .7 .5 1.6 .5 1.2 .5-1.7 .5-.9 .5 .4 .5 1.1 .5 1.3 .5-2.6 .5-2.4 .5 0 .5 .4 .5 .9 .5 .9 .5 .7 .5 .4 .5-.4 .5-3 .5-2.3 .5 2.7 .5 1.5 .5 .3 .5 .1 .5-1 .5-.3 .5-.6 .5-.7 .5 1.1 .5 1.7 .5 .9 .5-1.3 .5-.7 .5 .4 .5 .5 .5-.1 .5 0 .5 .4 .5 .7 .5 .2 .5-.4 .5-.5 .5-.4 .5 .2 .5 .7 .5 .2 .5-.7 .5-.6 .5 .1 .5 .6 .5 .7 .5 .7 .5-.5 .5-1.8 .5-1 .5 1.4 .5 1.1 .5 .5 .5-.8 .5-3.3 .5-.5 .5 2.3 .5 .1 .5 0 .5 .2 .5-1.5 .5-.9 .5 .3 .5 .3 .5 .3 .5-.3 .5-.9 .5-.1 .5 2.6 .5 1.8 .5-2 .5-.9 .5 1.7 .5 .4 .5-2.6 .5-1.1 .5 .4 .5 .2 .5 1.1 .5 .2 .5-.1 .5 .8 .5-.3 .5-.1 .5 .6 .5 .6 .5 .8 .5 0 .5-1.1 .5-1.3"/><path d="M39.5 209.0l.5 .8 .5 1 .5 .5 .5-.5 .5-.5 .5-.4 .5-.2 .5-.1 .5 .2 .5 .3 .5 0 .5 .2 .5 .9 .5 0 .5-.3 .5-.5 .5-.7 .5 0 .5 .9 .5 1.1 .5-.2 .5-1.1 .5-.5 .5 .6 .5 .4 .5-.2 .5-.3 .5 0 .5 .6 .5 .5 .5 0 .5-.2 .5-.1 .5-.1 .5-.4 .5-.3 .5-.2 .5 0 .5-.1 .5-.1 .5 .1 .5-.6 .5-.5 .5-.6 .5-.7 .5-.6 .5-.7 .5-.6 .5-.4 .5-.5 .5-.8 .5 .1 .5 .2 .5-.3 .5-.9 .5-1.2 .5-.5 .5 .4 .5-.2 .5-.6 .5-.4 .5-.2 .5 .2 .5 .5 .5 .2 .5-.6 .5-.2 .5 .2 .5 .3 .5-.2 .5-.2 .5 .4 .5 .5 .5 .3 .5 .1 .5 0 .5 .3 .5 .5 .5-.1 .5-.3 .5 .1 .5 .3 .5 .2 .5 .4 .5 .6 .5 .8 .5 .6 .5-.3 .5-.7 .5 .1 .5 1 .5 .3 .5-.4 .5-.5 .5 .8 .5 .8 .5 0 .5-.4 .5-1 .5-.5 .5 .3 .5 .1 .5-.2 .5 .3 .5 .6 .5-.2 .5-.3 .5-.9 .5-.6 .5 .1 .5 .2 .5-.2 .5-.5 .5-.3 .5 0 .5 .2 .5 .2 .5 0 .5-.6 .5-.8 .5 0 .5 .5 .5-.1 .5-.2 .5 .6 .5 .6 .5-.8 .5-.3 .5 0 .5-.4 .5-.3 .5 .2 .5 .2 .5 .1 .5 0 .5 0 .5-.3 .5-.2 .5 .3 .5 .1 .5-.2 .5-.3 .5-.1 .5 .3 .5 .4 .5-.2 .5-.3 .5 .1 .5-.2 .5-.3 .5 .1 .5 .1 .5-.1 .5-.2 .5 0 .5 .1 .5 .6 .5 .6 .5-1.1 .5-1.1 .5 .6 .5 .6 .5-.2 .5-.4 .5-.1 .5 .2 .5 .1 .5-.2 .5-.2 .5-.3 .5-.2 .5 .4 .5 .2 .5-.1 .5-.2 .5-.2 .5-.1 .5-.2 .5-.2 .5 0 .5 .9 .5 .9 .5-1.1 .5-.9 .5 .2 .5-.4 .5-.2 .5 0 .5-.2 .5 0 .5 .1 .5-.2 .5-.2 .5 .1 .5-.1 .5-.2 .5-.2 .5 .3 .5-.1 .5-.4 .5 0 .5 .6 .5 .1 .5-.2 .5 0 .5-.1 .5-.1 .5 .1 .5-.1 .5-.4 .5 .2 .5 .2 .5-.6 .5-.2 .5 1 .5 .8 .5 .1 .5 0 .5-.4 .5-.1 .5 .2 .5 .3 .5 .2 .5 0 .5-.2 .5 .4 .5 1.4 .5 .5 .5-1.2 .5-.7 .5-.1 .5 .6 .5 .9 .5-.1 .5-.9 .5 .1 .5 .5 .5 .2 .5 .2 .5 .2 .5 .2 .5-.2 .5-.1 .5 .3 .5 .3 .5-.1 .5-.3 .5 .1 .5 .2 .5 .1 .5 0 .5-.1 .5 0 .5-.5 .5 0 .5 .6 .5 0 .5 0 .5 .1 .5 .1 .5-.1 .5-.5 .5-.3 .5-.5 .5 0 .5 .6 .5 .8 .5 0 .5-.5 .5-.1 .5 .3 .5-.1 .5-.1 .5 .2 .5-.1 .5-.7 .5-.1 .5 .3 .5 .3 .5-.4 .5-.5 .5-.1 .5 .1 .5 .1 .5-.3 .5-.3 .5-.2 .5-.1 .5-.1 .5-.2 .5 0 .5-.1 .5-.5 .5-.3 .5-.1 .5-.1 .5-.1 .5 .3 .5 0 .5-.1 .5 .1 .5 .3 .5-.9 .5-1 .5-.4 .5 .2 .5 .4 .5 .3 .5 .2 .5-.1 .5-.4 .5 .4 .5 .6 .5-1 .5-1.2 .5-.4 .5 .3 .5 .5 .5 .9 .5 0 .5-.8 .5-.6 .5 .4 .5 .2 .5-.3 .5-.3 .5-.2 .5 .2 .5 .5 .5-.1 .5-.6 .5-.1 .5 .1 .5-.1 .5-.1 .5-.1 .5-.2 .5-.1 .5 0 .5-.1 .5-.1 .5 .1 .5-.2 .5-.4 .5-.5 .5 .1 .5 .6 .5 .1 .5-.5 .5-.3 .5 .2 .5-.2 .5-.3 .5 .3 .5 0 .5-.2 .5 0 .5-.3 .5-.2 .5 .1 .5 .2 .5 .3 .5 .3 .5-.1 .5-.2 .5 2.9 .5 1.1 .5-2.8 .5-.6 .5-.3 .5 1.1 .5 .5 .5-.1 .5 0 .5-.4 .5-.6 .5 .2 .5 .2 .5-.5 .5 0 .5 .9 .5 .3 .5-.5 .5 .1 .5 .7 .5 .1 .5 .1 .5 0 .5 0 .5 1.5 .5 .7 .5-1.4 .5-.2 .5 2.9 .5 2.1 .5-2.1 .5-.7 .5 2.6 .5 3.1 .5 .3 .5-.4 .5-1.6 .5-2.2 .5-.8 .5 2.6 .5 3.2 .5 .7 .5-1 .5-2.5 .5-2.2 .5 2.6 .5 1.8 .5 0 .5-1.9 .5-1 .5 2.9 .5 2.8 .5 .6 .5-1.7 .5-.5 .5 1.6 .5 1.1 .5-.6 .5-.4 .5 .8 .5-3.1 .5-1.1 .5-.8 .5-1.1 .5-.2 .5 .2 .5-.1 .5-.1 .5 0 .5-1.7 .5-2.8 .5 .4 .5 .4 .5-1.5 .5 .4 .5-.4 .5-1.3 .5 0 .5 .2 .5-.7 .5 1.1 .5 1.8 .5 1.2 .5 .6 .5 0 .5-.3 .5 .2 .5 .1 .5 1 .5 1.1 .5-.4 .5-.1 .5 1.2 .5 1.3 .5 .3 .5 .2 .5 .4 .5 .9 .5 1.4 .5 1 .5 .4 .5 .2 .5 .7 .5 .7 .5 .2 .5-.4 .5-.4 .5 .4 .5 .5 .5 .7 .5 .8 .5 .1 .5-.1 .5 .3 .5 .8 .5 .5 .5 .2 .5 .3 .5 .4 .5-.2 .5 0 .5 .7 .5 .5 .5 .1 .5 .1 .5 .3 .5 0 .5-.1 .5 .5 .5 .5 .5-.3 .5-.5 .5-.2 .5 1.1 .5 1.4 .5 1 .5 .2 .5-.1 .5 .9 .5 2.1 .5 1 .5 0 .5-.1 .5 .3 .5 1.1 .5 1.2 .5 1 .5-.4 .5-.6 .5 1.4 .5 .7 .5-.2 .5-.2 .5 .8 .5 .9 .5 .4 .5 .6 .5-.1 .5 .3 .5 .9 .5 .5 .5 0 .5 .3 .5 .2 .5 .6 .5 .9 .5 .6 .5 .2 .5 .5 .5 .5 .5 .2 .5 .5 .5 .5 .5-.1 .5-.2 .5 .2 .5 .6 .5 .5 .5 .2 .5 .2 .5 0 .5 .4 .5 .2 .5-.6 .5-1.2 .5 .4 .5 1.1 .5 .6 .5 .1 .5 0 .5-.2 .5-.5 .5 0 .5 .3 .5 .6 .5 .1 .5-1.1 .5-.7 .5 .3 .5 .3 .5 .1 .5-.3 .5-.2 .5-.2 .5-.1 .5 .1 .5-.4 .5-.3 .5-.4 .5-.6 .5-.6 .5 0 .5-.1 .5-.2 .5 .1 .5-.1 .5-.6 .5-1 .5-1.3 .5-1.6 .5-.3 .5 .7 .5 .2 .5-.7 .5-.3 .5 .6 .5-.6 .5-.9 .5-.2 .5 .1 .5-.1 .5-.7 .5-.8 .5-.8 .5-.8 .5-1 .5-.9 .5-1 .5-.9 .5-.4 .5-.9 .5-1 .5-.6 .5-.2 .5-.2 .5-.2 .5-.3 .5-.7 .5-.7 .5-.4 .5-.1 .5 .1 .5 0 .5 .4 .5-.6 .5-1.3 .5-.8 .5 .4 .5 .8 .5 .4 .5 0 .5-.4 .5-.5 .5 .2 .5 .3 .5 .1 .5-.1 .5-.2 .5-.3 .5 .1 .5 .2 .5 .4 .5 .1 .5-.2 .5 .1 .5 .3 .5-1.8 .5-2.6 .5-2.1 .5-2.7 .5-3.6 .5-4.3 .5-4.5 .5-3.7 .5-3.4 .5-3.6 .5-3.9 .5-4 .5-3.6 .5-2.7 .5-2.1 .5-1.2 .5-2.3 .5-3 .5-2.5 .5-3.7 .5-4.5 .5-2.8 .5-2.2 .5-1.7 .5-1.6 .5-1.6 .5-1 .5-1.1 .5-2.1 .5-1.5 .5-1.2 .5-.8 .5-.6 .5 .3 .5 .4 .5 .8 .5 .8 .5-.8 .5-.7 .5-.1 .5 .5 .5 .3 .5-.1 .5 0 .5 .4 .5 1 .5 .9 .5 .2 .5 .1 .5-.9 .5-1.7 .5 .2 .5 .5 .5-.3 .5-.1 .5 .2 .5-.3 .5 .1 .5 .3 .5 0 .5-.4 .5-.1 .5 .6 .5 .7 .5 1 .5 .8 .5-.1 .5-.2 .5 0 .5 .2 .5 .3 .5 .8 .5 .9 .5-.2 .5-.1 .5 1.2 .5 .7 .5 .6 .5 1.2 .5 .4 .5 .1 .5 .4 .5 .4 .5 1 .5 1.3 .5 1.2 .5 .9 .5 .9 .5 .4 .5 .5 .5 1.4 .5 1.5 .5 .6 .5 .2 .5 .7 .5 .9 .5 .9 .5 .7 .5 .7 .5 .6 .5 .7 .5 1.2 .5 1.1 .5 1 .5 1.3 .5 1.1 .5 .9 .5 1.3 .5 1 .5 1.2 .5 1.3 .5 .7 .5 .5 .5 1.1 .5 1.5 .5 1.7 .5 2.2 .5 1.5 .5 1.4 .5 1.2 .5 1.8 .5 2.5 .5 2.1 .5 1.8 .5 1.3 .5 1.2 .5 1.7 .5 1.9 .5 2.1 .5 2.2 .5 2.5 .5 1.5 .5 .8 .5 2.3 .5 2.8 .5 2.2 .5 .7 .5 .5 .5 1.7 .5 1.8 .5 1.7 .5 1.6 .5 1.1 .5 1.1 .5 1.3 .5 1.2 .5 1 .5 .5 .5 .4 .5 .8 .5 1.2 .5 .9 .5 .2 .5 .3 .5 .2 .5 .4 .5 1 .5 .9 .5 .7 .5 .9 .5 .1 .5-.1 .5 .6 .5 .8 .5 .2 .5-.4 .5 .1 .5 .7 .5 .6 .5 1 .5 .8 .5 0 .5-.2 .5 .1 .5 .6 .5 1 .5 .1 .5-.8 .5-.6 .5 1.1 .5 .9 .5 .5 .5 .9 .5 .8 .5-.3 .5-.6 .5-.2 .5 .4 .5 .6 .5 .1 .5 .1 .5-.2 .5 .5 .5 .4 .5-.1 .5 .1 .5 .4 .5 .3 .5 .4 .5-.4 .5-1.1 .5-.6 .5-.1 .5-.3 .5-.5 .5 .6 .5 1 .5 .3 .5-.5 .5-.5 .5-.5 .5-.6 .5-.5 .5 .1 .5-.2 .5-.1 .5-.2 .5-.5 .5-.7 .5-.8 .5-.7 .5-.9 .5-.6 .5 .6 .5 .7 .5-.7 .5-1.5 .5-1.1 .5-.4 .5-.1 .5-.5 .5-.6 .5-.2 .5-.1 .5-.6 .5-1 .5-.1 .5 .1 .5-.8 .5-.4 .5-.1 .5-.2 .5-.6 .5-.3 .5-.1 .5-.3 .5-.4 .5-.2 .5 .3 .5 .4 .5-.4 .5-.6 .5-.4 .5 .5 .5 .7 .5-.2 .5-.3 .5-.6 .5-1.4 .5-.7 .5-.1 .5 .6 .5 .6 .5-1.4 .5-1.9 .5-1.2 .5-.9 .5-1 .5-1.3 .5-2.1 .5-3.1 .5-2.8 .5-1.4 .5-1.1 .5-1.8 .5-1.5 .5-.7 .5-.6 .5-.9 .5-1.7 .5-2.7 .5-2.5 .5 0 .5 1.1 .5 1 .5 .9 .5-.2 .5 .3 .5 .6 .5 .3 .5 0 .5-.7 .5-1.2 .5 .1 .5-.5 .5-.8 .5 .2 .5 .4 .5 .5 .5 .7 .5 .5 .5-.6 .5-1.8 .5-1.8 .5 .2 .5 1.6 .5 .7 .5 .1 .5-.2 .5-1.8 .5-1.8 .5 2.5 .5 1.8 .5-1.4 .5-.1 .5 1.4 .5-.1 .5 .3 .5 .4 .5-.7 .5 .5 .5-1.8 .5-2.9 .5 2.4 .5 2.8 .5 1.5 .5-1 .5-1 .5 .4 .5 .6 .5 .6 .5-.4 .5-.6 .5-.4 .5 .6 .5 .7 .5 .2 .5 .2 .5 .2 .5-.9 .5-.3 .5 .8 .5 .3 .5-1.3 .5-.2 .5 .8 .5 1.8 .5 1.7 .5-1.3 .5-1.5 .5-.4 .5 .1 .5-.4 .5-1.4 .5-1.2 .5 1.2 .5 1.4 .5 .4 .5-.8 .5-.8 .5 .1 .5-.1 .5-1 .5 1 .5 2.4 .5-.3 .5-1.2 .5-.4 .5-.4 .5 .6 .5 .2 .5-.3 .5 .1 .5 .2 .5 .3 .5-.5 .5-1.1 .5 0 .5 .5 .5 .3 .5-.5 .5-.4 .5 .6 .5 .3 .5 .5 .5 .1 .5-.3 .5 .3 .5 .1 .5-.5 .5-.4 .5 .5 .5-.3 .5-.8 .5 .4 .5 1 .5 .3 .5-1 .5-1.5 .5 .3 .5 2.4 .5 .2 .5-.4 .5-1 .5-1.6 .5-.2 .5 1.8 .5 1.3 .5-.8 .5-.4 .5 .5 .5 .1 .5 .1 .5-.2 .5-1.6 .5-2.1 .5-.3 .5 2.4 .5 1.2 .5-.6 .5 .5 .5 .9 .5-.6 .5-.9 .5 1 .5 .2 .5-1.7 .5-.6 .5 .1 .5 .6 .5 .7 .5 .2 .5-.8 .5-.7 .5-.1 .5-.3 .5-.5 .5-.1 .5 .8 .5 .9 .5-1 .5-1.7 .5 1 .5 1.9 .5 1.1 .5 .7 .5-1.4 .5-1.5 .5 .7 .5 1.9 .5 .8 .5 0 .5 .2 .5 1.1 .5 .5 .5 1.2 .5 .7 .5-1.5 .5 0 .5 .4 .5 .1 .5 0 .5-1.3 .5-1.1 .5 .2 .5-.4 .5 .2 .5 0 .5-.4 .5 .3 .5-.6 .5-1.1 .5-1 .5-.3 .5 1.1 .5 2.3 .5 .2 .5-1.6 .5-1.2 .5 0 .5 .2 .5-1.1 .5-.9 .5 .9 .5 .5 .5-.2 .5 .1 .5 .4 .5-.1 .5-.1 .5-.1 .5-.4 .5 .2 .5 0 .5-1.9 .5-.4 .5 1 .5-.2 .5 .8 .5 1.3 .5 .7 .5 .1 .5-1.2 .5-.6 .5-.6 .5-.3 .5 .5 .5 .1 .5 .7 .5 .5 .5-.5 .5-1.3 .5-.5 .5 1.2 .5 .7 .5-.4 .5 .3 .5 1.2 .5-.5 .5-1.8 .5-.4 .5 .4 .5 .7 .5 1.2 .5-.5 .5-.9 .5-.3 .5 .1 .5-.2 .5-.7 .5-.3 .5 1.2 .5 1.6 .5 1.6 .5-1 .5-1.7 .5 0 .5 .8 .5 1.5 .5 .3 .5-.2 .5-1.1 .5-.4 .5 .1 .5 .7 .5 2.2 .5-.2 .5-.7 .5-.1 .5-1 .5-1.5 .5-.9 .5 .4 .5 2.1 .5 1.3 .5 .3 .5-.7 .5-.9 .5 .6 .5 .4 .5-.2 .5-.4 .5-.5 .5 0 .5 .1 .5 1.6 .5 1.4 .5-1.6 .5-1.1 .5-.9 .5-.9 .5 1.9 .5 2.8 .5 1.3 .5-.9 .5-1.4 .5-.5 .5-.3 .5 .6 .5 1.4 .5-.7 .5-.2 .5-.3 .5-1 .5 .6 .5 1.3 .5 .2 .5-.5 .5-.1 .5-.4 .5-.3 .5-.1 .5-.1 .5 .8 .5 1.2 .5 1.1 .5-1.4 .5-3.1 .5 .1 .5 2.5 .5 1.3 .5-.4 .5-.6 .5-.2 .5-.8 .5-.1 .5 1.2 .5 .4 .5-.9 .5-.8 .5 1.9 .5 1.7 .5-2 .5-.5 .5 .3 .5-.3 .5-.4 .5 .3 .5 1.4 .5 .4 .5-.2 .5 .3 .5 1.6 .5 1.6 .5-.6 .5-1.7 .5-.9 .5 0 .5 .4 .5 .6 .5-.2 .5-2 .5-1.6 .5 3.3 .5 4.6 .5-1.1 .5-1.9 .5-.3 .5-.9 .5-.2 .5 .7 .5 .4 .5 .6 .5-1.4 .5-1.5 .5 .7 .5 1.7 .5-.4 .5-1.8 .5-2"/><path d="M39.5 218.9l.5 .2 .5-.6 .5-.7 .5 .2 .5 1.1 .5 1.7 .5 2.4 .5 .2 .5-2.6 .5-1.8 .5 .9 .5 1.1 .5-.8 .5-1.2 .5 1.8 .5 .8 .5-.2 .5 .5 .5-.6 .5-1.1 .5 .9 .5 .6 .5 .4 .5 .1 .5-.4 .5-.7 .5 .6 .5 .4 .5-.5 .5-.2 .5 0 .5-.3 .5-.5 .5 .7 .5 2 .5 1.6 .5-1 .5-1.5 .5-.2 .5 .5 .5 .1 .5-.5 .5-1.5 .5-.7 .5 .9 .5-.3 .5 .3 .5 .7 .5 .5 .5-.5 .5-1.6 .5-.9 .5 .6 .5 .5 .5 .3 .5 0 .5-1.5 .5-.5 .5 1.5 .5 1.2 .5-1 .5-.8 .5-.4 .5-.1 .5 2.1 .5 2.3 .5-2.2 .5-2.9 .5-1.6 .5 1.4 .5 1.6 .5 .2 .5-.4 .5 .6 .5 .2 .5-.4 .5-.5 .5-.5 .5 .3 .5 .9 .5-.3 .5-.7 .5 .7 .5 .7 .5-.1 .5-.2 .5-.5 .5-.3 .5-.5 .5-.7 .5 .5 .5 .8 .5 .3 .5 0 .5-.3 .5-.5 .5-.1 .5-.5 .5-.4 .5 0 .5 .2 .5 .4 .5 .4 .5-.2 .5-.3 .5 .7 .5 .7 .5-1.2 .5-1 .5 .2 .5 .9 .5 .5 .5-1.1 .5-1 .5 1.8 .5 1.4 .5-.1 .5-.3 .5 .5 .5 .6 .5-.5 .5 .4 .5 .8 .5-.4 .5-.4 .5 .5 .5-.1 .5-.7 .5 0 .5 .1 .5-.1 .5 1.4 .5 1.5 .5-.9 .5-1.5 .5-.3 .5 .4 .5-.1 .5-.6 .5-.2 .5 .8 .5 .8 .5 .2 .5-.3 .5-.3 .5 .1 .5 .2 .5-.4 .5-.2 .5-.3 .5 1 .5 .9 .5-1.4 .5-1.2 .5 .5 .5 .2 .5-.3 .5 1.2 .5 1 .5-.5 .5-1.5 .5-.5 .5-.1 .5 1.1 .5 1.8 .5-.7 .5-1.6 .5-.5 .5 .9 .5 .3 .5-.5 .5-.5 .5-.3 .5 .5 .5 .5 .5 .7 .5 .8 .5 .2 .5-.9 .5-.6 .5-.4 .5 .3 .5 1.6 .5 1.3 .5-.9 .5-1.2 .5 .4 .5 .4 .5-.7 .5-.2 .5-.2 .5-.5 .5 1.3 .5-.2 .5-2.4 .5 1.3 .5 1.9 .5-.3 .5 .5 .5 .3 .5-1.2 .5-1.1 .5-.2 .5 0 .5 1.4 .5 1.6 .5-1.9 .5-1.1 .5-1.1 .5-1.9 .5 .8 .5 1.3 .5 .2 .5-.2 .5-.1 .5 .2 .5 .2 .5-.2 .5-.2 .5-.4 .5 0 .5 .4 .5 .6 .5-1.2 .5-2 .5 1.3 .5 .9 .5-.6 .5 .7 .5 1 .5 .1 .5 .2 .5-1.7 .5-2 .5 1.7 .5 1.3 .5 .1 .5 .4 .5-.3 .5-.2 .5 .7 .5 .2 .5-.1 .5-.4 .5-.4 .5-.4 .5 0 .5-.1 .5-.3 .5-.2 .5 .3 .5 .9 .5 .2 .5 .5 .5 1.5 .5-.2 .5-1.6 .5-2.2 .5-.7 .5 .7 .5 1.2 .5 .8 .5 .7 .5 0 .5-.9 .5-.5 .5 .3 .5 .4 .5-1 .5-.7 .5 .7 .5 .7 .5-.9 .5-1.3 .5-.5 .5 .6 .5 .6 .5 0 .5 0 .5 .4 .5-.2 .5-.8 .5-.4 .5 .5 .5 .6 .5 .3 .5-.5 .5 .6 .5 1.3 .5-.9 .5-1.3 .5 0 .5 .1 .5-.7 .5-.4 .5 .2 .5 .6 .5-.2 .5-1.5 .5 0 .5 .5 .5 .5 .5 .5 .5 .3 .5-.2 .5-.2 .5-.6 .5-.6 .5 0 .5 1.5 .5 2.2 .5-.6 .5-2.1 .5-.2 .5 1.7 .5-.4 .5-1.6 .5-.8 .5-.7 .5-.2 .5 .6 .5 .6 .5 1.3 .5-.1 .5-.5 .5-.2 .5-.2 .5 .6 .5 1.1 .5 .1 .5-1.7 .5-.9 .5 .4 .5 .5 .5 .5 .5 .7 .5 .3 .5-1.2 .5 .7 .5 1 .5-.4 .5-.6 .5-.7 .5-1 .5 .1 .5 2.3 .5 1.3 .5-.6 .5-.8 .5 .1 .5 .1 .5 .7 .5 .7 .5 0 .5-.9 .5-.8 .5 .1 .5 .3 .5 0 .5-.5 .5-.6 .5 1.3 .5 1.8 .5-.5 .5-2 .5-1 .5 .2 .5 .4 .5 .5 .5 .5 .5 .4 .5-.1 .5-.8 .5-.2 .5 .5 .5-.6 .5-1 .5 .5 .5 .8 .5-.4 .5 .3 .5 1.9 .5 .5 .5-1.5 .5-.7 .5 .7 .5 .9 .5-.3 .5-.7 .5-.3 .5-.1 .5-.3 .5 .9 .5 1.5 .5-.1 .5-.5 .5 .7 .5 .4 .5 .1 .5-1.3 .5-.6 .5 .8 .5 1.6 .5 .6 .5-1.5 .5-1.1 .5 0 .5 .3 .5 .4 .5 .8 .5 .1 .5 .3 .5 .4 .5 .5 .5-.5 .5-.1 .5 .7 .5 .1 .5 .4 .5-.6 .5-1 .5 .5 .5 1 .5-.8 .5-.8 .5 1 .5 .4 .5-.2 .5-.4 .5-.3 .5 0 .5 .1 .5 .7 .5 .5 .5-.6 .5-.4 .5 .4 .5-.1 .5-1 .5-.8 .5-.1 .5 0 .5 1 .5 2.6 .5-1.1 .5-2.4 .5-.8 .5-.1 .5 .5 .5 .6 .5 .5 .5-.1 .5-.5 .5 .1 .5-.1 .5 .1 .5 .5 .5-.1 .5-.9 .5-1 .5 .9 .5 .5 .5-.7 .5-.8 .5-.6 .5-.2 .5-1 .5-.5 .5 .6 .5-.3 .5-.5 .5 1 .5 .9 .5-.7 .5-.5 .5 .5 .5-.5 .5-.8 .5-.4 .5-.2 .5-.3 .5 .9 .5 1.3 .5-.9 .5 .1 .5 .7 .5-.4 .5-.2 .5-.3 .5 0 .5 .3 .5 .3 .5 .2 .5-.2 .5-.1 .5 .4 .5 .8 .5-.1 .5 .2 .5 .1 .5 .2 .5 .2 .5-.6 .5-.6 .5 .5 .5 .4 .5-.7 .5-.3 .5 0 .5 .3 .5-.4 .5-.8 .5-.5 .5 .1 .5 .1 .5 .5 .5 .5 .5-.4 .5-.7 .5-.5 .5 .4 .5 .5 .5 .5 .5 0 .5-1 .5-.1 .5 .1 .5-.6 .5-.2 .5 .1 .5 0 .5 1.4 .5 1.5 .5-1.3 .5-1.1 .5 .1 .5 .5 .5 .4 .5 .2 .5-.6 .5-1.3 .5-.5 .5 .8 .5 1.9 .5 .8 .5-.6 .5-.3 .5 .7 .5-.6 .5-2.1 .5-.8 .5 2.5 .5 1.6 .5-.6 .5-.7 .5-.4 .5 .7 .5 1.4 .5 .7 .5-1.4 .5-.4 .5 .5 .5-.2 .5-.8 .5-.1 .5 .3 .5 1 .5 .9 .5 .2 .5 .6 .5-.5 .5-.9 .5-1 .5 .5 .5 .5 .5-.6 .5-.9 .5 .5 .5 1.2 .5 .4 .5 .3 .5-.1 .5-.8 .5 .2 .5 1.2 .5 .6 .5-.4 .5-1.2 .5 .4 .5 1.3 .5 1.7 .5 1.7 .5-.6 .5-.8 .5 0 .5 0 .5 0 .5-.1 .5 .2 .5 .6 .5-.4 .5-1.2 .5-1.2 .5-1.1 .5-.1 .5-.2 .5-.1 .5-.1 .5-.9 .5-.3 .5 .4 .5 .1 .5 0 .5 .2 .5 .6 .5 .5 .5-.1 .5 .3 .5-.6 .5-1.7 .5-.2 .5 1.8 .5 .7 .5-.5 .5-.1 .5 .4 .5 0 .5-.7 .5-.5 .5 .7 .5 .3 .5-.3 .5 0 .5 .5 .5-.3 .5 .5 .5 1.1 .5-.9 .5-.3 .5 .1 .5 0 .5-.7 .5-.3 .5 0 .5 .4 .5 .7 .5-.1 .5-.5 .5 .3 .5 .1 .5-.5 .5-.2 .5 0 .5 .6 .5 .4 .5-.1 .5-.5 .5-.8 .5-.1 .5 1 .5 .4 .5-.2 .5 .4 .5 .1 .5-.1 .5-.1 .5-.3 .5-.2 .5-.1 .5-.6 .5 .3 .5 2 .5-.9 .5-1.6 .5 .9 .5 .7 .5 .1 .5-.1 .5-.1 .5-.1 .5 .2 .5-.5 .5-.4 .5 .5 .5 .5 .5-.2 .5 .7 .5 1.3 .5 .6 .5-1.4 .5-1.6 .5 .1 .5 .7 .5-.7 .5-.2 .5 .6 .5-.2 .5-.8 .5 .8 .5 .9 .5 .1 .5-.4 .5-.4 .5-.8 .5-.8 .5 .4 .5 .5 .5 1.4 .5 1.2 .5-.2 .5 .1 .5 .1 .5-.5 .5-.6 .5-.9 .5-1 .5 .9 .5 1.2 .5 .4 .5 .6 .5 .5 .5-.8 .5-.3 .5 .2 .5 .4 .5-.8 .5-.9 .5-.2 .5 .9 .5 1.2 .5-.6 .5-.7 .5 .1 .5 .5 .5 .8 .5 0 .5-.3 .5-1.4 .5-1.8 .5 1 .5 1.6 .5 1.4 .5 .9 .5-.2 .5-.7 .5-1 .5-.3 .5 1.3 .5-.3 .5-2.6 .5-1.6 .5 1.9 .5 2.4 .5 .9 .5-2.1 .5-1.3 .5-1.3 .5-1.6 .5 1.7 .5 1.7 .5-.3 .5-.7 .5-.8 .5-1 .5-.6 .5 0 .5-1 .5-.7 .5 .3 .5-.5 .5-.6 .5 .1 .5-.3 .5-1.1 .5-.3 .5 .5 .5-.2 .5-.5 .5-.4 .5-1.2 .5-.1 .5 .7 .5 0 .5-.5 .5-.3 .5-.1 .5 1.2 .5 2.2 .5-.2 .5-2.3 .5-1.9 .5-.3 .5 1 .5 .9 .5 1.1 .5 .9 .5-.5 .5 .3 .5 .3 .5-1 .5-.3 .5 .7 .5 .5 .5 1.2 .5 .5 .5-.5 .5-.2 .5 0 .5-.4 .5 0 .5 .9 .5 .5 .5-.3 .5-.4 .5-.6 .5 .1 .5 .5 .5 .9 .5 .6 .5-.3 .5-.1 .5-.3 .5-.8 .5 1.1 .5 1.2 .5 .4 .5-.2 .5-.5 .5 .3 .5 .3 .5-.5 .5-1.1 .5-.7 .5 1.6 .5 1.8 .5 .2 .5-1.1 .5-.9 .5-.4 .5 .2 .5 .4 .5 .8 .5 .2 .5-1.3 .5-.6 .5 0 .5 .4 .5 .7 .5 .3 .5-1.1 .5-1.2 .5 .3 .5 .3 .5 0 .5 .1 .5-.1 .5-.1 .5 .2 .5-.4 .5-.1 .5-.1 .5 0 .5 .2 .5 .1 .5-.1 .5-.1 .5 .6 .5 .2 .5-.1 .5-.9 .5-1.1 .5 .4 .5 1.5 .5 1.5 .5 .1 .5-1.2 .5-.6 .5-.4 .5 0 .5-.2 .5 .7 .5 .1 .5-.5 .5 .3 .5 .1 .5 .8 .5 .6 .5-.5 .5-.1 .5-.2 .5-.4 .5 0 .5 0 .5-1.5 .5 .7 .5 1.7 .5-.7 .5-.1 .5 1.5 .5 1 .5-.2 .5-.9 .5 .2 .5 .3 .5-.1 .5 .7 .5 .2 .5-.4 .5 .4 .5 .2 .5-.4 .5-.3 .5 .3 .5 1 .5 1.4 .5-.2 .5-.8 .5 0 .5 .4 .5-.9 .5-.5 .5 1.6 .5 1.3 .5-.6 .5-1 .5 .1 .5 .1 .5-.2 .5-.9 .5 .2 .5 .9 .5 .5 .5-.1 .5-.1 .5 .1 .5 0 .5-.4 .5-.6 .5 0 .5 1 .5 1.3 .5 .6 .5-.8 .5-.9 .5-.6 .5 .4 .5 .2 .5-.1 .5 .2 .5 1 .5 .2 .5-1 .5-.1 .5 .3 .5-.3 .5-.5 .5-.7 .5-.5 .5-.1 .5-.6 .5-.4 .5 .7 .5 .7 .5 .2 .5 0 .5-.5 .5-.3 .5 .2 .5 1 .5 .4 .5-.2 .5-.9 .5-1.6 .5-.3 .5 1.2 .5 1.1 .5 .1 .5 .5 .5 .4 .5-.2 .5 .3 .5-.2 .5-2.3 .5-1.6 .5 3.5 .5 3.8 .5-1.9 .5-2.4 .5 .5 .5 1.2 .5-.2 .5-.8 .5 0 .5 .2 .5 .5 .5-.3 .5-.5 .5-.4 .5 .6 .5 .6 .5-.1 .5 0 .5 0 .5-1 .5 .2 .5 1.1 .5 .7 .5-.3 .5-1.1 .5-.1 .5 .3 .5 .8 .5 0 .5-.7 .5-1.3 .5 .3 .5 .6 .5-.4 .5-1 .5 .1 .5 1.3 .5 .4 .5-.7 .5 .5 .5 .7 .5-.5 .5-.6 .5-.3 .5-.4 .5-.1 .5 0 .5 .1 .5 .2 .5 .3 .5-.1 .5-.5 .5-.4 .5-.3 .5 1 .5 .4 .5-.9 .5 0 .5 .6 .5-.5 .5-.9 .5 1.2 .5 .4 .5-1.4 .5 .1 .5 1 .5 0 .5-.3 .5-.9 .5-1.2 .5 1 .5 1.7 .5 1.1 .5-.9 .5-.4 .5 .3 .5 .4 .5-.1 .5-.4 .5-.7 .5-.2 .5 .6 .5 .6 .5-.1 .5-.4 .5-.2 .5 .1 .5 .1 .5-.6 .5-.5 .5-.4 .5 .4 .5 .5 .5-1.1 .5-.2 .5 .3 .5-.4 .5 .3 .5 .7 .5-.2 .5-.4 .5 .3 .5 .6 .5-.1 .5-1.1 .5-1.3 .5 .4 .5 1.9 .5 .7 .5-1.6 .5-.5 .5 1.1 .5 .5 .5-.8 .5-.6 .5 .9 .5 .1 .5-1.4 .5-.1 .5 .9 .5 .4 .5-.3 .5-.1 .5-.6 .5-.3 .5-.6 .5-.4 .5 .8 .5 .6 .5 0 .5-.3 .5 1.1 .5 .7 .5-.6 .5-1.6 .5 0 .5 .9 .5-.1 .5 0 .5 .6 .5-.2 .5-1.1 .5-1 .5 .7 .5 1.4 .5-.1 .5-.5 .5-.5 .5-.4 .5-.5 .5-.6 .5-.2 .5 .7 .5 .7 .5 1 .5 1.2 .5-.8 .5-1.3 .5-.7 .5-.4 .5-.3 .5 .1 .5 1.1 .5 1.7 .5 .4 .5-1.7 .5 0 .5 1.2 .5-.8 .5-1.8 .5 .2 .5 .4 .5 .9 .5 1 .5 .5 .5 .5 .5-.2 .5-.2 .5 .7 .5 .8 .5 .7 .5 0 .5 0 .5-.3 .5-.3 .5-.2 .5-.3 .5 0 .5-.5 .5-.8 .5 .5 .5 1.4 .5 .3 .5-.8 .5 0 .5-.1 .5-1.2 .5 0 .5 .4 .5-.2 .5 .2 .5 .6 .5-.8 .5-.7 .5-.1 .5-.3 .5-.4 .5-.4 .5-.2 .5 0 .5 .1 .5 .9 .5 .7 .5 .2 .5 .8 .5-.3 .5-1.5 .5-.8 .5 0 .5 .2 .5-.2 .5-.5 .5 .3 .5 .8 .5 .5 .5-.8 .5-1 .5 .1 .5 .7 .5-.2 .5-.1 .5 .4 .5-.6 .5 .6 .5 1.6 .5-.7 .5-1 .5-.3 .5 .3 .5 .2 .5-.9 .5 0 .5 .7 .5-.1 .5 .6 .5 1.4 .5 .6 .5-1.5 .5-.3 .5 .7 .5 .3 .5 .2 .5-.3 .5-.8 .5-.3 .5 .5 .5 .3 .5-.3 .5 .2 .5-.2 .5-.6 .5-1.3 .5-.8 .5-.6 .5 .6 .5 .8 .5-.3 .5-.9 .5-.8 .5-1.1 .5-.8 .5 .3 .5 1.2 .5 1.2 .5 .4 .5-1.2 .5-.6 .5 .2 .5 .2 .5-.4 .5-.9 .5 .5 .5 1.3 .5-.1 .5-.9 .5-.4 .5 .7 .5 .3 .5-.6 .5-.3 .5 1 .5 .8 .5-.2 .5-.2 .5-.3 .5-.4 .5 0 .5 .1 .5-.6 .5-.7 .5 .4 .5 1.8 .5 1.5 .5-1.2 .5-1.7 .5 1 .5 3.6"/><path d="M39.5 239.5l.5 .4 .5 0 .5 .4 .5-.1 .5-.2 .5-.3 .5 .7 .5 1.8 .5-.3 .5-1.3 .5-.7 .5 .3 .5 1.1 .5 .6 .5-.5 .5-.7 .5-.3 .5 .4 .5 1.1 .5 .3 .5-.3 .5-.3 .5 0 .5 .4 .5-.1 .5 .4 .5 .7 .5-.8 .5-.2 .5 .8 .5 .7 .5-.3 .5 0 .5 .6 .5-.3 .5-1.6 .5-.3 .5 1.5 .5 .8 .5-1 .5-.9 .5-.6 .5 0 .5 0 .5 .1 .5 0 .5-.7 .5-.7 .5-1.1 .5 0 .5 .3 .5-1 .5-.2 .5 1.2 .5 0 .5-.9 .5-.5 .5 .6 .5 1.2 .5-.4 .5-1.3 .5-.9 .5 0 .5-.4 .5-1.1 .5-.6 .5 1 .5 .3 .5-.5 .5-.4 .5-.7 .5-1.3 .5 .5 .5 .8 .5 0 .5-.2 .5 .4 .5 .3 .5 .1 .5 .4 .5-1.4 .5-1.7 .5 1.8 .5 .7 .5-.6 .5 .2 .5 .9 .5 .1 .5-.9 .5-.3 .5 .1 .5 .3 .5 .4 .5-.5 .5-.6 .5 .3 .5 .9 .5 0 .5-1.1 .5-.5 .5 .3 .5 .3 .5 0 .5 .8 .5 .5 .5-.3 .5-.6 .5 .1 .5 0 .5-1 .5 .1 .5 1.1 .5 .5 .5 .2 .5 0 .5-1.4 .5-.7 .5 1.8 .5 2.1 .5-1.3 .5-1.1 .5-.8 .5-1.1 .5 0 .5 .4 .5-.4 .5-.1 .5 1.1 .5 1 .5 .3 .5-1 .5-1.2 .5-.5 .5-.8 .5 .6 .5 1.8 .5 .6 .5-1.3 .5-.4 .5 .7 .5 0 .5-.8 .5-1.2 .5 0 .5 .5 .5 .2 .5-.1 .5 1.1 .5 .2 .5-.4 .5-.3 .5-.1 .5 .3 .5 .5 .5 .3 .5-.9 .5-.5 .5 1.2 .5 .5 .5-.5 .5-.8 .5-.6 .5 .4 .5 1.3 .5 1.3 .5-.2 .5-1.7 .5-.2 .5 1.4 .5 .8 .5-.3 .5-.4 .5 .2 .5-.1 .5 .7 .5 .6 .5-1.3 .5-1.1 .5 .5 .5 1.1 .5 .6 .5 .5 .5 .6 .5 .2 .5-.7 .5-2.1 .5-.1 .5 .9 .5 .9 .5 1 .5-.8 .5-.8 .5-.4 .5-.9 .5-.2 .5 1.7 .5 .3 .5-1.1 .5-.5 .5 1.1 .5 .7 .5-1.2 .5-1 .5-.3 .5 .4 .5 .5 .5-1.2 .5-.8 .5 2.4 .5 2 .5-.8 .5-.9 .5 .6 .5 .2 .5-.3 .5 0 .5 .4 .5-.5 .5-.7 .5-.3 .5 .1 .5 1.2 .5 .9 .5-1.1 .5-1 .5 .9 .5 .7 .5-.9 .5-1.5 .5-.3 .5 0 .5 .7 .5 .9 .5 .3 .5 .7 .5 .5 .5-.3 .5-.1 .5 .4 .5 .4 .5 1 .5 .2 .5 0 .5-.3 .5-.2 .5-.1 .5-.2 .5 .5 .5 .8 .5 .2 .5 0 .5-.3 .5-.7 .5-.5 .5-.1 .5-.7 .5-.3 .5 2.3 .5 1 .5-.2 .5-1.4 .5-.8 .5 1.3 .5 .4 .5-1.3 .5-1.7 .5 0 .5 1.3 .5 1.7 .5 0 .5-.5 .5 .7 .5 .4 .5-1.9 .5-1.8 .5 1.4 .5 .8 .5 .2 .5 1.1 .5 .4 .5-.4 .5-.4 .5-.6 .5 .4 .5 .3 .5 .2 .5 .5 .5-.8 .5-1.1 .5 .3 .5 .9 .5-.1 .5-.5 .5 .1 .5 .7 .5 .9 .5-.4 .5-1 .5-.8 .5-.8 .5 .9 .5 1.3 .5 .4 .5-.3 .5-.9 .5-1.4 .5-.4 .5 .8 .5 1.4 .5 .3 .5-1.2 .5-.4 .5 .7 .5 .1 .5-.8 .5-.6 .5 .4 .5-.4 .5-.9 .5 .7 .5 2.2 .5 1.6 .5-1.5 .5-1.5 .5 .1 .5-.9 .5-1.2 .5 1.5 .5 2.1 .5-.1 .5 .2 .5 .5 .5-2.2 .5-1.7 .5 .8 .5 1.1 .5 .1 .5-.9 .5-.3 .5 1 .5 .9 .5 0 .5-.9 .5-.8 .5 .7 .5 .5 .5-.2 .5 .3 .5-.1 .5-.9 .5-.4 .5 0 .5 0 .5 .5 .5 .3 .5-.4 .5 .2 .5 0 .5-1.3 .5-.6 .5 .7 .5 .4 .5 .2 .5-.1 .5 .4 .5 .3 .5-1.7 .5-.3 .5 1.4 .5 .1 .5-.8 .5-.1 .5 .6 .5 .4 .5 .5 .5-.4 .5 0 .5 .3 .5-.6 .5 .1 .5 1.8 .5 2.1 .5 .9 .5-1.4 .5-.5 .5-.1 .5 .3 .5 1.5 .5 .7 .5-.5 .5 .1 .5 .7 .5 .7 .5-.6 .5-.2 .5 .9 .5-.2 .5-.3 .5 .7 .5-.2 .5-1.6 .5 .4 .5 .7 .5 0 .5 .3 .5 .5 .5-.2 .5-.6 .5 .5 .5 .3 .5 .5 .5 .1 .5-.5 .5-.2 .5-.7 .5-.5 .5 0 .5 .3 .5-.1 .5-.4 .5-.3 .5-.4 .5 .6 .5-.1 .5-.7 .5-.6 .5-.4 .5-.1 .5-.1 .5-.3 .5-.4 .5-.9 .5-.1 .5 .1 .5-.9 .5-1.3 .5-.2 .5 .9 .5 0 .5-1 .5 .3 .5 .6 .5-.1 .5-.4 .5-.3 .5-.3 .5-.9 .5-1.3 .5-.4 .5 1.3 .5 .4 .5-.4 .5 .9 .5-.3 .5 .1 .5 .2 .5-.1 .5 0 .5-.1 .5 .3 .5-.4 .5-.2 .5-.2 .5-.5 .5-.1 .5 .6 .5 .8 .5-.1 .5-1 .5-.7 .5 .4 .5-.6 .5-.5 .5 .2 .5 1 .5 1.4 .5 .7 .5-1 .5-2 .5-1.6 .5 .8 .5 1.3 .5 .8 .5 .6 .5 .1 .5-1.1 .5-.8 .5 1.2 .5 .7 .5-.8 .5-.7 .5 .4 .5 1 .5-.5 .5-.5 .5 1.1 .5 .9 .5 .4 .5-1.1 .5-.2 .5 .7 .5 .3 .5-.4 .5 .1 .5-.4 .5-.3 .5 .2 .5 .6 .5 .7 .5-.6 .5-.3 .5-.6 .5-.6 .5 .8 .5 .6 .5 .1 .5 .9 .5 .7 .5 .1 .5-1.3 .5-2.1 .5-1.5 .5 1.9 .5 2 .5 .2 .5 .4 .5-.1 .5-.8 .5-1.1 .5 .5 .5 1 .5 .7 .5-.2 .5-.4 .5-.8 .5-1.3 .5-.8 .5 1.3 .5 1.7 .5 .8 .5-.3 .5 .4 .5 .6 .5-.9 .5-1.9 .5-1.5 .5 .9 .5 2.1 .5 .8 .5-1.3 .5-1.3 .5 1.1 .5 1.4 .5 .4 .5 1.1 .5 1 .5-.4 .5-.4 .5-1.5 .5-.2 .5 0 .5-1.1 .5-.5 .5 1.2 .5 .8 .5-.3 .5 0 .5 .5 .5-.2 .5-.5 .5-.5 .5-.8 .5 .7 .5 2.1 .5 1.8 .5-2.2 .5-1.6 .5 .5 .5 .2 .5-.1 .5 .2 .5-.4 .5-.9 .5-.2 .5 .5 .5 .4 .5 2.3 .5 1.5 .5-.6 .5-.9 .5 0 .5 .7 .5 .3 .5 .8 .5 1.8 .5 1.4 .5-.1 .5 .2 .5 .5 .5 .5 .5-.1 .5-1 .5-1.1 .5 .2 .5 .1 .5-.7 .5 0 .5-.5 .5-1.5 .5-1.5 .5 .3 .5 .4 .5-1.1 .5-.2 .5 .6 .5-.2 .5-1.2 .5-.9 .5-.4 .5 .7 .5 .7 .5 .3 .5-1.3 .5-.8 .5 .5 .5 .3 .5-.3 .5-.3 .5 .6 .5 .7 .5 0 .5-.3 .5-.4 .5-.6 .5-1.6 .5-1.5 .5 .7 .5 1.3 .5 .7 .5-.7 .5-.8 .5-.7 .5-.5 .5-.5 .5-.7 .5 0 .5 1.5 .5-.7 .5-1.3 .5-.3 .5-.1 .5-.1 .5-.2 .5 .1 .5 .3 .5-.3 .5 .1 .5 .3 .5 .3 .5-.4 .5-.2 .5 0 .5 .3 .5 1.3 .5 0 .5-.8 .5-.7 .5-.9 .5-.2 .5 1.7 .5 .5 .5-.5 .5-.5 .5 0 .5 .6 .5 .4 .5-.1 .5-.3 .5 .7 .5 .6 .5-1.3 .5-1.8 .5 .7 .5 1.4 .5 .6 .5-.6 .5-.2 .5 .8 .5-.2 .5 .3 .5 1.2 .5-.8 .5-.6 .5-.2 .5-1.2 .5 .1 .5 1.1 .5 0 .5-1.1 .5-.9 .5 0 .5 .5 .5 .4 .5 .1 .5-1 .5-.9 .5 1.1 .5 1 .5-1.1 .5-1.3 .5-.4 .5 .6 .5 1 .5 .3 .5 0 .5-.1 .5-.5 .5-1.1 .5 .1 .5 .7 .5 .7 .5 1.1 .5 .1 .5-2 .5-1.3 .5 .4 .5 1.6 .5 .5 .5-.7 .5 0 .5-.4 .5-.5 .5 .6 .5 1.4 .5 .6 .5-1.5 .5-.8 .5 .1 .5 .1 .5-.6 .5 .1 .5 .8 .5 .5 .5 .5 .5 .3 .5-.8 .5-1.1 .5-.7 .5 1.1 .5 .9 .5-.1 .5 .4 .5 .4 .5 .3 .5-.3 .5-.2 .5-.3 .5-.1 .5 .9 .5 2.1 .5 1.1 .5-1.6 .5-1 .5 1.6 .5 1.6 .5-.2 .5-1.4 .5 .4 .5 2.4 .5 .8 .5-1 .5-.2 .5 1.7 .5 1.3 .5 .5 .5 .1 .5-.3 .5-.2 .5 .1 .5 .7 .5 .5 .5-.4 .5-.7 .5-.2 .5-.2 .5 .3 .5 1.1 .5 .8 .5-.6 .5-.5 .5-.3 .5 .3 .5 .8 .5-.3 .5-.2 .5 .2 .5-.3 .5-.8 .5-.4 .5 1.6 .5 1.2 .5-.7 .5-.7 .5 .4 .5 .7 .5-.3 .5-.7 .5-.2 .5-.2 .5-.3 .5 .7 .5 .7 .5 .3 .5 0 .5-.4 .5 .2 .5 .4 .5 .3 .5-.1 .5-.1 .5 .4 .5-.1 .5-1.1 .5 .7 .5 2.3 .5-.5 .5-1.8 .5-.4 .5 .3 .5 .3 .5 .4 .5 .5 .5 .1 .5 0 .5 .4 .5-.3 .5-.6 .5 .1 .5-.1 .5-.4 .5-.4 .5-.3 .5-.6 .5 .3 .5 1 .5 .1 .5-.6 .5-.4 .5 1.2 .5 1 .5-1.5 .5-1.2 .5-.1 .5-.4 .5-.4 .5-.1 .5-.1 .5-.1 .5 .1 .5 0 .5-.9 .5-.7 .5 .5 .5 .1 .5 .3 .5-.1 .5-.4 .5-.4 .5-1.5 .5-.9 .5 1.1 .5-.1 .5-.1 .5 1 .5-.3 .5-1.3 .5-.5 .5 .1 .5 .5 .5 .2 .5 0 .5 .3 .5-.1 .5-.6 .5 .6 .5 1 .5 .1 .5 .1 .5-.1 .5-1.4 .5 0 .5 1.2 .5 .6 .5-.4 .5-.5 .5 .2 .5-.5 .5-.2 .5 .4 .5 .4 .5-.6 .5 .3 .5 1.2 .5-.5 .5-.1 .5-.4 .5-1.2 .5-.6 .5-.5 .5-.7 .5 .1 .5 .8 .5 .5 .5-.2 .5-.9 .5-.8 .5-.6 .5-.7 .5-.8 .5-.3 .5 1 .5 1.5 .5 .6 .5-1.1 .5-1.3 .5 .4 .5 1.5 .5 .6 .5-.9 .5-.8 .5 .2 .5 1 .5-.1 .5-1.1 .5 .2 .5 .9 .5-.5 .5-1.1 .5 .5 .5 1.2 .5 .3 .5-.3 .5-.9 .5-.6 .5 1.3 .5 .9 .5-.6 .5-.6 .5 .1 .5 .6 .5 .6 .5 1.2 .5-.7 .5-2 .5-.4 .5 1 .5 .2 .5-.3 .5-.2 .5-1.1 .5 1.1 .5 1.7 .5 .5 .5-.4 .5-.5 .5-.6 .5 .1 .5 .3 .5 .6 .5 .2 .5-.7 .5-.4 .5 .1 .5-.1 .5-.2 .5-.2 .5 1.2 .5 1.4 .5-.9 .5-1.5 .5-.8 .5 .2 .5 .4 .5 .2 .5 1.2 .5 1.6 .5-1 .5-1.2 .5 .2 .5 .2 .5-.5 .5-.7 .5 .1 .5 .7 .5 .7 .5 .1 .5-.8 .5-1.1 .5 .2 .5 1.8 .5 0 .5-.7 .5-.1 .5 .4 .5-.2 .5 .1 .5-.3 .5-.9 .5-.1 .5 .8 .5 .6 .5 1 .5 1 .5-1.1 .5-.7 .5-.2 .5-.5 .5-.2 .5 .1 .5 .5 .5 .3 .5-.2 .5 0 .5-.6 .5-.5 .5 .7 .5 .5 .5 .4 .5-1.2 .5-1.3 .5 .1 .5 .5 .5 .8 .5 .7 .5-1.2 .5-1.3 .5 1.5 .5 1 .5-.8 .5-.9 .5 .3 .5 1.7 .5 1.1 .5-1.3 .5 .2 .5 .7 .5-.6 .5 .2 .5 .7 .5 .7 .5 .7 .5-.4 .5-.7 .5-.1 .5 .5 .5-.2 .5-.7 .5-.9 .5-.5 .5 1 .5 .6 .5-.1 .5 .2 .5 .3 .5-1.2 .5-.7 .5 0 .5-.5 .5-.4 .5 .6 .5 1 .5 .2 .5-.8 .5-.5 .5 .5 .5 .4 .5-.4 .5-.1 .5-.3 .5-.2 .5 .3 .5-.2 .5 .1 .5 .8 .5-.8 .5-.3 .5 .5 .5 .7 .5 .5 .5 .1 .5 .2 .5 .3 .5 .6 .5 1 .5 1.2 .5 .2 .5 .2 .5 .4 .5 .1 .5-.3 .5-1.2 .5-1 .5 1.2 .5 1 .5 .4 .5 .5 .5-.2 .5-1.2 .5-1 .5 .2 .5 .4 .5-.4 .5-.9 .5-.9 .5 0 .5-.6 .5-.7 .5-.1 .5 0 .5 .9 .5 1.7 .5 .4 .5-2.1 .5-1.7 .5-.2 .5 .8 .5 .8 .5-1.1 .5-1.7 .5-.4 .5 1.4 .5 .6 .5 0 .5-.1 .5-.6 .5 0 .5-.2 .5 1 .5 0 .5-.8 .5-.7 .5 .6 .5 1.2 .5 .7 .5 .6 .5-1.8 .5-2.4 .5-.2 .5 .9 .5 1.5 .5 2.2 .5 1.2 .5-.6 .5-1 .5-1.3 .5-1.5 .5-.3 .5 1.7 .5 .6 .5-.5 .5 .3 .5 1.2 .5-.7 .5-.8 .5 .6 .5 .1 .5-.5 .5-.5 .5-.2 .5 .2 .5-.6 .5-.2 .5 1.2 .5 1.4 .5 .6 .5-.8 .5-.4 .5-.1 .5-.5 .5-.3 .5 .9 .5-.2 .5-.7 .5 .3 .5-.5 .5-1.1 .5-.3 .5 .9 .5 1.2 .5 .3 .5-1.1 .5-.9 .5-.1 .5 .2 .5 .2 .5 1 .5 .9 .5 .6 .5-1.9 .5-1.7 .5-.2 .5 .8 .5 1.1 .5 0 .5-.5 .5 .6 .5 1 .5-1.5 .5-1 .5 .1 .5 .7 .5 .7 .5-.2 .5-.4 .5 .4 .5 .3 .5 .1 .5 .7 .5 .3 .5-.3 .5 .3 .5 .2 .5-.8 .5 .1 .5 1 .5 0 .5-1.7 .5-.7 .5 0 .5-.3 .5 .3 .5-.3 .5 .5 .5 1.6 .5 .4 .5-1.1 .5-.3 .5 0 .5-.5 .5-.1 .5 .1 .5 .1 .5-.3 .5-.2 .5 .4 .5-.3 .5 1.2 .5 1.2 .5-1.3 .5-2 .5-.8 .5 0 .5 .1 .5 1 .5 1.7 .5 .2 .5-1.2 .5-.7 .5-.1 .5 1.1 .5 1.5 .5-.7 .5-1.2 .5 .1 .5 .3 .5-.6 .5-.3 .5-.8 .5-1 .5 1 .5 1.6 .5 .9 .5-.2 .5-.2 .5-.7 .5-.8 .5 .3 .5 .2 .5-.4 .5 0 .5 1.5 .5 1.1 .5-.7 .5-1 .5-.6 .5-.3 .5-.2 .5 1.3 .5 1.2 .5 1.3 .5 1.3"/><path d="M39.5 255.0l.5-.6 .5 .5 .5 .5 .5 .2 .5-.2 .5 .3 .5 .5 .5 .3 .5-.2 .5-.5 .5 .6 .5 1.8 .5 0 .5-.4 .5 .5 .5 .2 .5-1 .5-.6 .5 .6 .5 .5 .5-.3 .5-.5 .5 0 .5 1.6 .5 1.4 .5-.6 .5-.6 .5-.3 .5-.3 .5-.8 .5-.3 .5 1.1 .5 1 .5-.3 .5-.5 .5-.3 .5-.5 .5 .2 .5 .7 .5-.1 .5-.1 .5-.1 .5-.2 .5-.2 .5-.3 .5 0 .5-.2 .5 .2 .5 0 .5-2 .5-.7 .5 1.2 .5 .8 .5 .4 .5-.2 .5-1 .5-.5 .5 .2 .5-.6 .5-.5 .5 0 .5 .2 .5 .1 .5-1.2 .5-.8 .5 .7 .5 .7 .5-1.5 .5-.3 .5 1.6 .5-.5 .5-1.9 .5-1 .5 1.3 .5 1.5 .5-.5 .5-.5 .5 .1 .5-.9 .5-.2 .5 .8 .5-.2 .5 1.2 .5 .5 .5-1 .5-.8 .5 0 .5 .3 .5 .8 .5 .7 .5-.5 .5-.5 .5 .8 .5-.2 .5-.7 .5 1.2 .5 1.3 .5-.1 .5-.1 .5 .6 .5 .2 .5-.9 .5-.4 .5-.7 .5-1.6 .5 .5 .5 1.2 .5 .1 .5-.6 .5-.5 .5-.4 .5-.9 .5-.6 .5 0 .5 .8 .5-.1 .5-.4 .5 .5 .5 .9 .5-.4 .5-.8 .5-.1 .5 .8 .5 .5 .5 0 .5-.1 .5-.2 .5 .2 .5 .4 .5 .7 .5 .1 .5-.6 .5 0 .5-.8 .5-.7 .5 1 .5 .8 .5 .1 .5-.1 .5-.1 .5 .2 .5-.6 .5-.4 .5 .3 .5 .2 .5 .8 .5 1.3 .5-.8 .5-1.6 .5-1 .5 .4 .5 .3 .5-.2 .5 .3 .5 .4 .5-.3 .5-1 .5 0 .5 1 .5 .7 .5 .4 .5 .5 .5-.5 .5-.7 .5-.8 .5-1.5 .5 .8 .5 .4 .5 .3 .5 .4 .5 .4 .5 .3 .5-.4 .5-.8 .5 .4 .5 .9 .5 .1 .5-.3 .5-.1 .5-.8 .5 .2 .5 .6 .5 .6 .5 1 .5-.1 .5-.6 .5 .9 .5 .8 .5 0 .5-.5 .5-.4 .5 1 .5 .7 .5 .3 .5 .7 .5 .4 .5-.8 .5-1 .5 .1 .5-.1 .5-1.1 .5-.9 .5-.2 .5-.1 .5 .1 .5-.1 .5-.5 .5-1.1 .5-.8 .5 1.5 .5 2.2 .5-.5 .5-1 .5-.5 .5-.2 .5 .3 .5 1 .5-.2 .5-.9 .5 .3 .5 .3 .5 .6 .5 .3 .5 .1 .5-.5 .5-.8 .5 .2 .5 0 .5 .3 .5-.2 .5-.2 .5 .3 .5 .3 .5-.3 .5-1.4 .5-.2 .5 .7 .5 1.3 .5 .6 .5-.2 .5 .1 .5-.2 .5 .2 .5 .1 .5 .2 .5-.3 .5-.2 .5-.1 .5 .6 .5 .3 .5-1.4 .5-.1 .5 .6 .5 .5 .5 0 .5 .1 .5 0 .5 .2 .5-.1 .5-.2 .5-.7 .5 .4 .5 .7 .5-.6 .5-.6 .5-.2 .5 .1 .5 .5 .5-.2 .5 .2 .5 .1 .5-.5 .5 .1 .5 .2 .5 .1 .5-.1 .5-.4 .5 0 .5-.1 .5-.7 .5 1.2 .5 2.3 .5-.8 .5-1.8 .5-.8 .5-.3 .5 .5 .5 .3 .5 .4 .5 .9 .5-.3 .5-.3 .5-.4 .5-.5 .5 .3 .5 .1 .5 .5 .5 1 .5 1.3 .5 .8 .5-1.8 .5-1.5 .5 .7 .5 1 .5 .1 .5 0 .5 0 .5-.5 .5-.5 .5 .2 .5 .3 .5-.7 .5-.9 .5-1.2 .5-.7 .5 1.7 .5 .7 .5-.9 .5-.2 .5 .5 .5 0 .5-.5 .5-.4 .5-.3 .5 .5 .5 .2 .5-1.6 .5 .4 .5 .7 .5 0 .5-.1 .5-.3 .5-.6 .5 0 .5 .5 .5-.6 .5-1 .5 .4 .5 1 .5 .2 .5 .5 .5 .1 .5-.9 .5-.5 .5-.2 .5-.3 .5 0 .5 .3 .5 2.1 .5 1.9 .5-1.6 .5-2.1 .5 .4 .5 1.2 .5 .6 .5 .7 .5 .1 .5 0 .5-.5 .5-.3 .5 3 .5 3.2 .5-2.7 .5-2.6 .5-.6 .5 0 .5 1.1 .5 .2 .5-.6 .5 0 .5-.2 .5-.3 .5 .7 .5 1.3 .5-.7 .5-.7 .5 0 .5 .3 .5-.3 .5-1 .5-.2 .5 .2 .5 .3 .5 .8 .5 .7 .5 .6 .5 .3 .5-.3 .5 .9 .5 1.5 .5 .9 .5 .7 .5 .7 .5-.6 .5-1.1 .5 .6 .5 .4 .5-.3 .5 .1 .5 .1 .5-.4 .5 .3 .5 .7 .5-.4 .5-1.2 .5-.3 .5 0 .5 .4 .5 1 .5-.2 .5-1.1 .5-.4 .5 .4 .5 0 .5-.4 .5-.2 .5-.4 .5-.1 .5 .5 .5 .4 .5-.2 .5 .1 .5-.7 .5-.9 .5 0 .5 .3 .5 0 .5-.2 .5 .2 .5 .5 .5 .4 .5-.4 .5-.2 .5 .1 .5-.1 .5-.4 .5-.5 .5-.4 .5 0 .5 .2 .5 .2 .5 .1 .5 .1 .5 .1 .5-.2 .5-1.8 .5-2.2 .5 0 .5 2.2 .5 .7 .5-1.8 .5-1.4 .5-.5 .5 0 .5 .9 .5 .5 .5-.8 .5-.7 .5 .4 .5 .9 .5 .7 .5-.3 .5-1.8 .5-.9 .5 .3 .5 .2 .5 0 .5 1.4 .5 1.7 .5-1.7 .5-1.9 .5 0 .5 .3 .5-.7 .5-1.1 .5-.3 .5 1.3 .5 .5 .5-.9 .5-.4 .5 1.3 .5-.5 .5-1.4 .5 .9 .5 2.4 .5 .5 .5-1.5 .5-.9 .5-.1 .5 .6 .5-.1 .5-.7 .5-.2 .5 .1 .5 .1 .5-.1 .5 .1 .5 .1 .5 .5 .5 1 .5-.4 .5-.3 .5-.3 .5-.4 .5-.3 .5 .1 .5 .9 .5-.4 .5-.1 .5 0 .5 .2 .5 .3 .5 0 .5-.1 .5 .2 .5 .1 .5-1.3 .5-2.3 .5-.4 .5 2.3 .5 2.4 .5 .4 .5-1.2 .5-.5 .5-.2 .5-.3 .5 0 .5 .2 .5 .7 .5 .6 .5-1.2 .5-1 .5 1.3 .5 1.2 .5-.6 .5-.1 .5-.3 .5-.2 .5 .1 .5-1.7 .5-1.9 .5 2.3 .5 2.9 .5 .9 .5-.5 .5-1.2 .5-.1 .5-.9 .5-1.2 .5 1 .5 .4 .5 .4 .5-.1 .5-.2 .5 1.8 .5 .6 .5-.9 .5-1.1 .5-.2 .5-.1 .5-.5 .5-.1 .5 1.1 .5 .8 .5 .6 .5-.5 .5-1.3 .5 .5 .5 1.5 .5-.1 .5-.6 .5-.5 .5 0 .5 .3 .5 .5 .5 .5 .5-.1 .5-.1 .5-.1 .5 .1 .5-.1 .5 .2 .5 .2 .5 .1 .5 1.1 .5 .4 .5-.1 .5 .3 .5 .9 .5 1 .5 1 .5 .4 .5 .6 .5 0 .5 0 .5 .7 .5 .2 .5-.2 .5-.6 .5-.8 .5 1.2 .5 1.7 .5-1.8 .5-2.9 .5-.2 .5 .8 .5 .2 .5 .1 .5 .2 .5 .3 .5-1.1 .5-1.2 .5-1.2 .5-1 .5 .7 .5 1.2 .5 .6 .5-.1 .5-.4 .5-.1 .5 .2 .5-.2 .5-.8 .5 0 .5-.2 .5-.8 .5 .4 .5 1.1 .5 0 .5 0 .5 0 .5-.1 .5-.4 .5-1.3 .5-1.3 .5 .4 .5 1.9 .5 1.1 .5-.1 .5 .2 .5-.5 .5-.4 .5 0 .5 0 .5 .3 .5 .1 .5-.5 .5-.7 .5-.4 .5 .6 .5 .7 .5 .5 .5 .6 .5-.4 .5-.7 .5 .2 .5 .2 .5-.8 .5-1.2 .5 .5 .5 2.5 .5 .8 .5-.8 .5-.4 .5-.8 .5-1.1 .5-.1 .5 0 .5-.4 .5 1 .5 1 .5 0 .5-.6 .5-.2 .5 .4 .5 .4 .5-.8 .5-.7 .5 .2 .5 .7 .5 .6 .5 0 .5-.1 .5 .1 .5-.2 .5-.3 .5 0 .5 .3 .5-.4 .5-1.1 .5-.3 .5 0 .5 .6 .5 1.1 .5 .2 .5-.2 .5 .2 .5 .2 .5-.7 .5-.6 .5 .8 .5-.3 .5-.4 .5 .5 .5 0 .5 .2 .5 0 .5-.5 .5-.7 .5 .1 .5 1.3 .5 1 .5-1.1 .5 0 .5 1.2 .5-.2 .5 .2 .5-.5 .5-.5 .5-.8 .5-.8 .5 .1 .5-.4 .5 .2 .5 1.2 .5 .9 .5-.1 .5-.7 .5-.4 .5-.2 .5 .2 .5 .2 .5-.6 .5 .3 .5 .5 .5 .5 .5 .5 .5-.3 .5-.5 .5 .4 .5 .4 .5-.5 .5-.3 .5-.3 .5-.2 .5 .5 .5 .5 .5-.2 .5-.1 .5 .3 .5 .8 .5 .7 .5-.7 .5-1 .5-.4 .5-.5 .5-.9 .5 1 .5 .5 .5 .6 .5 1 .5 .1 .5-1.4 .5-.6 .5 .2 .5-.4 .5 .2 .5-.1 .5-.8 .5 .4 .5 .7 .5 .9 .5 .6 .5-1.2 .5-.5 .5 1.1 .5 .2 .5-1.9 .5-.1 .5 .9 .5 .1 .5 .3 .5 .2 .5-.5 .5-.6 .5-.2 .5 0 .5-.2 .5-.5 .5 .6 .5 .7 .5-.9 .5-.1 .5 1.2 .5-.1 .5-.4 .5-1 .5-1.1 .5 1.7 .5 1.7 .5-.6 .5-1.1 .5 .7 .5 1.4 .5-.6 .5-1.5 .5 .4 .5 .2 .5-.1 .5 .4 .5 .1 .5 .1 .5 .4 .5 .2 .5-.2 .5-.6 .5-.7 .5-.6 .5 1.1 .5 .6 .5-.3 .5 .3 .5 .6 .5 .5 .5 .1 .5 .3 .5-.6 .5-1.2 .5 0 .5 1.7 .5 1.1 .5 .3 .5-1.1 .5-1.4 .5-.2 .5 0 .5-.2 .5 .5 .5 .1 .5-.5 .5 .1 .5 .1 .5-.8 .5 .3 .5 .5 .5-.6 .5-.3 .5 1.4 .5 .6 .5-1.9 .5-1.9 .5-.8 .5 .3 .5 1.2 .5 .7 .5-.2 .5-.2 .5-.5 .5-.5 .5-.3 .5-.2 .5 0 .5-.7 .5-.4 .5 1.2 .5 .2 .5-.2 .5-.3 .5-1.4 .5-.3 .5 0 .5 1.1 .5 1.9 .5-.9 .5-1.6 .5-.7 .5 0 .5 .8 .5 1.3 .5 1.1 .5-.5 .5-2.1 .5-1.8 .5 .8 .5 1.5 .5 1.1 .5 1.1 .5 .7 .5-1.6 .5-1.6 .5-.3 .5 .2 .5 0 .5-.2 .5 .7 .5 .8 .5 .5 .5-.1 .5-.5 .5-.6 .5-.7 .5-.1 .5 .8 .5 1 .5 .9 .5 .3 .5-.7 .5-1 .5-.2 .5-.1 .5 .4 .5 .7 .5 1.1 .5-.2 .5-1.6 .5-.3 .5 .6 .5-.2 .5 .9 .5 1.1 .5-.7 .5-.5 .5-.8 .5-1.1 .5 1 .5 1.3 .5 .5 .5 1.2 .5 .3 .5-2.2 .5-1.1 .5 .4 .5 .5 .5 .6 .5 .8 .5 .8 .5-.9 .5-.9 .5-.5 .5-.1 .5 .1 .5-.4 .5 .2 .5 .2 .5 .5 .5 .1 .5 1.1 .5 .5 .5-.5 .5-.5 .5-.8 .5-.7 .5 .5 .5 1 .5-.7 .5-.5 .5 .8 .5 .4 .5 .1 .5 .4 .5 0 .5-1.1 .5-.8 .5 1.7 .5 1.6 .5-.1 .5-1.6 .5-.5 .5 .6 .5 .2 .5-.7 .5-.1 .5 .5 .5-.1 .5-.2 .5 0 .5 .5 .5 .4 .5-.3 .5-1.2 .5 0 .5 1.7 .5 .8 .5-1.1 .5-1.2 .5 .4 .5 .5 .5 .3 .5-.4 .5-.2 .5 0 .5-.1 .5 1.1 .5 0 .5-.9 .5-.4 .5 .1 .5-.4 .5 .4 .5 1.3 .5-.5 .5-1.1 .5 .2 .5 1 .5-.1 .5-.6 .5-.1 .5 .4 .5 .5 .5 .4 .5-.9 .5-.9 .5-.3 .5-.3 .5 1 .5 1.9 .5 .7 .5-1.6 .5-1.5 .5 .3 .5-.1 .5-1.1 .5 .5 .5 1.2 .5-.3 .5-.9 .5 .6 .5 .4 .5 .6 .5 .4 .5 .5 .5 .2 .5-.3 .5-.4 .5-.4 .5-.7 .5 0 .5 .7 .5 .7 .5 .1 .5 0 .5 .1 .5-.2 .5-.2 .5 .2 .5-.2 .5-.6 .5 .2 .5 1.1 .5-.1 .5-.3 .5 .6 .5 .3 .5 .3 .5 .1 .5-.8 .5-1.4 .5 .6 .5 .9 .5-.3 .5-1 .5-.6 .5 .4 .5 .8 .5 .3 .5-.1 .5-.4 .5-.7 .5-.5 .5 .2 .5 .2 .5 0 .5-.2 .5 0 .5-.3 .5-.8 .5-.1 .5 1.2 .5 .7 .5 .4 .5 .2 .5-1.1 .5-.8 .5-.2 .5-.1 .5 .8 .5 1.1 .5-.1 .5 .5 .5 1.5 .5-.8 .5-.6 .5 1.1 .5-.7 .5-.2 .5 .1 .5-.2 .5 .6 .5 .5 .5-.1 .5 .5 .5 .2 .5-.6 .5-.2 .5 .4 .5 1.1 .5 .8 .5-1.2 .5-1.4 .5 .3 .5 .5 .5-.4 .5-.5 .5 0 .5-.6 .5-.3 .5-.5 .5-.6 .5 .5 .5 .6 .5 0 .5-1.2 .5-1 .5 .5 .5 .3 .5-.3 .5 .3 .5 .1 .5-.1 .5-.3 .5-.6 .5-.1 .5 .6 .5-.6 .5-1 .5 .9 .5 1.1 .5-.7 .5-1.1 .5 0 .5 1 .5 .5 .5-1.2 .5-.4 .5 .4 .5 .6 .5 .6 .5 .1 .5-.8 .5-.7 .5 .3 .5 0 .5-.6 .5-.9 .5-.9 .5 .6 .5 2 .5 .6 .5-.6 .5-.1 .5-.7 .5-.3 .5 .9 .5 .6 .5 .5 .5 .6 .5-1.1 .5-1.2 .5-.2 .5 .9 .5 1.2 .5 .4 .5 0 .5-.8 .5-.4 .5 .7 .5 1.3 .5 .7 .5-.9 .5-.8 .5 .7 .5 1 .5 .1 .5 .1 .5-.6 .5-.3 .5 .3 .5 0 .5-.9 .5-.5 .5 .2 .5 .2 .5 .3 .5 0 .5-.7 .5-.1 .5 .8 .5 .4 .5-1.7 .5-1.7 .5 .3 .5 .7 .5 .4 .5-.3 .5 .1 .5 .8 .5-.6 .5-.5 .5-.5 .5-.2 .5 1 .5 .8 .5-.7 .5-.7 .5 .3 .5 0 .5-.2 .5 .1 .5 .3 .5-.4 .5-.5 .5 .8 .5 1 .5-1.2 .5-1.4 .5 .3 .5 1.4 .5-.3 .5-1.2 .5 0 .5 1.5 .5 .5 .5-1.9 .5-.9 .5 .1 .5 .2 .5 .4 .5 .3 .5 .3 .5 .4 .5 .1 .5-1.4 .5-1.2 .5 .3 .5 .6 .5 .3 .5 .3 .5 .2 .5-.4 .5-1 .5 1.5 .5 1.6 .5-.1 .5-1.4 .5-1.4 .5-.6 .5 .4 .5 .3 .5-.6 .5 .1 .5 1.1 .5 .9 .5-.3 .5-.6 .5 .2 .5 .7 .5 .3 .5-.1 .5 .1 .5-.8 .5-.5 .5 .6 .5-.2 .5-.8 .5 1 .5 1 .5-.8 .5-.8 .5 .8 .5 .1 .5 .2 .5 .7 .5 0 .5-.9 .5-.1 .5 .6 .5 .1 .5 .7 .5-.3 .5-.8 .5-.1"/><path d="M39.5 271.1l.5 1.8 .5 3.8 .5 1.7 .5-3.5 .5-2.1 .5 1.3 .5 .4 .5-.3 .5 .2 .5 .2 .5-.8 .5-.6 .5 .1 .5-.5 .5-.7 .5 1.7 .5 1.7 .5-1 .5 1.5 .5 2.9 .5-2.7 .5-1.9 .5 1.6 .5 2.1 .5-3.2 .5-4.3 .5 1.6 .5 2.5 .5 1.2 .5 1 .5 .3 .5-1.3 .5-1.1 .5 .9 .5 1.7 .5 2.3 .5-.6 .5-2.3 .5-1.1 .5 1.4 .5 1.9 .5-2.1 .5-1.8 .5 1.2 .5 .2 .5-1.8 .5 1.2 .5 2.2 .5-1.7 .5-3.2 .5-1 .5 2.4 .5 2.3 .5-.4 .5-2.2 .5-2.1 .5 0 .5 1.3 .5 1.1 .5 1.3 .5-1.6 .5-3.6 .5-2.7 .5 1 .5 1.1 .5-.6 .5 .9 .5 1.1 .5-.4 .5-.7 .5 .2 .5 .8 .5-.5 .5-2.3 .5-.3 .5 .3 .5 .2 .5-.8 .5 .2 .5 2.3 .5-.8 .5-3.3 .5-.8 .5 2.1 .5 2.3 .5 1.5 .5-1.5 .5-.7 .5 1.1 .5-2.3 .5-3.5 .5 1.5 .5 3.5 .5 4.4 .5 1.5 .5-5.2 .5-2.2 .5 .5 .5 0 .5-.7 .5 1.3 .5-.5 .5-1.6 .5 .2 .5 .3 .5-.7 .5 2 .5 1.3 .5-.2 .5-1.3 .5-.6 .5 .3 .5 1.3 .5 1.1 .5-.7 .5-.8 .5-1.1 .5-2.2 .5 1 .5 3 .5 1.6 .5-2.1 .5-1.1 .5-.6 .5 .8 .5 2.8 .5 1.5 .5-.9 .5-1.6 .5-1.3 .5-.6 .5-.8 .5 .3 .5 1.1 .5 .6 .5 1.3 .5 1.4 .5-1.3 .5-3.1 .5-1.8 .5 1.8 .5 .7 .5-1.3 .5 .4 .5 .9 .5-1.2 .5 .8 .5 3.3 .5 .1 .5-2.3 .5-3.8 .5-.3 .5 2.3 .5 3.2 .5 1 .5-1.2 .5-.8 .5-.8 .5-.4 .5-1.1 .5-.9 .5 2 .5 2.7 .5 .9 .5-2.2 .5-3.4 .5-1.2 .5 2.5 .5 .4 .5 0 .5 1.1 .5-.8 .5-.8 .5 .7 .5-.1 .5-1.3 .5-1.2 .5 .7 .5 1.8 .5 3.1 .5 1.4 .5-3.9 .5-3 .5 3.9 .5 3.1 .5-1.8 .5-2.7 .5-2.5 .5 .7 .5 4.7 .5 3.5 .5-2.7 .5-2.4 .5-.5 .5-.6 .5 1.2 .5 2.2 .5 .1 .5-2.1 .5-1.7 .5-.3 .5 .9 .5 1.4 .5 .4 .5 0 .5 .9 .5-.6 .5 .1 .5 .1 .5-2.8 .5-2.6 .5 4.4 .5 4.6 .5-1.3 .5-2.1 .5-1.4 .5 .8 .5 .1 .5-2.3 .5-2.2 .5 2.4 .5 1.9 .5-.2 .5 .6 .5 0 .5-.8 .5-.1 .5 .5 .5 .9 .5 1.2 .5 1 .5-1 .5-.9 .5-.9 .5-1.3 .5-.8 .5 1.6 .5 2.8 .5 .4 .5-2 .5 .1 .5 1.6 .5 2.2 .5 .8 .5-1.9 .5-2.4 .5 .9 .5 .9 .5-1.9 .5-.6 .5 2.1 .5 .7 .5-1.4 .5-1.3 .5-.7 .5 0 .5 2 .5 .1 .5-1 .5-.9 .5-.1 .5 2.1 .5 3.3 .5 1 .5-4.9 .5-3.1 .5 .9 .5 1.6 .5 0 .5-.6 .5 1.1 .5 .2 .5-1.8 .5-1 .5-.7 .5 1.8 .5 2.9 .5 1.6 .5-.5 .5-1 .5-.2 .5-.9 .5-1.1 .5 .1 .5 1 .5 1.3 .5 1.4 .5 2 .5-1.5 .5-1.9 .5 0 .5-.3 .5-.6 .5 1.8 .5 1 .5-2.3 .5-2.8 .5-.6 .5 .6 .5 1.8 .5 2.7 .5-.4 .5-.7 .5-2 .5-.9 .5 1 .5 .5 .5 .6 .5 2.3 .5-1.1 .5-2.6 .5 .6 .5-.2 .5-1.3 .5 3.4 .5 1.4 .5 .3 .5 .2 .5-1.1 .5-.4 .5-1.4 .5-3.1 .5 2.2 .5 3.1 .5 .5 .5-1.5 .5-2.1 .5-.3 .5-.5 .5 .2 .5 1.8 .5 .5 .5-1.4 .5 1.1 .5-.8 .5-1.6 .5 0 .5-1 .5 .8 .5 1.8 .5 .4 .5-.1 .5-.4 .5 .1 .5-1.5 .5-1.5 .5 .8 .5 0 .5-.8 .5 1.2 .5 1.4 .5-.7 .5-1.3 .5-.1 .5 2 .5 1.9 .5 .9 .5 .9 .5-.7 .5-.5 .5 1.2 .5-.6 .5-1.1 .5-.8 .5-1.8 .5-1.4 .5 1.4 .5-.1 .5 .1 .5 1.9 .5-.3 .5-1.3 .5-.7 .5-1 .5 .6 .5 .9 .5 1.5 .5 .8 .5-.7 .5-.8 .5-.5 .5-1.3 .5 .3 .5 1.9 .5 1.3 .5 1.1 .5 .7 .5 .1 .5 .3 .5 1 .5 .4 .5 .1 .5 1.3 .5 1.3 .5 .7 .5-.3 .5-.7 .5-.3 .5-.3 .5-1.6 .5 1.1 .5 2.2 .5-.8 .5-1.3 .5-1 .5-.8 .5-.2 .5 1.3 .5 1.5 .5 .2 .5-.9 .5-1.3 .5-1 .5-.7 .5-.3 .5-.6 .5-1.1 .5-1.1 .5 0 .5 1.5 .5 1.8 .5 2.4 .5 2.5 .5 .2 .5-.8 .5-.5 .5-1.7 .5-1.2 .5-.3 .5-1.2 .5-.9 .5-.1 .5-1.1 .5-2.4 .5-.9 .5 1.8 .5 .7 .5-1.7 .5-1 .5 .4 .5-.6 .5-1.4 .5-.3 .5 1.4 .5 1.1 .5 1.4 .5-.1 .5-2.4 .5 .3 .5 .9 .5-.5 .5-.6 .5-1.5 .5-.2 .5 1.4 .5-.4 .5-1.9 .5-2 .5-1.2 .5 .7 .5 1.6 .5 .9 .5 0 .5-.4 .5-.8 .5-.2 .5-.4 .5 0 .5 1.8 .5 1.6 .5-.2 .5-.7 .5 .1 .5 .4 .5 .2 .5-.7 .5-.9 .5-.9 .5-.7 .5-.5 .5 .3 .5 .2 .5-.1 .5-.7 .5-.8 .5 .5 .5 2.9 .5 1.1 .5-1 .5-1.9 .5-.9 .5 .4 .5-.8 .5-.8 .5-.1 .5 1.2 .5 1.5 .5 1.1 .5 .2 .5-.4 .5-.7 .5-2.2 .5 0 .5 2.7 .5 2 .5 .3 .5 .1 .5 .3 .5-1.1 .5 .3 .5-.3 .5 .2 .5 1.1 .5-.3 .5-1.2 .5-.9 .5-.7 .5 0 .5 2.1 .5 1.1 .5-1.9 .5-1 .5 .6 .5 1.2 .5-.4 .5-.9 .5-.2 .5 0 .5 .8 .5 1.6 .5 .5 .5-1.2 .5-.8 .5 .3 .5-1.2 .5-.6 .5 1 .5 .5 .5 1.1 .5 1 .5 .5 .5-1.6 .5-.6 .5 .9 .5 .8 .5-.4 .5-1.4 .5-1 .5 2 .5 1.1 .5-.5 .5 .3 .5 .2 .5-2.4 .5-1.2 .5 2.8 .5-.7 .5-.6 .5 3 .5 2.2 .5-2.5 .5-2.5 .5-.3 .5 .6 .5-.6 .5-.9 .5-1 .5 0 .5 1.9 .5 1.2 .5-.2 .5-.1 .5 3 .5 1.6 .5-4.1 .5-3.4 .5 1.5 .5 1.3 .5 .1 .5 2.4 .5 .1 .5-2 .5-.2 .5 1.1 .5 2.7 .5-.1 .5-1.1 .5-.8 .5 .2 .5 1.9 .5-.2 .5-.1 .5 1.4 .5 .9 .5 1 .5 1.5 .5 .4 .5-.4 .5-.8 .5-.4 .5 .6 .5 .1 .5-.7 .5-.8 .5-1.1 .5 .2 .5 2.3 .5-.1 .5-4 .5-.1 .5 .9 .5-.4 .5-.3 .5-1 .5-.6 .5 1.1 .5 2.3 .5 1.9 .5-1.3 .5-2 .5-.8 .5-.4 .5-.7 .5 .3 .5 .2 .5-.8 .5-.1 .5 1.3 .5 .3 .5 .6 .5 .2 .5-1.9 .5-2.7 .5 1.2 .5 1 .5-1.3 .5 .1 .5 .4 .5-.1 .5 .3 .5 1.2 .5 .7 .5-.2 .5-.5 .5-1 .5 .1 .5 .7 .5-1.7 .5-1.2 .5 3.4 .5 2.6 .5-2.4 .5-1.7 .5-.8 .5-1.4 .5-1.6 .5-1 .5 3.8 .5 3.1 .5-1.1 .5-2.5 .5 .9 .5 2.4 .5-.2 .5-3.2 .5-2 .5 1 .5-1 .5-.5 .5 4.6 .5 4.6 .5 .3 .5-5.3 .5-2 .5-.8 .5 1.2 .5 .7 .5 .1 .5-.3 .5-.3 .5 0 .5-.5 .5-1.3 .5 .3 .5 1.2 .5 3.3 .5 2.7 .5-2.9 .5-2.2 .5 .4 .5-.3 .5-.1 .5 0 .5-.4 .5 .2 .5 1.7 .5 1 .5-2.4 .5-.2 .5 1.8 .5 0 .5-1.5 .5-2 .5 .9 .5 2 .5 .7 .5-1.4 .5-1.2 .5 .6 .5 .3 .5-.7 .5-.4 .5 .3 .5 .7 .5 0 .5-.7 .5-.7 .5 1.8 .5 .7 .5-1.1 .5-1.3 .5-1.6 .5-1.4 .5 2.9 .5 3.8 .5-.8 .5-2.1 .5-1.8 .5-1.9 .5-.6 .5 2.4 .5 2.2 .5 .7 .5-.3 .5-1.3 .5 .2 .5-.5 .5-2.2 .5-.4 .5 3.5 .5 2 .5-3 .5-3.1 .5 1.8 .5 1.2 .5 .9 .5 .7 .5-1.7 .5-1.6 .5 .2 .5 1.8 .5 1.3 .5-.4 .5-1.8 .5 .4 .5 1.7 .5 3.2 .5 3.5 .5-4.1 .5-4.1 .5 .8 .5 2.6 .5 .9 .5-.3 .5-1.4 .5-1.3 .5 .7 .5 .4 .5 1.3 .5 1.4 .5 .5 .5-.5 .5-.5 .5 .4 .5 .2 .5-.2 .5 2.5 .5 .9 .5-2.6 .5-2.6 .5-1.7 .5 3.4 .5 1.4 .5-.9 .5-1.5 .5-.4 .5 .5 .5 2.8 .5 1.7 .5-1.7 .5-1.2 .5 1.1 .5 1.1 .5-1.9 .5-.8 .5 1.5 .5-2 .5-3.1 .5 2 .5 2.4 .5 .4 .5-.1 .5 0 .5-.4 .5-.4 .5-.2 .5 0 .5 .2 .5 .3 .5-.9 .5-1.3 .5 .8 .5 1.3 .5 1.7 .5 1.2 .5-.5 .5-1.3 .5-.9 .5 1 .5 .3 .5 1.5 .5 1.1 .5-1.9 .5-2.7 .5 .8 .5 .2 .5-1.2 .5 .2 .5 1 .5-.1 .5-.9 .5-.7 .5 1.9 .5 2.2 .5-.6 .5-1.6 .5-1.3 .5 .7 .5 1.3 .5-.1 .5-3.6 .5-3 .5 4.7 .5 1.8 .5-.8 .5-.7 .5-.2 .5-2.5 .5-3.2 .5 2.3 .5 3.9 .5 2.6 .5 1.3 .5-2.8 .5-3.1 .5-1.2 .5 .6 .5 .8 .5 .7 .5-.2 .5-.6 .5-.7 .5-1.3 .5-1.5 .5 .8 .5 2.8 .5 2.5 .5-1.5 .5-2.3 .5 .1 .5-1.2 .5-.5 .5 1.9 .5 .5 .5-4.6 .5-.4 .5 2.1 .5 .4 .5-.8 .5 .3 .5 .6 .5 1.6 .5 1.6 .5-2 .5-.5 .5 .5 .5-.4 .5-.3 .5 .6 .5 .5 .5 .3 .5-.1 .5-1.7 .5-1.9 .5 1.2 .5 1.6 .5-.6 .5 .4 .5-1 .5-.7 .5 .4 .5 3 .5 3.7 .5-1.3 .5-1.4 .5-2 .5-2.2 .5-.8 .5-.7 .5 2.7 .5 2.4 .5 .6 .5 0 .5-.1 .5-1.6 .5-1.4 .5 .5 .5 .8 .5-.3 .5 .8 .5 .1 .5-.8 .5-1.1 .5-1 .5 .3 .5 1.5 .5 1 .5 .1 .5-1 .5-2.1 .5 0 .5 3.9 .5 2.4 .5-2 .5-2.1 .5-.6 .5 .1 .5 1.4 .5 1.9 .5 .4 .5-2.2 .5-1.7 .5-.6 .5 1.1 .5 2 .5 0 .5-3.1 .5-2.2 .5 2.2 .5 2.9 .5-1 .5-1.6 .5-.5 .5 0 .5 .8 .5 2.3 .5-.5 .5-2.2 .5 .6 .5 .8 .5 .8 .5 .6 .5-1.3 .5-3.2 .5-.7 .5 3.3 .5 4.1 .5-.1 .5-3.1 .5-2.3 .5 1.2 .5 2.9 .5-.3 .5-.7 .5 .6 .5 .3 .5-.9 .5-.2 .5-.2 .5-2.7 .5-2.6 .5 3.2 .5 3.5 .5-.4 .5-1.9 .5-.7 .5 .4 .5 .8 .5 1.3 .5-1.7 .5-1.8 .5 1.4 .5 2.1 .5-.5 .5-1 .5-.5 .5 .2 .5 .4 .5-.1 .5 .1 .5 0 .5-.3 .5-.1 .5-.8 .5-.4 .5 1.4 .5 2.4 .5-.9 .5-1.9 .5-.3 .5 0 .5-1.1 .5-1.1 .5 2 .5 3.4 .5 1.2 .5-3.1 .5-2 .5 1.8 .5 1 .5-.3 .5-.8 .5 .2 .5 .1 .5-.5 .5-.3 .5-1.3 .5 .5 .5 2.9 .5 2.4 .5 1.2 .5-1 .5-2.6 .5-.6 .5-.2 .5 .4 .5 .6 .5-.3 .5-.1 .5 1.4 .5-.8 .5-1.8 .5 1.8 .5 .4 .5-.5 .5 .4 .5-.8 .5 .4 .5 .7 .5 .5 .5-1.1 .5-1.7 .5-.8 .5 1.9 .5 .7 .5-1 .5-.7 .5 .1 .5 0 .5 .1 .5 .8 .5 .2 .5-.8 .5-.6 .5 .3 .5 .9 .5-.4 .5-2.2 .5-1 .5 1.2 .5 2.9 .5-.2 .5-2 .5-.6 .5 2.8 .5 2.1 .5-4.2 .5-.3 .5 .9 .5 .1 .5-.7 .5-.4 .5-1.3 .5 0 .5 2.5 .5 2.5 .5-.8 .5-.9 .5 .7 .5-.2 .5-1 .5-.1 .5 1.9 .5 2.6 .5 1 .5-1.1 .5-3.4 .5-.2 .5 1.4 .5 2.3 .5 2.3 .5-.5 .5-1.7 .5-.2 .5-.8 .5-3.5 .5-3.4 .5 4.5 .5 5.2 .5-1.6 .5-3.8 .5-1.8 .5 1.3 .5 .9 .5-.2 .5-.3 .5-1.9 .5-3.1 .5-.4 .5 1.4 .5 1.1 .5 .3 .5-.8 .5-.4 .5 0 .5-.1 .5 1.3 .5 .5 .5-.3 .5 .4 .5 .5 .5-.5 .5-1.8 .5-1.2 .5 .4 .5 1.5 .5 .1 .5 .1 .5 .3 .5-.9 .5-.7 .5 .6 .5-.8 .5 1 .5 .8 .5-1 .5-1.5 .5-1.1 .5-.2 .5 1 .5 1.2 .5 2.2 .5 .7 .5-3.5 .5-2.8 .5 1.6 .5 2.8 .5 .8 .5-1.3 .5 0 .5-1.8 .5-.5 .5 .5 .5 .3 .5 1.7 .5 2.2 .5-.8 .5-1.4 .5 2 .5 1.9 .5-2.6 .5-3.2 .5-.9 .5 1.4 .5 .6 .5-.3 .5 .1 .5 1.2 .5 2.2 .5 .1 .5-2.6 .5-.8 .5 1.3 .5-1 .5-.3 .5 1.4 .5 1.2 .5 .8 .5-1.4 .5-1.7 .5 .4 .5 1.7 .5 0 .5-1.6 .5-1.3 .5-.5 .5 1.7 .5 3.1 .5 1.3 .5-2.6 .5-4.2 .5 .7 .5 4.2 .5 1.4 .5-.7 .5-.6 .5 .3 .5 0 .5-2.8 .5-1.3 .5 2 .5 .4 .5-.9 .5 .6 .5 1.2 .5 1.6 .5 .8 .5-1.5 .5 0 .5-1.8 .5-2.8 .5-.2 .5 .5 .5 4 .5 5.3 .5-2.8 .5-3.8 .5-.5 .5-.2 .5-1.3 .5 .8 .5 2.2 .5 1.4 .5 0 .5-3.3 .5-2.4 .5 2.5 .5 2.8 .5-.3 .5-2.4 .5-.9 .5 .3 .5 .5 .5 3 .5 .3 .5-1.5 .5-1.5 .5-1.1 .5-.5 .5-1 .5 1.1 .5-1.3 .5 0 .5 2.5 .5 2 .5 0 .5-2.7 .5-1.4 .5 1.2 .5 1.4 .5-.7 .5-1.3 .5-.6 .5 .6 .5 .4 .5-.7 .5 .6 .5 1.6 .5-.5 .5-3.6 .5-1.5 .5 4.5 .5 2.2 .5-3.6 .5-1 .5 .6 .5 1.3 .5-.9 .5-.6 .5 1.8 .5 2.2 .5 .2 .5-.8 .5-1 .5 .1 .5 .6 .5-.6 .5-1.2 .5 .7 .5 1 .5-.5"/><path d="M39.5 291.9l.5 .9 .5-1 .5-3.4 .5-1.9 .5 2.1 .5 3 .5 1.2 .5-1 .5-1.3 .5-1 .5 1.1 .5 3.1 .5 0 .5-1.3 .5-.9 .5-1.5 .5-.8 .5 2.2 .5 .9 .5-1.8 .5-1.4 .5 2 .5 3.3 .5 .3 .5-3.4 .5-1.8 .5 .1 .5 1.1 .5 1.3 .5 3.3 .5 3.6 .5-1.8 .5-5.3 .5-1.4 .5 2.6 .5 2 .5 0 .5-2.1 .5-2.2 .5 1.2 .5-.1 .5-1.2 .5 .3 .5 2.4 .5 1 .5-1.8 .5-.2 .5 1.4 .5-.6 .5-2.3 .5 .4 .5 4.1 .5-2.1 .5-3.8 .5-.2 .5-.1 .5 .4 .5 2.8 .5 1 .5-.3 .5-2.9 .5-2.3 .5 .8 .5 1.3 .5 .8 .5 2.6 .5-2.3 .5-3.8 .5 .5 .5-.4 .5-2.2 .5 1.5 .5 2.6 .5 2.5 .5 1.3 .5-3.8 .5-2.5 .5-.7 .5-.1 .5 .2 .5 .2 .5 .7 .5 .2 .5-.5 .5-.4 .5-.6 .5 .3 .5 .8 .5-.8 .5-.8 .5-.1 .5 .3 .5 1.5 .5 2.6 .5-.2 .5-2.5 .5 0 .5 1.7 .5-.3 .5 0 .5 .9 .5 .1 .5-.3 .5-.2 .5-2.9 .5-1.8 .5 2.5 .5 2.4 .5 .8 .5 .4 .5-.2 .5-.6 .5-1.4 .5-1 .5-1.3 .5-.5 .5 .4 .5-.3 .5-.3 .5 .9 .5 .5 .5 .7 .5 1.1 .5-1.7 .5-4.4 .5 .6 .5 1.5 .5 1.1 .5-1.2 .5-.2 .5 2.8 .5 1 .5-.3 .5 .2 .5-.5 .5-.4 .5-1.5 .5-2.4 .5-.6 .5 3.3 .5-.8 .5-3.3 .5 1.7 .5 3 .5 .1 .5 .3 .5 .8 .5-1.4 .5 1.7 .5 3.8 .5 .1 .5-.4 .5-1 .5-6.5 .5-3.8 .5 6.5 .5 7.8 .5-.2 .5-6 .5-2.7 .5-.9 .5 1.4 .5 3 .5 .4 .5-1.9 .5-.8 .5 1 .5 1.1 .5-2.1 .5-1.7 .5 1.3 .5 3.8 .5 3.1 .5-2.8 .5-2.9 .5-.6 .5 .8 .5-.9 .5-.7 .5 .7 .5 1 .5 .5 .5-.8 .5 .3 .5 2 .5 .6 .5-3.9 .5-1 .5 1.9 .5 .2 .5 1.7 .5 2.9 .5 0 .5-3.5 .5-.7 .5 2.2 .5 0 .5-1.8 .5-.5 .5 .2 .5-.5 .5-.2 .5 2.5 .5 1.3 .5-1.1 .5-3 .5-1.1 .5 .1 .5 .9 .5 1.7 .5 .6 .5-1.4 .5-.5 .5 1.4 .5 .9 .5 0 .5-1.2 .5-.7 .5 2.6 .5 1.6 .5-1.6 .5-2.2 .5-1.2 .5 0 .5 2.2 .5 .2 .5-2.3 .5-3.3 .5 .2 .5 3.6 .5 4 .5 1.6 .5-3.4 .5-2.5 .5 2.8 .5 1.7 .5-1.6 .5-.8 .5 .4 .5 .5 .5-1.2 .5-1.6 .5-.2 .5 1.7 .5 1 .5 .3 .5-2 .5-1.4 .5 1.5 .5 .2 .5-1.5 .5 .7 .5 2.7 .5 2.4 .5 .4 .5-1 .5-2 .5-2.4 .5-4.3 .5-1.3 .5 4.3 .5 3.2 .5 2.1 .5 1.6 .5-3.4 .5-2 .5 1.5 .5 1.1 .5-1.4 .5-2.1 .5-1.2 .5-.3 .5-.2 .5 .4 .5 2.8 .5 3.5 .5 .1 .5-2.4 .5-1.1 .5-.8 .5 1.4 .5 .9 .5 .5 .5 1.6 .5 .2 .5-2.6 .5-4.6 .5-.3 .5 3.7 .5 1 .5-.9 .5-.6 .5 2 .5 0 .5-3.8 .5 .9 .5 1.6 .5-1.5 .5-.1 .5 .1 .5-.5 .5 2.1 .5 .4 .5-1.6 .5 1.4 .5 1.8 .5-.3 .5 .3 .5 1.4 .5-2.5 .5-3.5 .5-.5 .5 2.8 .5 .9 .5-.3 .5-.7 .5-.6 .5 .1 .5 .2 .5-.6 .5-.5 .5 .4 .5 .4 .5 .3 .5-.2 .5-.7 .5-.1 .5 .4 .5 .6 .5 .8 .5 1.2 .5-1.3 .5-3.2 .5-.4 .5 1.9 .5 .8 .5-1.6 .5 .5 .5 1.7 .5 0 .5-.4 .5-.4 .5 .5 .5 1.3 .5-1.7 .5 .3 .5 .3 .5-2.8 .5-1 .5 1.8 .5 1.1 .5-.2 .5 .9 .5 .5 .5 .3 .5 .7 .5 1.1 .5 1.8 .5 1.9 .5-1.3 .5-2.4 .5 .3 .5 1 .5-.9 .5-2.1 .5-.7 .5-.2 .5 .6 .5 .5 .5 0 .5-.3 .5-.5 .5-.6 .5-1.9 .5-2.2 .5 1.4 .5 2.4 .5 .8 .5 .6 .5 .5 .5-.1 .5 1.1 .5 1.7 .5-.6 .5-.7 .5 .4 .5 1.4 .5 2 .5 1.1 .5 .4 .5 1 .5 1.4 .5 .8 .5-.5 .5-.3 .5-.1 .5-.9 .5-.6 .5-.8 .5-2.3 .5-1.2 .5 .6 .5 2.2 .5 2 .5-.2 .5 0 .5 .2 .5-2.2 .5-2 .5-.8 .5-.8 .5 2.8 .5 1.6 .5 .5 .5-.5 .5-.4 .5 3.3 .5 2.4 .5-.2 .5-3.1 .5-4.2 .5-2.8 .5 .2 .5 1.3 .5 .9 .5 1.7 .5 .8 .5-1.6 .5-3.7 .5-3 .5-1.7 .5 .4 .5 1.2 .5 1.3 .5 1.5 .5 .6 .5 .1 .5 .8 .5-1.2 .5-1.8 .5-.9 .5-1.3 .5-1.5 .5-.3 .5 .8 .5 .8 .5 2.7 .5 2.8 .5 .1 .5-.7 .5-1.1 .5-2 .5-1.7 .5 1.2 .5 1.1 .5 .5 .5-1.6 .5-2.3 .5-.6 .5-.2 .5-.4 .5 .3 .5-.6 .5 .3 .5 1.2 .5 .1 .5-1.3 .5-1.7 .5 .6 .5 .2 .5 1.2 .5 .6 .5-.5 .5 1 .5 .8 .5-.5 .5-1.2 .5 .1 .5-.5 .5 0 .5 .8 .5-2.3 .5-2.6 .5-.5 .5 1.5 .5 .2 .5-1.4 .5 .2 .5 2.7 .5 2.5 .5 1.1 .5 .5 .5 1.1 .5 .3 .5-1.2 .5-1.6 .5 .1 .5 .4 .5 1.5 .5 2.8 .5-.8 .5-3.6 .5-3.1 .5-1.6 .5 1.9 .5 .7 .5-2.4 .5-1.9 .5 3 .5 5.6 .5 1 .5-2.6 .5-1 .5 1 .5-.6 .5-3 .5-1.5 .5 3.4 .5 1.1 .5-.5 .5 .5 .5 .9 .5 .1 .5-1 .5-1 .5 .4 .5 1.5 .5 2.4 .5 .8 .5-.8 .5-.6 .5 1 .5-.7 .5-1.1 .5 1.6 .5 .8 .5-3.1 .5-.2 .5 1 .5 0 .5 1.1 .5-.5 .5 .6 .5 1.4 .5-2.4 .5-1.1 .5 1.3 .5 .1 .5-2 .5-1.2 .5 1 .5 1.8 .5 .3 .5-1.7 .5-.4 .5 .7 .5-.5 .5-2 .5 .6 .5 1.2 .5 1.4 .5-.1 .5-.8 .5 .3 .5 .4 .5-3.7 .5-3.5 .5 3 .5 4 .5 1.8 .5-1.1 .5-.3 .5 .2 .5-1.2 .5-.4 .5 .4 .5 1.8 .5 .8 .5-1.5 .5-.1 .5 1.1 .5 1.7 .5 .8 .5-2.5 .5-2.2 .5 .5 .5 1.4 .5 .1 .5 1.4 .5 2.4 .5 2.6 .5 3.9 .5 1.5 .5-2.3 .5-1.8 .5-.5 .5-.4 .5-.4 .5-.2 .5-2.1 .5-.2 .5 3.7 .5 1.2 .5-1 .5-2.8 .5-2.1 .5 2.5 .5 .5 .5-1.3 .5-1 .5-.1 .5 1.8 .5 .2 .5-.5 .5-.3 .5-1.6 .5 .9 .5 2 .5-1.7 .5-2.6 .5-.5 .5-.9 .5-1 .5 1.6 .5 .8 .5 .2 .5-1.4 .5-1.1 .5 2.3 .5-.7 .5-2.6 .5 .9 .5 1.6 .5-.1 .5-.1 .5 1 .5 .4 .5-.5 .5 1.4 .5 .4 .5-3.4 .5-1.2 .5 .6 .5-.3 .5 1.8 .5 2.1 .5 .5 .5 .9 .5-1 .5-2.4 .5-1.8 .5-.4 .5 1 .5 .1 .5-1.9 .5-1.4 .5 3.3 .5 .6 .5-1.9 .5 1.6 .5 1.7 .5-1.5 .5-3.3 .5-.2 .5 4.1 .5 2.6 .5 .6 .5-1.8 .5-3.4 .5-1.3 .5 1.2 .5 .4 .5 0 .5-.2 .5-1.8 .5-1.3 .5 2.5 .5 1.8 .5-.1 .5 .8 .5-.7 .5-1.2 .5 .4 .5-.2 .5-.3 .5-.1 .5-.5 .5-.4 .5 .3 .5 .9 .5-1 .5-.7 .5 4.3 .5 3.2 .5-3.2 .5-2.6 .5 1.8 .5 2.2 .5-3 .5-3 .5 .4 .5 2.3 .5 .3 .5-.3 .5 .2 .5 .5 .5-.4 .5-1.6 .5 1.1 .5 .4 .5-1.3 .5-.1 .5 .1 .5 0 .5 .6 .5-.2 .5 .2 .5-.1 .5 .6 .5 2.3 .5-3.1 .5-4.6 .5-.1 .5 2.7 .5 .3 .5 1.9 .5-.6 .5-.7 .5 1 .5 0 .5-.5 .5-1.2 .5-.1 .5 1.5 .5 .3 .5-1.4 .5-1.2 .5 2.3 .5 2 .5 1.1 .5-.8 .5-2.6 .5-2.9 .5-1.1 .5 1.4 .5 2.6 .5 2.2 .5-.6 .5 .2 .5 .6 .5-2.5 .5-1.2 .5 .6 .5 .5 .5 .1 .5-.2 .5-.4 .5 1.8 .5 2.9 .5-.4 .5-3.1 .5-.7 .5 1.7 .5-.3 .5-.4 .5 .2 .5-.2 .5-.4 .5 .6 .5 1.2 .5 .6 .5-.1 .5-.9 .5-1.3 .5 1.8 .5 1.3 .5-1.7 .5-2.4 .5-.2 .5 2.3 .5 1.2 .5-.4 .5 .4 .5 2.4 .5 1.2 .5-.1 .5 .2 .5-2.6 .5-1.3 .5-.2 .5 .4 .5 2.3 .5-1.7 .5-1.5 .5 1.5 .5 2.2 .5-.2 .5-.5 .5-1.1 .5-.4 .5-2.6 .5-2.8 .5 2 .5 4.2 .5 2.2 .5-.5 .5-1.4 .5-2.2 .5-1.3 .5 .2 .5 1 .5 1 .5-.9 .5-2.1 .5-.5 .5 2.6 .5 2.8 .5 .6 .5-1 .5-.9 .5 .1 .5 2.2 .5 2.7 .5-1.6 .5-1.4 .5 .1 .5-1.2 .5-.2 .5 2.5 .5 0 .5-2.5 .5-1 .5 .1 .5-.8 .5 .5 .5 2.4 .5 1.9 .5-1.1 .5-1.9 .5-2.5 .5-2 .5 1.6 .5 3.1 .5 1.6 .5-.6 .5-1.1 .5-3.2 .5-3.3 .5 1.4 .5 1.8 .5-.2 .5-.3 .5 1.9 .5 1.7 .5-1.2 .5-2.2 .5-1.9 .5 .1 .5-1.1 .5-2.5 .5 1.8 .5 3.6 .5 3 .5-1.9 .5-2.5 .5-.2 .5 .5 .5 1 .5-.2 .5 0 .5 1.1 .5 .1 .5-1.5 .5-1.7 .5-.6 .5 3.1 .5 5.6 .5 .4 .5-.8 .5-5.2 .5-4 .5-1.6 .5-1.1 .5 4.1 .5 2.6 .5 .5 .5-.6 .5-1.9 .5 0 .5 1 .5-.3 .5-1.2 .5-1 .5-.3 .5 1.1 .5 .3 .5 1 .5 3.6 .5 4 .5-3.9 .5-1.7 .5 1.7 .5-.6 .5-2.6 .5 .8 .5 .7 .5-3.7 .5-5.2 .5 3.7 .5 4.7 .5 1.9 .5 1.4 .5 .5 .5-2.8 .5-1.9 .5-.6 .5-1.2 .5-.8 .5-1.7 .5 .7 .5 3.3 .5 1.9 .5-.7 .5-.8 .5-.9 .5-.6 .5 1.4 .5 2.6 .5 .2 .5-1.8 .5-6.3 .5-5.6 .5 5.7 .5 6.6 .5 1 .5-.7 .5 .7 .5-.1 .5 .4 .5-.3 .5-2.8 .5-1.2 .5 .5 .5 1.2 .5 1.1 .5 0 .5 1.1 .5 .9 .5-2.1 .5-1.6 .5-.7 .5 .1 .5 3.4 .5 2.7 .5-2 .5-3.3 .5-.7 .5 2 .5-1.4 .5-3.8 .5 2.2 .5 4.8 .5 2.9 .5-1.3 .5-2.1 .5-.3 .5 .2 .5-.5 .5-.1 .5 1.4 .5 2.7 .5-1.4 .5-2.8 .5-2.1 .5-1.4 .5 .6 .5 1.7 .5 1.3 .5 1.8 .5 1.3 .5-2.1 .5-1.1 .5 .3 .5-1 .5 .3 .5 3.2 .5 2 .5-4.2 .5-2.8 .5 1.8 .5 1 .5-.4 .5 2.7 .5 3.5 .5-2.8 .5-2.6 .5-1.7 .5-1.9 .5 1.4 .5 2.3 .5 2.9 .5 .8 .5-1.2 .5-2 .5-2.7 .5 0 .5 .8 .5-.8 .5-.5 .5 .4 .5-1.7 .5-.3 .5 3.1 .5 1.7 .5-.4 .5-2.1 .5-.5 .5 1.4 .5 1.5 .5 .3 .5-.2 .5-1.1 .5-1.6 .5-1.2 .5-.7 .5 1 .5 4 .5-.4 .5-.8 .5 .1 .5-1.5 .5-.5 .5 1.2 .5 2 .5 .1 .5-2.1 .5-2.8 .5-1.1 .5 .4 .5 .1 .5-.4 .5 2.3 .5 2.1 .5 1.3 .5 1.5 .5-1.4 .5-1 .5 .1 .5 .9 .5-.4 .5-.9 .5-.3 .5 0 .5-.9 .5-.9 .5 3.4 .5 4.3 .5-1.4 .5-2.4 .5-3 .5-3.4 .5 1.5 .5 4.1 .5 1.8 .5-.2 .5-1.6 .5-.2 .5 .1 .5-1.7 .5 .2 .5 1.3 .5-1.2 .5 .4 .5 .8 .5-1.9 .5 .6 .5 .2 .5-.8 .5-.2 .5-.5 .5-.4 .5-.3 .5-.5 .5 1.3 .5 2.2 .5 1.4 .5-.7 .5-.8 .5 .5 .5 1.1 .5 1 .5-1.2 .5-2.8 .5 2 .5 5.8 .5 1 .5-2.8 .5-.5 .5 .1 .5-.5 .5 0 .5-.2 .5-.5 .5 2.2 .5 3.8 .5-.1 .5-4.1 .5-3.2 .5-1.3 .5 1.3 .5 2.7 .5 1.8 .5-1.2 .5-2.7 .5-2.2 .5-2.3 .5 .3 .5 2 .5 0 .5-1 .5 1.7 .5-.1 .5 .1 .5 .7 .5 .3 .5-.6 .5-1.6 .5-1.3 .5-.6 .5-.2 .5 1.9 .5 1.1 .5-1.2 .5-1.4 .5-1.2 .5 .1 .5 .4 .5-.1 .5-.8 .5 1.1 .5 5.2 .5 .2 .5-4.1 .5-1.6 .5 0 .5 .2 .5 .6 .5 .3 .5 .8 .5 0 .5-3.3 .5-2.2 .5 2 .5 1.7 .5 1.6 .5-.3 .5-.3 .5 0 .5-.1 .5 1.3 .5 1.9 .5-1.4 .5-2.2 .5 1.3 .5 .8 .5-.9 .5-.1 .5 .6 .5 1.3 .5 1.1 .5 0 .5-.8 .5-.6 .5-1.5 .5-1.7 .5-.3 .5-.3 .5 2.3 .5 1.8 .5 1.3 .5 .6 .5-1.7 .5 1.5 .5 2 .5-2.2 .5-4 .5-1.1 .5 2.4 .5 3.9 .5-.3 .5-2.2 .5-.5 .5 .6 .5-1.6 .5-1 .5 1 .5-.5 .5-1.4 .5 .9 .5 .6 .5-.5 .5-.9 .5-1.4 .5 .5 .5 2.1 .5 .3 .5-3.3 .5-2.1 .5 2.1 .5 1.3 .5 .1 .5-.5 .5-1.1 .5-1.4 .5-1.6 .5-.9 .5 1.9 .5 1.8 .5 1.1 .5 .6 .5 .6 .5-.2 .5-1.2 .5 1.2 .5-.9 .5-2 .5 .8 .5 .3 .5-1.8 .5 2.2 .5 2.4 .5 .4 .5-2.5 .5-3.1 .5 .6 .5 1.3 .5 1.4 .5 0 .5-1 .5-.1 .5-.4 .5 .3 .5 2.2 .5 .7 .5-2.2 .5-.6 .5-.1 .5 .1 .5 1.5 .5 1.9 .5 0 .5-2.2 .5-1.4 .5-.3 .5-.3 .5-.6 .5 1.7 .5 1.9 .5 1.6 .5 .9 .5-4.9 .5-5.7 .5 2.9 .5 2.4 .5 .5 .5 1.7 .5-.4 .5-1.5 .5 1.6 .5 2.9 .5-.3 .5-.7 .5-1.1 .5-.5 .5 .1 .5-1 .5-1.1 .5 0 .5 1.6 .5 1.2 .5 .5 .5 .3 .5-3.1 .5-2 .5 2 .5 1.4 .5 1.9 .5 .8 .5-1.4 .5-3.1 .5-1.3"/><path d="M39.5 306.9l.5 .1 .5 0 .5 .1 .5 0 .5 .2 .5 .1 .5 0 .5 0 .5-.1 .5-.2 .5-.2 .5 .3 .5 .3 .5 .1 .5 0 .5-.1 .5-.1 .5 .1 .5 .2 .5-.2 .5-.3 .5-.1 .5 0 .5 .3 .5 .3 .5 .2 .5-.3 .5-.3 .5-.1 .5 .1 .5 .3 .5 .1 .5 .1 .5 .1 .5-.1 .5-.2 .5-.2 .5 .1 .5 .4 .5 .3 .5 .1 .5-.1 .5-.3 .5-.1 .5 .1 .5 0 .5 0 .5 0 .5-.1 .5-.1 .5-.1 .5 0 .5-.2 .5-.1 .5-.1 .5-.1 .5-.1 .5-.2 .5-.2 .5-.1 .5 0 .5-.1 .5-.1 .5 .2 .5 0 .5-.2 .5-.3 .5-.3 .5-.2 .5-.1 .5 0 .5 .1 .5-.1 .5-.1 .5-.1 .5-.1 .5 0 .5-.2 .5-.2 .5-.1 .5 .1 .5-.1 .5-.2 .5 0 .5 .1 .5 .1 .5 0 .5-.2 .5-.1 .5 .2 .5 .2 .5-.1 .5 .1 .5-.1 .5 0 .5-.1 .5 0 .5-.1 .5 .2 .5 .1 .5 .1 .5 0 .5 .1 .5 .2 .5 .4 .5-.2 .5-.1 .5-.1 .5 0 .5 .2 .5 .2 .5-.2 .5-.2 .5 .1 .5 0 .5 0 .5 .2 .5 .1 .5-.1 .5-.2 .5 .1 .5 .1 .5 .1 .5 0 .5 0 .5-.3 .5-.4 .5 .1 .5 .4 .5 .1 .5 .1 .5 0 .5-.2 .5-.1 .5 0 .5-.1 .5 0 .5 0 .5 .2 .5-.1 .5-.1 .5-.1 .5 0 .5 0 .5 .3 .5 0 .5-.1 .5 0 .5 0 .5 0 .5 .1 .5-.1 .5 0 .5 .2 .5-.1 .5-.3 .5 0 .5 .2 .5 .1 .5-.1 .5 0 .5 .2 .5 0 .5 .2 .5 .1 .5 .1 .5 0 .5 0 .5-.1 .5-.1 .5 0 .5 .4 .5 .1 .5 .2 .5 .4 .5-.1 .5-.3 .5-.3 .5-.4 .5 .3 .5 .3 .5 0 .5 0 .5 .1 .5 .2 .5 .2 .5-.2 .5-.3 .5 0 .5 .2 .5 .2 .5-.1 .5-.2 .5 0 .5-.1 .5 0 .5 0 .5 0 .5 .1 .5 .2 .5-.1 .5-.1 .5 0 .5 .1 .5-.3 .5-.1 .5 .1 .5 .2 .5 0 .5 0 .5 0 .5 0 .5 0 .5-.1 .5 0 .5-.1 .5 .2 .5 0 .5 .1 .5 0 .5 0 .5-.1 .5 0 .5-.1 .5-.2 .5 .3 .5 .1 .5 0 .5 .2 .5 .1 .5-.1 .5 0 .5 .1 .5-.3 .5-.3 .5 .1 .5 .1 .5-.1 .5-.2 .5 .3 .5 .1 .5-.2 .5-.1 .5 .2 .5 .1 .5 0 .5 .1 .5 .1 .5-.1 .5-.2 .5-.1 .5-.2 .5 0 .5 0 .5 .2 .5 .3 .5 .1 .5-.1 .5-.1 .5-.1 .5 0 .5 .2 .5 .3 .5-.2 .5-.3 .5-.2 .5 0 .5 .1 .5 .3 .5 0 .5-.2 .5-.2 .5 .1 .5 .2 .5 0 .5-.1 .5-.1 .5 0 .5 0 .5-.1 .5-.2 .5 .1 .5 .2 .5 .2 .5 0 .5-.2 .5-.2 .5 0 .5 .1 .5-.1 .5 .3 .5 .2 .5 .1 .5-.1 .5-.2 .5-.1 .5 .1 .5 0 .5 0 .5 0 .5 0 .5 0 .5 0 .5-.2 .5 0 .5 .2 .5 0 .5 0 .5 .1 .5-.1 .5 0 .5 .1 .5 0 .5 0 .5-.1 .5 .1 .5 .2 .5-.1 .5-.1 .5-.1 .5 0 .5 0 .5 0 .5 0 .5 .3 .5-.1 .5-.2 .5 .1 .5 .4 .5 0 .5 0 .5 .1 .5 .1 .5 .1 .5-.1 .5 .1 .5 .1 .5 .1 .5-.3 .5-.1 .5 .2 .5 .2 .5 0 .5-.3 .5-.2 .5 0 .5-.1 .5 .1 .5 .1 .5 .1 .5 0 .5-.1 .5 .1 .5 0 .5-.5 .5-.3 .5 .3 .5 .3 .5 0 .5 .2 .5 0 .5-.2 .5-.1 .5 .1 .5 .1 .5 .3 .5 .1 .5-.2 .5-.1 .5-.1 .5 .2 .5 .2 .5 0 .5 0 .5 .1 .5 .2 .5-.2 .5 0 .5 .1 .5 .2 .5 .2 .5 .3 .5 .3 .5 0 .5 0 .5 0 .5 .1 .5 .2 .5 .3 .5 0 .5-.1 .5 .2 .5 .5 .5-.1 .5-.2 .5 0 .5 0 .5 0 .5 .3 .5 .1 .5-.2 .5 .1 .5 .3 .5-.2 .5-.2 .5 0 .5-.2 .5 0 .5 .1 .5-.1 .5 .1 .5-.2 .5-.4 .5-.1 .5-.1 .5 0 .5-.4 .5-.4 .5 0 .5 .1 .5 .3 .5 .3 .5 .2 .5 .1 .5-.3 .5-.5 .5 .7 .5 1 .5 .1 .5-.6 .5-1.1 .5-1.2 .5-.8 .5-.1 .5 .2 .5-.1 .5 .1 .5 .1 .5-.4 .5-.3 .5 .3 .5 .5 .5-.1 .5-.1 .5 .1 .5-.1 .5-.2 .5 0 .5 .2 .5-.5 .5-.4 .5 0 .5 0 .5 0 .5 0 .5-.2 .5-.1 .5 .1 .5 0 .5-.2 .5-.1 .5 .1 .5-.1 .5-.3 .5-.2 .5-.2 .5 .1 .5 .2 .5-.1 .5-.3 .5-.3 .5 .1 .5 0 .5 .2 .5 .2 .5 0 .5-.1 .5-.1 .5-.2 .5 .2 .5 .1 .5 .2 .5 .1 .5-.1 .5-.1 .5 .1 .5 .1 .5 .1 .5 .1 .5-.1 .5-.2 .5 .1 .5 0 .5-.2 .5 .1 .5 .1 .5-.1 .5 .1 .5 .2 .5 .1 .5-.3 .5-.1 .5 0 .5 .1 .5 .1 .5 0 .5-.1 .5-.1 .5 .2 .5 .2 .5 .1 .5-.1 .5 0 .5 .1 .5 0 .5 .1 .5 .2 .5 .1 .5 .2 .5 .2 .5-.1 .5-.2 .5 .1 .5 .2 .5-.2 .5-.2 .5-.1 .5 .1 .5-.1 .5 .2 .5 .2 .5 0 .5 .1 .5-.3 .5-.1 .5 .1 .5-.1 .5 0 .5 0 .5 0 .5 0 .5 0 .5 0 .5 .2 .5 0 .5 0 .5-.1 .5 0 .5 .1 .5-.1 .5-.2 .5 0 .5 0 .5 0 .5 .2 .5 0 .5-.1 .5 .1 .5 .2 .5-.1 .5-.1 .5 0 .5 0 .5 0 .5 .2 .5 .1 .5 0 .5-.1 .5 .1 .5 .3 .5 0 .5 0 .5-.2 .5-.2 .5 .1 .5 .3 .5 .1 .5 .1 .5-.1 .5-.3 .5-.1 .5 .4 .5 .2 .5 .1 .5 .1 .5 .3 .5 .3 .5 .2 .5 .2 .5 .1 .5 .2 .5 .2 .5 .3 .5 .3 .5 .3 .5 .1 .5 0 .5 .1 .5 0 .5-.1 .5-.2 .5 .1 .5 .1 .5 0 .5-.2 .5-.1 .5-.2 .5 0 .5-.1 .5-.2 .5-.3 .5-.2 .5-.1 .5 .1 .5 .2 .5-.4 .5-.4 .5-.2 .5-.1 .5-.1 .5-.1 .5-.2 .5-.1 .5 .2 .5 .1 .5-.2 .5-.1 .5 0 .5-.1 .5 0 .5 0 .5 .1 .5 .2 .5-.1 .5-.2 .5 0 .5 .2 .5-.1 .5-.2 .5 .1 .5 .1 .5 0 .5-.1 .5-.1 .5 0 .5 .2 .5-.1 .5 .1 .5-.1 .5 0 .5 .2 .5 .1 .5-.1 .5-.2 .5-.1 .5 0 .5 .1 .5 .1 .5 0 .5 0 .5 0 .5-.1 .5-.1 .5-.1 .5-.1 .5 .1 .5 .1 .5 0 .5 0 .5 0 .5-.2 .5 .2 .5 .4 .5-.1 .5-.1 .5 0 .5-.1 .5-.1 .5-.2 .5-.2 .5 .2 .5 .1 .5 0 .5-.2 .5-.2 .5 .1 .5 .2 .5 .3 .5-.1 .5-.3 .5-.1 .5 0 .5 0 .5 .1 .5 .1 .5 .1 .5 .3 .5-.2 .5-.4 .5-.1 .5 0 .5 .1 .5 0 .5-.2 .5 .1 .5 .1 .5 .1 .5 .1 .5 0 .5-.1 .5-.1 .5-.1 .5-.2 .5 .1 .5 .1 .5 0 .5 .1 .5 0 .5-.1 .5 0 .5 .1 .5-.2 .5-.1 .5 0 .5 .2 .5-.2 .5-.1 .5 .1 .5 .1 .5 0 .5-.2 .5 .1 .5 .1 .5 0 .5 .1 .5 0 .5-.2 .5 0 .5 .1 .5 0 .5 .1 .5-.2 .5-.2 .5 .2 .5 .1 .5-.1 .5-.3 .5 .2 .5 .2 .5-.1 .5 0 .5 0 .5 .2 .5 0 .5 0 .5 .1 .5 .2 .5 .1 .5 .2 .5 0 .5 0 .5 .2 .5 .3 .5 0 .5-.1 .5-.2 .5-.3 .5 .3 .5 .4 .5 .2 .5 .3 .5 .1 .5-.2 .5-.2 .5 .1 .5 .2 .5-.2 .5-.3 .5 0 .5 .1 .5 .2 .5 .3 .5 .1 .5-.2 .5-.2 .5 .1 .5 0 .5 0 .5-.1 .5 .1 .5 .3 .5 .1 .5-.2 .5-.1 .5 0 .5 .1 .5 .2 .5 0 .5-.2 .5-.1 .5 .1 .5-.1 .5-.1 .5 .1 .5 .2 .5 0 .5-.2 .5 0 .5 .1 .5 .1 .5 .1 .5 .1 .5 0 .5-.2 .5-.3 .5 .1 .5 .3 .5 0 .5-.1 .5-.1 .5 0 .5 .1 .5 .3 .5-.1 .5-.1 .5 .1 .5-.2 .5-.1 .5 0 .5 0 .5 0 .5 .1 .5 .1 .5 0 .5-.2 .5-.1 .5 0 .5 .1 .5 .1 .5 .2 .5-.2 .5-.1 .5 0 .5-.3 .5-.3 .5 .1 .5 .2 .5-.1 .5-.2 .5-.2 .5 0 .5 .1 .5 .1 .5-.1 .5-.1 .5-.2 .5-.1 .5-.1 .5-.1 .5-.1 .5 0 .5 .2 .5 0 .5-.4 .5-.1 .5 .1 .5 0 .5 0 .5-.2 .5 0 .5 0 .5-.1 .5-.1 .5 .2 .5 .5 .5-.2 .5-.4 .5-.3 .5-.1 .5 .3 .5 .3 .5-.2 .5-.3 .5 .3 .5 .2 .5-.3 .5-.2 .5 .1 .5 .1 .5 0 .5-.1 .5 .2 .5 .2 .5 0 .5-.1 .5 0 .5-.1 .5 0 .5 .1 .5-.3 .5 .1 .5 .1 .5 0 .5-.1 .5 .1 .5 .2 .5-.1 .5-.1 .5 0 .5 .2 .5-.2 .5-.1 .5 .3 .5 0 .5-.1 .5-.1 .5 0 .5-.1 .5 .2 .5 .3 .5-.1 .5-.2 .5 .1 .5 .2 .5-.3 .5-.3 .5 0 .5 .2 .5 .2 .5 0 .5-.1 .5 0 .5 0 .5 .1 .5 0 .5 0 .5 .1 .5 0 .5-.2 .5-.2 .5 .2 .5 .2 .5 .1 .5 0 .5 .1 .5 0 .5-.2 .5 0 .5 .4 .5 0 .5-.2 .5 0 .5 .1 .5 .1 .5-.2 .5 0 .5 .3 .5 .2 .5 0 .5-.1 .5 0 .5 .2 .5 .1 .5-.1 .5-.1 .5 .1 .5 0 .5-.1 .5 .3 .5 0 .5-.2 .5 0 .5 0 .5-.2 .5 .2 .5 .2 .5 0 .5-.2 .5-.2 .5 .1 .5 .1 .5 0 .5-.3 .5 0 .5 .1 .5 .1 .5 0 .5-.2 .5 0 .5 0 .5 0 .5-.1 .5 0 .5 0 .5 0 .5 0 .5 0 .5-.2 .5-.1 .5 .5 .5 0 .5-.2 .5-.2 .5 0 .5 .1 .5 0 .5 .2 .5-.1 .5 0 .5 0 .5-.2 .5 0 .5 .1 .5 0 .5 .2 .5 .3 .5 .1 .5 0 .5 .2 .5 .2 .5-.1 .5-.2 .5-.2 .5 .1 .5 .5 .5 .1 .5 .2 .5 0 .5-.2 .5 .1 .5 0 .5-.1 .5-.1 .5-.2 .5-.1 .5 0 .5 .4 .5 .4 .5-.4 .5-.5 .5-.2 .5 .2 .5 .1 .5-.1 .5-.1 .5 .3 .5 .4 .5-.7 .5-.3 .5 .1 .5-.1 .5 0 .5 .4 .5 .4 .5 .6 .5 0 .5-.5 .5-.5 .5-.2 .5 .2 .5 0 .5 0 .5 0 .5 0 .5-.1 .5 0 .5 .1 .5-.1 .5 0 .5 .1 .5 .1 .5 0 .5-.2 .5-.1 .5 .2 .5 .1 .5 .1 .5 0 .5-.1 .5 0 .5 .2 .5 0 .5-.2 .5-.2 .5 .2 .5 .3 .5 .2 .5-.1 .5-.2 .5 0 .5 .1 .5 .2 .5-.1 .5-.1 .5 .1 .5 .1 .5-.1 .5 .2 .5 .5 .5 .6 .5 .3 .5 .2 .5 .1 .5-.4 .5-.3 .5-.2 .5-.3 .5-.2 .5-.2 .5-.2 .5-.2 .5-.1 .5-.1 .5-.3 .5-.2 .5-.1 .5 0 .5 .1 .5 .1 .5 0 .5-.1 .5-.4 .5-.3 .5-.2 .5 .1 .5 .1 .5 .1 .5-.2 .5-.1 .5 0 .5-.2 .5 0 .5 .1 .5 .1 .5 0 .5 0 .5 0 .5 .1 .5 .4 .5 .3 .5-.2 .5-.1 .5 .2 .5 .2 .5-.4 .5-.4 .5 .3 .5 .5 .5 .1 .5-.1 .5 .1 .5 .2 .5 0 .5-.1 .5-.3 .5-.2 .5 .3 .5 .4 .5 0 .5-.1 .5 0 .5-.1 .5 0 .5 0 .5 .3 .5 .3 .5-.2 .5-.3 .5 .1 .5 0 .5-.2 .5 0 .5 .1 .5 .2 .5 .1 .5-.2 .5-.1 .5 .1 .5 0 .5-.1 .5 .1 .5-.1 .5-.1 .5 0 .5 .2 .5 0 .5 0 .5-.1 .5-.2 .5 0 .5 .1 .5 .1 .5 .1 .5 .1 .5-.2 .5-.2 .5 0 .5 0 .5-.2 .5 0 .5 .2 .5 0 .5 0 .5-.1 .5 0 .5 .1 .5 0 .5-.1 .5-.1 .5 0 .5 0 .5 .1 .5-.1 .5 .1 .5 0 .5-.1 .5-.1 .5 .1 .5 0 .5-.1 .5-.1 .5 0 .5 0 .5 0 .5 0 .5 .1 .5 .2 .5-.1 .5-.4 .5-.3 .5 .2 .5 .2 .5 0 .5-.1 .5-.1 .5 0 .5-.1 .5-.1 .5-.1 .5 .1 .5 .2 .5 .1 .5 .1 .5-.2 .5-.2 .5 0 .5 0 .5 .1 .5 0 .5-.2 .5-.2 .5 0 .5-.1 .5 .1 .5 .1 .5-.2 .5 0 .5 .3 .5-.1 .5-.2 .5 0 .5-.1 .5 .1 .5-.1 .5 0 .5 .2 .5 .1 .5-.3 .5-.2 .5 .1 .5-.1 .5-.1 .5 .2 .5 .1 .5 0 .5-.2 .5-.1 .5-.1 .5-.1 .5 0 .5 0 .5 .4 .5 .1 .5-.2 .5-.2 .5 .1 .5-.3 .5-.3 .5 .2 .5 .3 .5 0"/><path d="M39.5 324.7l.5 .1 .5 .1 .5-.4 .5-.4 .5 .3 .5 .3 .5 .1 .5-.1 .5-.1 .5 .3 .5 .5 .5 0 .5-.1 .5 .2 .5 0 .5-.1 .5-.4 .5 0 .5 .5 .5 .4 .5-.3 .5-.4 .5 .3 .5 .3 .5 0 .5-.1 .5 .2 .5 .5 .5 .1 .5-.2 .5-.1 .5 0 .5 .4 .5 .1 .5-.2 .5 0 .5 .3 .5 .1 .5 .1 .5 .2 .5 .2 .5-.2 .5-.2 .5 .3 .5 .1 .5 .1 .5 .1 .5-.4 .5-.4 .5 0 .5-.2 .5-.3 .5 .1 .5 .2 .5 .2 .5-.5 .5-.7 .5-.1 .5 0 .5-.3 .5-.5 .5-.3 .5-.1 .5 .2 .5-.2 .5-.7 .5-.2 .5 .1 .5 .1 .5-.1 .5-.4 .5-.2 .5-.4 .5-.3 .5 0 .5 0 .5-.1 .5-.3 .5-.2 .5-.2 .5-.1 .5 .2 .5-.2 .5-.1 .5 .1 .5 .3 .5-.3 .5-.2 .5 .6 .5 0 .5-.4 .5 0 .5 .2 .5 .2 .5 .1 .5-.4 .5-.3 .5 .2 .5 .2 .5 .4 .5 0 .5-.4 .5 .2 .5 .1 .5-.1 .5 .4 .5 .1 .5-.2 .5-.2 .5-.1 .5 .1 .5 .5 .5 .2 .5-.2 .5-.5 .5-.1 .5 .3 .5 0 .5-.2 .5-.2 .5-.1 .5 .1 .5 .1 .5 .3 .5 .2 .5-.3 .5-.1 .5 .1 .5 .2 .5 0 .5-.2 .5-.1 .5 .3 .5 .3 .5-.1 .5-.1 .5 .2 .5 .1 .5-.3 .5-.6 .5-.3 .5 .4 .5 .5 .5 .2 .5 .1 .5-.4 .5-.3 .5 .1 .5 .4 .5-.1 .5-.2 .5-.1 .5 0 .5 .2 .5 0 .5-.3 .5-.3 .5 0 .5 .3 .5 0 .5 0 .5-.1 .5 .1 .5 .2 .5-.1 .5 0 .5 .4 .5 .5 .5-.5 .5-.4 .5 .1 .5 .3 .5 .5 .5 .3 .5-.3 .5-.4 .5-.1 .5 .1 .5 .4 .5 .2 .5-.1 .5 .2 .5 .3 .5 .1 .5 0 .5-.4 .5-.3 .5 .4 .5 .4 .5-.3 .5-.2 .5-.2 .5 .3 .5 .3 .5-.4 .5-.2 .5 .1 .5 0 .5-.2 .5-.1 .5 .1 .5 0 .5 .1 .5 .3 .5-.1 .5-.5 .5 .1 .5 .3 .5 0 .5-.1 .5-.2 .5 .2 .5 .2 .5-.2 .5-.2 .5-.1 .5 0 .5 .3 .5-.1 .5 0 .5-.1 .5-.2 .5-.2 .5-.2 .5 .6 .5 .3 .5 .1 .5 .1 .5-.1 .5 0 .5 0 .5 .1 .5 0 .5 .1 .5 .1 .5 .2 .5 .1 .5-.3 .5-.2 .5-.1 .5-.1 .5 0 .5 .5 .5 .1 .5 .1 .5 .1 .5-.1 .5 .1 .5-.1 .5 .1 .5 .3 .5-.2 .5-.3 .5-.1 .5 .2 .5-.1 .5-.1 .5 .2 .5 .2 .5 0 .5-.2 .5 0 .5-.1 .5 0 .5 .2 .5 0 .5 0 .5-.2 .5-.6 .5-.3 .5 .2 .5 .5 .5 .5 .5 .3 .5-.4 .5-.5 .5-.1 .5 .1 .5-.2 .5-.2 .5 .5 .5 .2 .5-.2 .5-.3 .5-.4 .5 .2 .5 .4 .5 .2 .5-.2 .5-.3 .5-.1 .5 .2 .5 0 .5-.1 .5-.1 .5-.1 .5 .1 .5 .3 .5 .1 .5-.3 .5 0 .5 .1 .5-.2 .5-.2 .5 .1 .5 .1 .5 .1 .5 .2 .5-.1 .5-.1 .5 .1 .5-.3 .5-.4 .5 0 .5 .4 .5 .4 .5 0 .5-.4 .5 0 .5 .3 .5 .1 .5-.2 .5-.2 .5-.2 .5 .1 .5 .5 .5 .2 .5-.4 .5 0 .5 .1 .5-.1 .5 .5 .5 .3 .5-.5 .5-.2 .5 0 .5 .1 .5 0 .5 0 .5 .1 .5-.1 .5-.1 .5-.3 .5 .1 .5 .1 .5-.1 .5 .2 .5 .4 .5 .4 .5 .1 .5-.6 .5-.9 .5 0 .5 .5 .5 .8 .5 .7 .5 .3 .5 0 .5-.1 .5 0 .5 .1 .5 .1 .5 .4 .5 .3 .5 .4 .5 .4 .5 .2 .5-.3 .5-.4 .5-.3 .5 .3 .5 .2 .5-.4 .5-.3 .5-.1 .5-.2 .5-.2 .5-.1 .5 0 .5 .2 .5-.1 .5 .1 .5 .8 .5 .3 .5-.2 .5 .1 .5 .1 .5 0 .5 .6 .5 .7 .5 .2 .5 .1 .5 .4 .5 .6 .5 .4 .5 .5 .5-.1 .5-.5 .5 .6 .5 .9 .5-.4 .5-.8 .5-.9 .5-.7 .5 1.1 .5 1.4 .5 .3 .5 .2 .5 0 .5-.9 .5-.2 .5 .3 .5-.4 .5-.3 .5 0 .5-.4 .5-.3 .5 .3 .5-.2 .5-.4 .5-.7 .5-.5 .5 0 .5 .8 .5 .2 .5 .2 .5 .9 .5 1.1 .5-1.2 .5-2.3 .5-1.3 .5-.3 .5-.4 .5-.2 .5 0 .5 .3 .5 .4 .5-.8 .5-1.1 .5-.7 .5-.1 .5 .5 .5 .4 .5-.2 .5-.3 .5 .1 .5 .1 .5-.2 .5-.5 .5-.3 .5 .3 .5 .4 .5 .1 .5 .2 .5-.8 .5-.6 .5-.2 .5-.3 .5-.2 .5 .1 .5 .1 .5 .5 .5-.3 .5-.6 .5-.5 .5-.4 .5-.4 .5 .1 .5-.1 .5 0 .5 .2 .5 0 .5-.3 .5-.2 .5 .1 .5 .1 .5 .1 .5 .5 .5 .4 .5-.2 .5 .2 .5 0 .5-.2 .5 0 .5-.1 .5-.3 .5-.2 .5 .3 .5 .5 .5 .4 .5 0 .5-.4 .5-.1 .5 .1 .5 0 .5-.1 .5 .1 .5 .1 .5 0 .5 .1 .5 .1 .5 0 .5 0 .5-.1 .5-.1 .5-.1 .5 .2 .5 .2 .5 0 .5 0 .5 0 .5-.1 .5 .1 .5 .1 .5 .4 .5 .4 .5 .2 .5 .2 .5-.1 .5-.2 .5-.2 .5-.2 .5-.1 .5-.2 .5 .1 .5 .5 .5 .2 .5-.1 .5-.2 .5-.3 .5-.2 .5 0 .5 .1 .5 .1 .5 .2 .5 0 .5-.1 .5-.1 .5-.3 .5 0 .5 .2 .5-.1 .5 .2 .5 .2 .5-.1 .5-.1 .5 .1 .5 0 .5-.3 .5 0 .5 .4 .5 .5 .5 .5 .5-.3 .5-.3 .5 .1 .5-.1 .5-.4 .5 .1 .5 .4 .5 .2 .5-.1 .5 .2 .5 .1 .5 .3 .5 .2 .5 0 .5-.3 .5-.1 .5-.1 .5 0 .5 .1 .5-.1 .5-.4 .5 0 .5 .3 .5 .4 .5 .3 .5-.2 .5-.5 .5-.2 .5 .1 .5 .5 .5 .7 .5 .4 .5 .5 .5 .8 .5 .6 .5 .2 .5 .1 .5 .5 .5 .7 .5 .3 .5 .3 .5 .3 .5 .3 .5-.1 .5-.2 .5-.1 .5 0 .5 0 .5-.1 .5-.1 .5 0 .5 .3 .5-.3 .5-.6 .5 0 .5 0 .5-.2 .5-.2 .5-.5 .5-.3 .5-.1 .5-.4 .5-.3 .5-.2 .5-.2 .5-.4 .5-.5 .5-.4 .5 .1 .5 .4 .5 .2 .5-.7 .5-.5 .5 .1 .5 .2 .5 .2 .5 .2 .5 .4 .5 .3 .5-.3 .5-.3 .5-.1 .5 0 .5 .2 .5-.2 .5-.4 .5-.1 .5 0 .5 0 .5-.1 .5-.2 .5-.2 .5-.1 .5-.1 .5-.3 .5 0 .5 .3 .5 .1 .5 .1 .5-.4 .5-.2 .5 .5 .5 .4 .5-.3 .5-.5 .5 .2 .5 .7 .5 .3 .5-.3 .5-.7 .5-.1 .5 .4 .5 .3 .5-.1 .5-.2 .5 0 .5 0 .5-.1 .5 .2 .5 .2 .5-.1 .5 .2 .5 .1 .5-.3 .5-.3 .5 .5 .5 .6 .5-.3 .5 .1 .5 .1 .5-.3 .5-.3 .5-.3 .5 .2 .5 .6 .5 .2 .5-.2 .5 0 .5-.1 .5-.3 .5-.1 .5 0 .5-.1 .5 .1 .5 .4 .5 0 .5-.1 .5-.1 .5-.1 .5 .4 .5 .3 .5-.4 .5-.2 .5 .1 .5-.2 .5 .5 .5 .8 .5-.3 .5-.5 .5-.2 .5-.1 .5 .2 .5 0 .5-.2 .5 0 .5 .4 .5 0 .5 0 .5 .1 .5 0 .5 .1 .5-.1 .5-.2 .5 0 .5-.1 .5-.2 .5-.3 .5 .2 .5 .3 .5-.1 .5-.2 .5-.3 .5-.6 .5 0 .5 .2 .5 .2 .5 0 .5-.2 .5 0 .5 0 .5-.4 .5-.4 .5 0 .5 0 .5-.1 .5 .2 .5 .3 .5 0 .5 .1 .5 0 .5 .1 .5-.3 .5-.2 .5 .5 .5 .4 .5 .1 .5-.1 .5 .1 .5 0 .5 .1 .5 0 .5-.2 .5 .1 .5 .1 .5 .3 .5 .5 .5 .2 .5 0 .5 .2 .5 0 .5-.1 .5 .5 .5 .4 .5 .1 .5-.3 .5 0 .5 .4 .5 .3 .5 0 .5 0 .5 .1 .5 .2 .5-.1 .5-.1 .5 .2 .5 .2 .5-.2 .5-.1 .5 .3 .5-.1 .5-.8 .5-.2 .5 .6 .5 .4 .5 .1 .5-.1 .5 0 .5-.1 .5-.5 .5-.1 .5 .4 .5 0 .5 0 .5 0 .5 0 .5 0 .5 .2 .5 .1 .5-.4 .5-.2 .5 .4 .5 .2 .5-.1 .5-.2 .5-.4 .5-.1 .5 .2 .5 .1 .5 .2 .5 .1 .5-.2 .5-.3 .5 0 .5 .1 .5 .4 .5 .1 .5-.6 .5-.4 .5 .3 .5 .2 .5 0 .5-.1 .5-.1 .5 0 .5 0 .5 0 .5-.3 .5-.1 .5 .1 .5 .1 .5-.3 .5-.2 .5 0 .5 0 .5 0 .5-.3 .5-.1 .5 .1 .5 0 .5-.4 .5-.4 .5-.1 .5 0 .5-.3 .5-.3 .5-.1 .5 .2 .5 .1 .5-.1 .5-.1 .5-.2 .5-.3 .5-.2 .5 0 .5 .3 .5 0 .5-.2 .5-.4 .5 0 .5 .5 .5-.2 .5-.1 .5 .3 .5 .1 .5-.1 .5 0 .5-.1 .5-.1 .5 .1 .5 0 .5 0 .5 .1 .5 .2 .5-.1 .5 0 .5-.1 .5-.1 .5 .1 .5 .5 .5-.1 .5-.8 .5-.4 .5 .8 .5 1 .5-.2 .5-.4 .5 0 .5 .3 .5 .2 .5 .2 .5-.2 .5-.2 .5 .1 .5 .1 .5 0 .5 .5 .5 .5 .5-.2 .5-.3 .5-.1 .5 .1 .5 .2 .5-.6 .5-.6 .5 .9 .5 .8 .5-.5 .5-.6 .5-.4 .5 0 .5 .4 .5 0 .5-.5 .5-.5 .5 .1 .5 .8 .5 .5 .5-.5 .5-.3 .5-.2 .5 .1 .5 .4 .5 .3 .5-.6 .5-.6 .5 .2 .5 .2 .5 0 .5 .2 .5 .3 .5-.1 .5-.1 .5 .1 .5 .4 .5 .3 .5 .1 .5-.1 .5-.1 .5-.1 .5-.3 .5 .4 .5 .8 .5 .5 .5 .1 .5-.6 .5-.7 .5 .1 .5 .5 .5-.2 .5-.2 .5-.1 .5-.2 .5 .1 .5 .2 .5 .1 .5 0 .5-.2 .5-.4 .5-.1 .5 0 .5-.3 .5 .2 .5 .3 .5 .3 .5 0 .5-.5 .5-.2 .5 .3 .5 .3 .5 .1 .5 0 .5-.3 .5-.2 .5 0 .5 .3 .5 .2 .5 0 .5-.2 .5-.1 .5 .1 .5 .1 .5 0 .5 .1 .5 .1 .5 .3 .5 .1 .5-.2 .5-.4 .5-.1 .5 .4 .5 .4 .5-.5 .5-.2 .5 .4 .5 .4 .5-.3 .5-.4 .5-.3 .5 .3 .5 0 .5-.1 .5 .1 .5 .1 .5 .2 .5 .4 .5-.1 .5-.5 .5-.2 .5 .1 .5 .1 .5 .1 .5 .3 .5 .4 .5-.1 .5-.4 .5-.1 .5 0 .5-.3 .5-.3 .5 .1 .5 .2 .5 0 .5-.1 .5-.1 .5 .2 .5 .1 .5-.3 .5-.1 .5 .3 .5 .2 .5 .3 .5 .1 .5 .3 .5 .2 .5 0 .5 .3 .5 .2 .5 .3 .5 .3 .5-.3 .5-.2 .5 .2 .5 0 .5-.4 .5-.7 .5-.1 .5 .5 .5-.4 .5-.8 .5-.2 .5 .1 .5 .1 .5-.1 .5 .3 .5 .7 .5 0 .5 .2 .5-.4 .5-.6 .5-.3 .5 0 .5 0 .5 .2 .5 .3 .5 .3 .5 .2 .5-.2 .5 0 .5 0 .5-.2 .5-.2 .5 .2 .5 .1 .5 0 .5 .2 .5 .1 .5-.2 .5 .1 .5 .3 .5 .2 .5 .1 .5 0 .5 .2 .5 .2 .5 .5 .5 .6 .5 .7 .5 .8 .5 .1 .5-.2 .5-.1 .5-.2 .5-.6 .5-.9 .5-.2 .5-.1 .5-.3 .5-.3 .5-.3 .5-.2 .5 0 .5 0 .5-.1 .5-.3 .5-.6 .5-.4 .5-.2 .5-.1 .5-.1 .5-.1 .5-.6 .5-.6 .5 0 .5 .1 .5 .1 .5 .1 .5-.2 .5-.5 .5-.4 .5 .4 .5 .5 .5 .4 .5 .3 .5 .3 .5 .1 .5 .2 .5 .1 .5 .4 .5 .3 .5-.1 .5 0 .5-.1 .5-.3 .5 .2 .5 .6 .5 .3 .5 .1 .5-.4 .5-.2 .5-.2 .5 0 .5 .2 .5 .4 .5-.1 .5-.6 .5 .1 .5 .3 .5-.4 .5-.5 .5 .2 .5 .4 .5 .2 .5-.3 .5-.2 .5 .1 .5-.3 .5 0 .5 .1 .5-.1 .5-.2 .5 .1 .5-.1 .5 0 .5 .1 .5 .3 .5 0 .5-.4 .5-.1 .5 0 .5 0 .5 0 .5-.5 .5-.5 .5 .8 .5 .5 .5-.1 .5-.1 .5 .2 .5 0 .5-.1 .5-.1 .5-.2 .5-.2 .5 .2 .5 .1 .5-.2 .5 .2 .5 .1 .5 .1 .5 .1 .5 .3 .5-.3 .5-.3 .5 .4 .5 0 .5-.3 .5 .1 .5 .2 .5-.2 .5 0 .5 .2 .5 .2 .5 .1 .5-.2 .5-.1 .5 0 .5 .1 .5-.1 .5 .1 .5 .1 .5 0 .5-.4 .5-.3 .5 .3 .5 .6 .5 .2 .5-.1 .5-.2 .5-.1 .5-.1 .5-.1 .5 0 .5-.1 .5 .1 .5 .2 .5-.1 .5-.1 .5 .2 .5 .6 .5 .5 .5-.4 .5-.5 .5 0 .5 .2 .5-.2 .5-.2 .5 0 .5 .2 .5 .3 .5-.1 .5-.2 .5-.2 .5 0 .5 0 .5-.3 .5-.3 .5 0 .5 0 .5-.4 .5-.8 .5-.8 .5 .1 .5 .3 .5 .1 .5-.3 .5-.5 .5-.2 .5 .5 .5 .8 .5-.3 .5-.6 .5 0 .5 .1 .5 0 .5 0 .5-.2 .5-.5 .5 .4 .5 .3 .5 0 .5 .3 .5 .3 .5 0 .5-.4 .5-.2 .5 .1 .5 .1 .5-.1"/><path d="M39.5 341.2l.5 .2 .5 .3 .5 .2 .5-.1 .5 .1 .5 0 .5 .2 .5 .2 .5 .3 .5 .3 .5-.1 .5-.1 .5 .2 .5 .1 .5-.2 .5-.3 .5 .4 .5 .7 .5 .1 .5 0 .5-.1 .5-.1 .5 .1 .5 .1 .5 .1 .5-.1 .5-.1 .5-.2 .5 0 .5 .6 .5 .2 .5-.4 .5-.2 .5 .2 .5 .2 .5 0 .5-.1 .5-.1 .5-.1 .5 .4 .5 .5 .5-.2 .5-.2 .5-.1 .5 .3 .5 .4 .5-.4 .5-.3 .5 .1 .5 0 .5-.2 .5-.2 .5-.2 .5-.2 .5-.4 .5-.3 .5-.5 .5-.8 .5 .1 .5 .3 .5 .3 .5-.1 .5-.2 .5-.1 .5-.3 .5-.6 .5-.4 .5 .3 .5 .2 .5-.1 .5-.1 .5-.5 .5-.4 .5 0 .5 .1 .5 0 .5-.2 .5 0 .5 0 .5-.6 .5-.6 .5 .1 .5 .3 .5-.1 .5-.7 .5-.4 .5 0 .5 .2 .5 .4 .5 .3 .5-.7 .5-.6 .5-.1 .5 0 .5 .1 .5 .5 .5 0 .5 .2 .5-.1 .5-.2 .5 0 .5-.1 .5-.1 .5 .1 .5 .4 .5 .3 .5 0 .5 .1 .5 0 .5 .4 .5 .4 .5-.3 .5-.2 .5 .4 .5 0 .5-.5 .5-.4 .5 .2 .5 .4 .5 .2 .5-.2 .5-.1 .5 .2 .5-.2 .5-.5 .5 .1 .5 .6 .5 .7 .5-.1 .5-.6 .5 0 .5 .3 .5-.1 .5-.5 .5-.2 .5-.1 .5 0 .5 .2 .5 .2 .5-.3 .5-.2 .5-.2 .5 .2 .5 .4 .5 .1 .5-.3 .5 0 .5 .4 .5 .4 .5-.1 .5-.5 .5-.4 .5 0 .5 .3 .5 .3 .5 .1 .5-.1 .5 0 .5 .2 .5 0 .5-.2 .5-.1 .5 .1 .5 .2 .5 .2 .5 0 .5-.4 .5-.1 .5 .2 .5-.1 .5-.3 .5 .1 .5 .2 .5 .4 .5 .1 .5-.2 .5-.1 .5 .5 .5 .5 .5-.3 .5-.2 .5 0 .5-.2 .5-.1 .5-.2 .5 .1 .5 .4 .5 .3 .5 0 .5-.3 .5-.2 .5 .6 .5 .2 .5-.3 .5-.3 .5 0 .5 .2 .5 .1 .5-.3 .5-.4 .5 .4 .5 .4 .5 0 .5-.2 .5 .1 .5-.2 .5-.2 .5 .4 .5 .2 .5-.1 .5-.1 .5 .1 .5 0 .5-.2 .5 0 .5 .7 .5 .5 .5-.6 .5-.2 .5 .2 .5-.5 .5-.1 .5 .3 .5-.1 .5-.2 .5 .3 .5 .4 .5-.1 .5-.1 .5-.1 .5 .2 .5 0 .5-.1 .5 .1 .5 .2 .5-.2 .5-.1 .5-.1 .5 .1 .5 .3 .5-.1 .5-.1 .5 0 .5-.3 .5 .1 .5 .2 .5 .1 .5 .1 .5-.1 .5-.2 .5 .1 .5 0 .5 .2 .5 .1 .5-.3 .5 0 .5 .3 .5-.1 .5-.1 .5-.1 .5 0 .5 0 .5-.1 .5 0 .5 0 .5 0 .5 .2 .5-.1 .5-.3 .5 .1 .5 .3 .5 .1 .5 .1 .5 0 .5-.6 .5 0 .5 .8 .5 0 .5-.3 .5 .1 .5 .1 .5 .2 .5 0 .5-.1 .5-.2 .5-.2 .5 .1 .5 .1 .5-.1 .5 0 .5 .1 .5 0 .5 .1 .5 .2 .5 .2 .5-.4 .5-1 .5 .2 .5 .7 .5 0 .5 0 .5 .4 .5 .5 .5-.4 .5-.7 .5 0 .5 .3 .5-.1 .5-.4 .5 .2 .5 .4 .5 .3 .5-.2 .5-.3 .5-.1 .5 .2 .5 .1 .5-.1 .5 0 .5 .1 .5 .1 .5-.3 .5-.2 .5 .2 .5 .2 .5-.2 .5-.4 .5 0 .5 0 .5 .1 .5 .1 .5-.1 .5-.2 .5 .1 .5 .3 .5 .3 .5-.1 .5-.2 .5-.2 .5-.1 .5 .2 .5 .2 .5 .1 .5-.1 .5 0 .5 .3 .5 0 .5-.1 .5-.2 .5-.1 .5 .3 .5 .2 .5-.1 .5 .1 .5 .3 .5 .5 .5-.3 .5-.5 .5 .2 .5 .2 .5-.2 .5 0 .5 .3 .5 .2 .5 0 .5-.1 .5 0 .5 .2 .5-.1 .5-.2 .5 0 .5-.1 .5 0 .5 .7 .5 .2 .5-.3 .5 0 .5 0 .5-.1 .5-.1 .5-.1 .5 .7 .5 .7 .5-.3 .5-.1 .5 .6 .5 .4 .5 .2 .5 0 .5 .8 .5 .8 .5 1.3 .5 1.9 .5 .5 .5-1.1 .5-1.2 .5 .1 .5-.1 .5 .6 .5 1 .5 .1 .5-.3 .5 0 .5 .1 .5-.3 .5-.2 .5-.1 .5-.2 .5 .4 .5 .3 .5-1 .5-.4 .5 1.5 .5-.1 .5-1.1 .5-.6 .5 .4 .5 .4 .5 0 .5-.4 .5-.4 .5-.5 .5 .6 .5 1.8 .5 1 .5 .6 .5-1.2 .5-3 .5-1.1 .5-.7 .5 .1 .5 .6 .5-1.6 .5-.6 .5 .7 .5 .1 .5-1.2 .5-1.3 .5 .4 .5 1.2 .5 .8 .5-.9 .5-.8 .5-.3 .5 .7 .5 .2 .5-.4 .5-.7 .5-.1 .5 .1 .5-.2 .5-.2 .5-.1 .5-.2 .5-.1 .5-.1 .5 0 .5-.3 .5-.8 .5-.6 .5 .2 .5 0 .5-.6 .5-.3 .5 0 .5-.4 .5-.6 .5-.3 .5-.5 .5 0 .5-.1 .5-.2 .5-.1 .5 0 .5-.1 .5 0 .5 .6 .5 .6 .5 .4 .5 0 .5-.2 .5-.1 .5 .2 .5 .2 .5-.2 .5-.3 .5 .2 .5 .2 .5-.1 .5-.1 .5 .1 .5-.2 .5-.2 .5 .4 .5 0 .5-.7 .5-.3 .5 .4 .5 .3 .5 .2 .5 .1 .5-.2 .5 .1 .5 .1 .5-.1 .5-.2 .5 0 .5 0 .5 0 .5 .2 .5 0 .5-.2 .5-.1 .5 .1 .5 .1 .5 .2 .5 .2 .5-.4 .5-.4 .5 .1 .5 .3 .5 .1 .5 .2 .5 0 .5-.1 .5 0 .5 .3 .5 .2 .5 0 .5 0 .5-.2 .5 .1 .5 .1 .5 .2 .5 .1 .5 0 .5 0 .5 0 .5 0 .5 .2 .5 .2 .5 0 .5 .1 .5 0 .5 .2 .5 .1 .5 .1 .5 0 .5-.1 .5 0 .5 0 .5-.1 .5 .1 .5 0 .5-.1 .5 0 .5 .1 .5 .2 .5 .1 .5 .1 .5 0 .5-.3 .5 0 .5 0 .5 0 .5 .1 .5 0 .5 0 .5-.1 .5 .2 .5 .4 .5 .2 .5 0 .5 0 .5 .3 .5 0 .5-.1 .5-.2 .5-.3 .5 .1 .5 .6 .5 .4 .5 .2 .5 .4 .5 .3 .5 .5 .5 .6 .5 .5 .5 .5 .5 .7 .5 .5 .5 .4 .5 .6 .5 .6 .5 .3 .5 .2 .5-.1 .5-.4 .5 .3 .5-.1 .5-.5 .5 .6 .5 .4 .5-.3 .5-.1 .5-.1 .5-.5 .5-.8 .5-.4 .5 .2 .5 0 .5-.3 .5-.2 .5-.5 .5-.7 .5-.7 .5-.1 .5-.1 .5-.3 .5-.4 .5-.3 .5-.1 .5 0 .5 .2 .5 0 .5-.5 .5-.4 .5 0 .5 0 .5 .3 .5 .5 .5 .3 .5 .2 .5 .4 .5-.3 .5-.9 .5 .5 .5 .8 .5 .4 .5 .1 .5-.2 .5-.5 .5-.5 .5-.3 .5-.2 .5-.2 .5-.3 .5-.3 .5 .1 .5 .4 .5-.4 .5-.2 .5 0 .5 0 .5 0 .5-.1 .5 0 .5 .5 .5 .3 .5-.1 .5-.1 .5-.3 .5 .1 .5 .1 .5-.2 .5-.3 .5 .1 .5 .2 .5 .2 .5 .3 .5 .2 .5-.4 .5-.7 .5-.1 .5 .7 .5 .6 .5-.4 .5-.1 .5 .3 .5-.1 .5 0 .5 .4 .5-.2 .5-.7 .5-.4 .5 0 .5 .2 .5-.3 .5-.4 .5-.1 .5 .2 .5 .2 .5-.3 .5-.4 .5 .2 .5 .2 .5-.4 .5-.4 .5 .4 .5 .4 .5 0 .5 0 .5 .6 .5 .3 .5-.2 .5-.5 .5-.2 .5 .2 .5 .1 .5 .1 .5 .2 .5 .2 .5 .2 .5 .2 .5-.2 .5-.2 .5 0 .5 .1 .5 .2 .5 0 .5-.1 .5-.1 .5 .5 .5 .1 .5-.4 .5-.3 .5 .1 .5 .5 .5 .3 .5 .1 .5-.2 .5 0 .5 0 .5-.2 .5 .2 .5-.4 .5-.1 .5 1 .5-.1 .5-.6 .5-.2 .5-.2 .5 .1 .5 .1 .5 0 .5-.1 .5-.1 .5 .1 .5 .1 .5-.2 .5 0 .5-.1 .5 0 .5 .2 .5 0 .5 .2 .5 .1 .5-.5 .5-.3 .5 .1 .5 .2 .5 0 .5 .3 .5 .3 .5-.1 .5-.2 .5-.1 .5 .4 .5 .2 .5-.2 .5 .3 .5 .3 .5 0 .5 .3 .5 .4 .5 0 .5 0 .5 .3 .5 .1 .5 0 .5 0 .5 0 .5 0 .5 .1 .5 .3 .5 .1 .5-.2 .5-.1 .5 .2 .5 .2 .5 0 .5-.2 .5 .1 .5 0 .5-.2 .5 0 .5 .3 .5 .1 .5 .1 .5-.1 .5 0 .5-.1 .5 0 .5 .1 .5 .1 .5-.2 .5-.1 .5 .2 .5 0 .5-.3 .5 .1 .5 .1 .5 .1 .5 0 .5-.1 .5 0 .5-.1 .5 .1 .5 .3 .5 0 .5-.5 .5-.3 .5 .3 .5 .4 .5 .3 .5 .1 .5-.3 .5-.2 .5-.1 .5 0 .5 0 .5 0 .5 .1 .5-.1 .5-.3 .5-.8 .5-.6 .5 .6 .5 0 .5-.4 .5-.2 .5-.2 .5-.1 .5 0 .5-.3 .5-.4 .5 .1 .5 .2 .5-.2 .5-.2 .5-.1 .5-.2 .5-.3 .5-.3 .5 .1 .5 .3 .5-.1 .5-.2 .5 .2 .5 .2 .5-.3 .5-.6 .5-.1 .5 .4 .5-.1 .5-.3 .5-.2 .5-.1 .5 .1 .5 .4 .5 0 .5-.2 .5-.2 .5-.3 .5-.1 .5 0 .5 .1 .5 .2 .5 .1 .5-.3 .5-.3 .5 .2 .5 .3 .5 .1 .5-.1 .5 0 .5 .1 .5-.4 .5-.3 .5 .2 .5 .1 .5-.2 .5 .1 .5 .2 .5 .1 .5 .1 .5 .2 .5 .3 .5-.2 .5-.1 .5 .2 .5 .1 .5-.2 .5-.1 .5 .5 .5 .7 .5 .4 .5-.4 .5 0 .5 .3 .5-.3 .5-.7 .5-.6 .5 .9 .5 .7 .5 0 .5-.2 .5-.1 .5-.2 .5 0 .5-.1 .5-.3 .5 .2 .5 .4 .5-.3 .5-.7 .5 0 .5 .4 .5 .3 .5-.1 .5-.2 .5 .2 .5 .2 .5-.1 .5-.2 .5 .1 .5 .2 .5-.1 .5 0 .5 .4 .5 .3 .5-.4 .5-.3 .5 .4 .5 .3 .5 .2 .5-.1 .5 .1 .5 .2 .5 .1 .5 .3 .5 .2 .5 .1 .5 .1 .5-.1 .5-.3 .5-.1 .5 .2 .5-.1 .5-.5 .5-.5 .5-.1 .5-.2 .5-.2 .5 .1 .5 .1 .5-.3 .5-.1 .5-.1 .5 .1 .5 .4 .5 .1 .5-.1 .5 .4 .5 .7 .5 .4 .5 .1 .5-.1 .5-.1 .5 .3 .5 .3 .5-.3 .5-.5 .5 .1 .5 .1 .5-.1 .5-.2 .5 0 .5 .3 .5 .3 .5-.2 .5-.2 .5 .1 .5-.4 .5-.3 .5 .3 .5 .3 .5 .1 .5 0 .5-.3 .5-.2 .5 0 .5 0 .5 0 .5 .2 .5-.3 .5-.2 .5 .4 .5 .5 .5 0 .5-.5 .5-.4 .5 .2 .5 .2 .5 0 .5 .1 .5 .2 .5 .1 .5 0 .5 .2 .5-.3 .5-.4 .5 .1 .5 .6 .5 .2 .5-.5 .5-.3 .5 .4 .5 .4 .5 .1 .5 0 .5 0 .5-.2 .5 .2 .5 .2 .5 .1 .5-.1 .5-.1 .5 0 .5 .1 .5 .1 .5 .1 .5 .1 .5 .1 .5 .1 .5 .3 .5 .1 .5 0 .5 .2 .5 .2 .5 .2 .5 .6 .5 .3 .5-.4 .5-.5 .5-.2 .5-.1 .5-.1 .5-.7 .5-1 .5-.2 .5 .3 .5 .2 .5 0 .5 .1 .5 .3 .5 0 .5-.2 .5-.2 .5 .1 .5 .1 .5-.2 .5-.5 .5-.1 .5 .9 .5-.5 .5-.4 .5 .3 .5 .2 .5 .3 .5 .5 .5-.6 .5-.7 .5 .5 .5 .2 .5-.2 .5-.2 .5-.1 .5 .4 .5 .5 .5 .3 .5-.1 .5 0 .5-.1 .5 .3 .5 .5 .5 .4 .5 .4 .5 1 .5 .6 .5 .5 .5 .3 .5-.1 .5-.1 .5 .1 .5-.5 .5-1 .5-.9 .5-.3 .5 .1 .5-.1 .5-.4 .5-.3 .5-.2 .5-.1 .5-.2 .5-.5 .5-.4 .5-.2 .5-.7 .5-.6 .5 .1 .5 .1 .5-.6 .5-.7 .5-.2 .5 .2 .5-.2 .5-.5 .5-.3 .5-.1 .5 .1 .5 .2 .5 .3 .5 .1 .5 .2 .5 .1 .5 0 .5 .3 .5 .4 .5 0 .5-.3 .5 .2 .5 .3 .5-.1 .5-.2 .5 0 .5 .2 .5 .1 .5-.3 .5-.1 .5 .3 .5 .1 .5-.1 .5-.5 .5-.4 .5 .3 .5 .1 .5 .1 .5 .5 .5-.3 .5-.3 .5 .2 .5 .2 .5-.1 .5 0 .5-.1 .5-.3 .5 .4 .5 .4 .5-.2 .5-.2 .5-.1 .5-.1 .5 .1 .5 .1 .5 0 .5-.4 .5-.3 .5 .9 .5 .5 .5-.3 .5-.6 .5-.8 .5-.4 .5 .7 .5 .7 .5 .1 .5-.2 .5 .1 .5 .3 .5 .2 .5-.2 .5-.2 .5-.1 .5 0 .5-.1 .5 0 .5 .1 .5 .1 .5-.1 .5-.3 .5-.2 .5 .7 .5 .7 .5-.4 .5-.8 .5-.2 .5 0 .5 .1 .5 .1 .5 .1 .5 .1 .5 0 .5 .2 .5 .1 .5-.1 .5-.7 .5-.5 .5 .6 .5 .3 .5 0 .5 .3 .5 .1 .5 .1 .5 0 .5-.3 .5-.1 .5 .1 .5 0 .5-.3 .5 .1 .5 .1 .5-.1 .5 .1 .5 .1 .5 0 .5 .3 .5 .5 .5-.3 .5-.7 .5-.1 .5 .1 .5 .2 .5 .2 .5-.1 .5-.3 .5-.2 .5 .2 .5 .2 .5 .1 .5-.1 .5-.5 .5-.5 .5 .2 .5 .5 .5 .2 .5-.3 .5-.1 .5 0 .5 0 .5 .1 .5 .1 .5-.3 .5-.4 .5 .2 .5 .1 .5-.1 .5-.1 .5 0 .5 .1 .5-.1 .5-.4 .5-.3 .5 .4 .5 .4 .5-.4 .5-.2 .5 .1 .5-.2 .5-.1 .5 0 .5-.2 .5 0 .5-.1 .5-.2 .5 .1 .5 0 .5 0 .5 .2 .5 .1"/>
</g>
<g stroke="#707070" stroke-width="1.1"><line x1="40" y1="31.50" x2="46" y2="31.50"/><line x1="40" y1="48.67" x2="46" y2="48.67"/><line x1="40" y1="65.84" x2="46" y2="65.84"/><line x1="40" y1="83.01" x2="46" y2="83.01"/><line x1="40" y1="100.18" x2="46" y2="100.18"/><line x1="40" y1="117.35" x2="46" y2="117.35"/><line x1="40" y1="134.52" x2="46" y2="134.52"/><line x1="40" y1="151.69" x2="46" y2="151.69"/><line x1="40" y1="168.86" x2="46" y2="168.86"/><line x1="40" y1="186.03" x2="46" y2="186.03"/><line x1="40" y1="203.20" x2="46" y2="203.20"/><line x1="40" y1="220.37" x2="46" y2="220.37"/><line x1="40" y1="237.54" x2="46" y2="237.54"/><line x1="40" y1="254.71" x2="46" y2="254.71"/><line x1="40" y1="271.88" x2="46" y2="271.88"/><line x1="40" y1="289.05" x2="46" y2="289.05"/><line x1="40" y1="306.22" x2="46" y2="306.22"/><line x1="40" y1="323.39" x2="46" y2="323.39"/><line x1="40" y1="340.56" x2="46" y2="340.56"/><line x1="64.10" y1="365" x2="64.10" y2="371"/><line x1="128.69" y1="365" x2="128.69" y2="371"/><line x1="193.28" y1="365" x2="193.28" y2="371"/><line x1="257.87" y1="365" x2="257.87" y2="371"/><line x1="322.46" y1="365" x2="322.46" y2="371"/><line x1="387.05" y1="365" x2="387.05" y2="371"/><line x1="451.64" y1="365" x2="451.64" y2="371"/><line x1="516.23" y1="365" x2="516.23" y2="371"/><line x1="580.82" y1="365" x2="580.82" y2="371"/><line x1="645.41" y1="365" x2="645.41" y2="371"/></g>
<rect x="39" y="0" width="1" height="372" fill="#5e5e5e"/>
<rect x="631.5" y="350.2" width="1.6" height="9.8" fill="#262626"/>
<rect x="39" y="371" width="646" height="1" fill="#b0b0b0"/>
<rect x="39" y="372" width="646" height="1" fill="#c4c4c4"/>
</svg>
<div class="yl" style="top:31.50px">Fp1</div><div class="yl" style="top:48.67px">Fp2</div><div class="yl" style="top:65.84px">F3</div><div class="yl" style="top:83.01px">F4</div><div class="yl" style="top:100.18px">C3</div><div class="yl" style="top:117.35px">C4</div><div class="yl" style="top:134.52px">P3</div><div class="yl" style="top:151.69px">P4</div><div class="yl" style="top:168.86px">O1</div><div class="yl" style="top:186.03px">O2</div><div class="yl" style="top:203.20px">F7</div><div class="yl" style="top:220.37px">F8</div><div class="yl" style="top:237.54px">T7</div><div class="yl" style="top:254.71px">T8</div><div class="yl" style="top:271.88px">P7</div><div class="yl" style="top:289.05px">P8</div><div class="yl" style="top:306.22px">Fz</div><div class="yl" style="top:323.39px">Cz</div><div class="yl" style="top:340.56px">Pz</div>
<div class="xl" style="left:64.10px">395</div><div class="xl" style="left:128.69px">395.5</div><div class="xl" style="left:193.28px">396</div><div class="xl" style="left:257.87px">396.5</div><div class="xl" style="left:322.46px">397</div><div class="xl" style="left:387.05px">397.5</div><div class="xl" style="left:451.64px">398</div><div class="xl" style="left:516.23px">398.5</div><div class="xl" style="left:580.82px">399</div><div class="xl" style="left:645.41px">399.5</div>
<div class="xlab">Time (s)</div>
<div class="ylab">EEG Channels</div>
<div class="leg"></div>
<svg width="685" height="403"><line x1="599.5" y1="13.2" x2="620" y2="13.2" stroke="#a9cfea" stroke-width="1.2"/></svg>
<div class="legt">EEG Signal</div>
<div class="sbt">150 <i>&#956;</i>V</div>
</body></html>
